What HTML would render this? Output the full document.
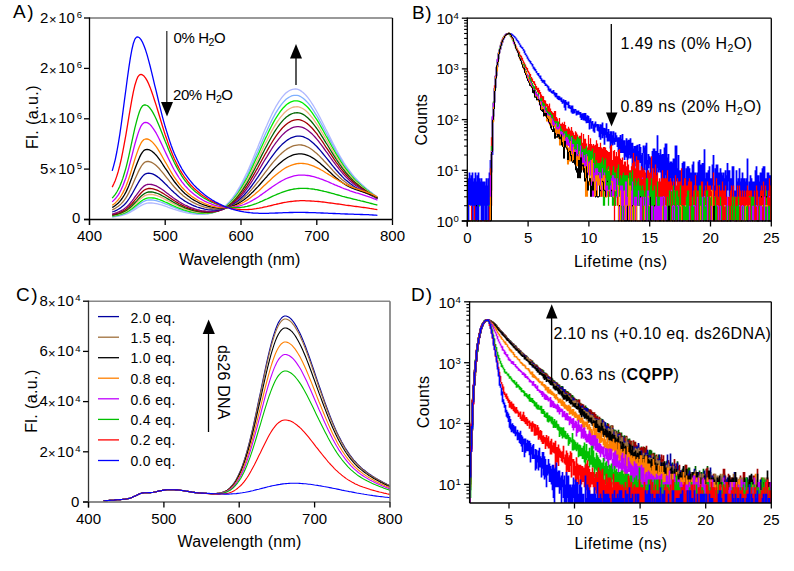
<!DOCTYPE html>
<html><head><meta charset="utf-8"><style>
html,body{margin:0;padding:0;background:#fff;width:794px;height:571px;overflow:hidden}
svg{display:block}
text{font-family:"Liberation Sans", sans-serif;fill:#000}
</style></head><body>
<svg width="794" height="571" viewBox="0 0 794 571">
<path d="M112.2 217 L113.7 216.8 L115.3 216.6 L116.8 216.4 L118.3 216.1 L119.8 215.8 L121.3 215.5 L122.8 215.1 L124.3 214.7 L125.9 214.1 L127.4 213.6 L128.9 212.9 L130.4 212.1 L131.9 211.3 L133.4 210.4 L134.9 209.4 L136.5 208.4 L138 207.5 L139.5 206.5 L141 205.6 L142.5 204.8 L144 204.1 L145.6 203.6 L147.1 203.2 L148.6 203 L150.1 203 L151.6 203 L153.1 203.1 L154.6 203.3 L156.2 203.6 L157.7 203.9 L159.2 204.3 L160.7 204.7 L162.2 205.2 L163.7 205.7 L165.2 206.2 L166.8 206.7 L168.3 207.3 L169.8 207.8 L171.3 208.3 L172.8 208.9 L174.3 209.4 L175.9 209.9 L177.4 210.4 L178.9 210.8 L180.4 211.3 L181.9 211.7 L183.4 212.1 L184.9 212.4 L186.5 212.8 L188 213.1 L189.5 213.3 L191 213.6 L192.5 213.8 L194 214 L195.6 214.2 L197.1 214.3 L198.6 214.4 L200.1 214.4 L201.6 214.4 L203.1 214.4 L204.6 214.3 L206.2 214.2 L207.7 214 L209.2 213.7 L210.7 213.4 L212.2 213 L213.7 212.5 L215.2 212 L216.8 211.4 L218.3 210.6 L219.8 209.8 L221.3 208.8 L222.8 207.8 L224.3 206.6 L225.8 205.3 L227.4 203.8 L228.9 202.2 L230.4 200.5 L231.9 198.7 L233.4 196.7 L234.9 194.5 L236.5 192.2 L238 189.7 L239.5 187.2 L241 184.4 L242.5 181.6 L244 178.6 L245.5 175.5 L247.1 172.2 L248.6 168.9 L250.1 165.5 L251.6 162 L253.1 158.4 L254.6 154.7 L256.1 151.1 L257.7 147.4 L259.2 143.6 L260.7 139.9 L262.2 136.2 L263.7 132.6 L265.2 129 L266.8 125.5 L268.3 122 L269.8 118.7 L271.3 115.5 L272.8 112.4 L274.3 109.5 L275.8 106.7 L277.4 104.1 L278.9 101.7 L280.4 99.5 L281.9 97.4 L283.4 95.6 L284.9 94 L286.4 92.6 L288 91.5 L289.5 90.5 L291 89.8 L292.5 89.3 L294 89.1 L295.5 89 L297.1 89.2 L298.6 89.7 L300.1 90.4 L301.6 91.4 L303.1 92.5 L304.6 93.9 L306.1 95.5 L307.7 97.4 L309.2 99.3 L310.7 101.5 L312.2 103.8 L313.7 106.2 L315.2 108.8 L316.8 111.5 L318.3 114.3 L319.8 117.1 L321.3 120 L322.8 123 L324.3 126 L325.8 129 L327.4 132 L328.9 135.1 L330.4 138.1 L331.9 141.1 L333.4 144 L334.9 146.9 L336.4 149.7 L338 152.5 L339.5 155.2 L341 157.8 L342.5 160.3 L344 162.8 L345.5 165.1 L347.1 167.3 L348.6 169.5 L350.1 171.5 L351.6 173.5 L353.1 175.3 L354.6 177.1 L356.1 178.8 L357.7 180.4 L359.2 181.9 L360.7 183.4 L362.2 184.8 L363.7 186.1 L365.2 187.4 L366.7 188.7 L368.3 189.9 L369.8 191.2 L371.3 192.3 L372.8 193.5 L374.3 194.7 L375.8 195.8 L377.4 197" fill="none" stroke="#b0b8ff" stroke-width="1.3" stroke-linejoin="round"/>
<path d="M112.2 216.5 L113.7 216.3 L115.3 216.1 L116.8 215.8 L118.3 215.5 L119.8 215.1 L121.3 214.8 L122.8 214.3 L124.3 213.8 L125.9 213.2 L127.4 212.5 L128.9 211.7 L130.4 210.8 L131.9 209.8 L133.4 208.7 L134.9 207.6 L136.5 206.4 L138 205.3 L139.5 204.1 L141 203.1 L142.5 202.1 L144 201.3 L145.6 200.7 L147.1 200.2 L148.6 200 L150.1 200 L151.6 200 L153.1 200.2 L154.6 200.4 L156.2 200.7 L157.7 201.1 L159.2 201.5 L160.7 202 L162.2 202.6 L163.7 203.2 L165.2 203.8 L166.8 204.4 L168.3 205 L169.8 205.7 L171.3 206.3 L172.8 206.9 L174.3 207.5 L175.9 208.1 L177.4 208.7 L178.9 209.3 L180.4 209.8 L181.9 210.3 L183.4 210.7 L184.9 211.2 L186.5 211.6 L188 211.9 L189.5 212.3 L191 212.6 L192.5 212.9 L194 213.1 L195.6 213.3 L197.1 213.5 L198.6 213.6 L200.1 213.7 L201.6 213.8 L203.1 213.8 L204.6 213.8 L206.2 213.7 L207.7 213.5 L209.2 213.4 L210.7 213.1 L212.2 212.8 L213.7 212.4 L215.2 211.9 L216.8 211.3 L218.3 210.7 L219.8 209.9 L221.3 209.1 L222.8 208.1 L224.3 207.1 L225.8 205.9 L227.4 204.5 L228.9 203.1 L230.4 201.5 L231.9 199.8 L233.4 197.9 L234.9 195.9 L236.5 193.8 L238 191.5 L239.5 189.1 L241 186.6 L242.5 183.9 L244 181.1 L245.5 178.2 L247.1 175.2 L248.6 172.1 L250.1 168.8 L251.6 165.5 L253.1 162.2 L254.6 158.7 L256.1 155.3 L257.7 151.8 L259.2 148.2 L260.7 144.7 L262.2 141.2 L263.7 137.7 L265.2 134.3 L266.8 131 L268.3 127.7 L269.8 124.5 L271.3 121.4 L272.8 118.4 L274.3 115.6 L275.8 112.9 L277.4 110.4 L278.9 108 L280.4 105.9 L281.9 103.9 L283.4 102.1 L284.9 100.5 L286.4 99.1 L288 97.9 L289.5 97 L291 96.2 L292.5 95.7 L294 95.4 L295.5 95.3 L297.1 95.4 L298.6 95.7 L300.1 96.3 L301.6 97.2 L303.1 98.2 L304.6 99.5 L306.1 101 L307.7 102.6 L309.2 104.4 L310.7 106.4 L312.2 108.6 L313.7 110.9 L315.2 113.3 L316.8 115.8 L318.3 118.4 L319.8 121.1 L321.3 123.8 L322.8 126.6 L324.3 129.5 L325.8 132.3 L327.4 135.2 L328.9 138.1 L330.4 140.9 L331.9 143.8 L333.4 146.6 L334.9 149.3 L336.4 152 L338 154.7 L339.5 157.2 L341 159.7 L342.5 162.1 L344 164.5 L345.5 166.7 L347.1 168.8 L348.6 170.9 L350.1 172.8 L351.6 174.7 L353.1 176.4 L354.6 178.1 L356.1 179.7 L357.7 181.3 L359.2 182.7 L360.7 184.1 L362.2 185.5 L363.7 186.8 L365.2 188 L366.7 189.2 L368.3 190.4 L369.8 191.6 L371.3 192.7 L372.8 193.9 L374.3 195 L375.8 196.1 L377.4 197.2" fill="none" stroke="#80b0ff" stroke-width="1.3" stroke-linejoin="round"/>
<path d="M112.2 216.2 L113.7 215.9 L115.3 215.7 L116.8 215.4 L118.3 215 L119.8 214.7 L121.3 214.2 L122.8 213.7 L124.3 213.1 L125.9 212.5 L127.4 211.7 L128.9 210.8 L130.4 209.8 L131.9 208.7 L133.4 207.5 L134.9 206.3 L136.5 205 L138 203.7 L139.5 202.4 L141 201.2 L142.5 200.2 L144 199.3 L145.6 198.6 L147.1 198.1 L148.6 197.8 L150.1 197.8 L151.6 197.8 L153.1 198 L154.6 198.2 L156.2 198.6 L157.7 199 L159.2 199.5 L160.7 200.1 L162.2 200.7 L163.7 201.3 L165.2 202 L166.8 202.7 L168.3 203.4 L169.8 204.1 L171.3 204.8 L172.8 205.5 L174.3 206.2 L175.9 206.9 L177.4 207.5 L178.9 208.1 L180.4 208.7 L181.9 209.2 L183.4 209.8 L184.9 210.2 L186.5 210.7 L188 211.1 L189.5 211.5 L191 211.8 L192.5 212.2 L194 212.4 L195.6 212.7 L197.1 212.9 L198.6 213.1 L200.1 213.2 L201.6 213.3 L203.1 213.4 L204.6 213.4 L206.2 213.3 L207.7 213.3 L209.2 213.1 L210.7 212.9 L212.2 212.6 L213.7 212.3 L215.2 211.9 L216.8 211.4 L218.3 210.8 L219.8 210.1 L221.3 209.3 L222.8 208.5 L224.3 207.5 L225.8 206.4 L227.4 205.2 L228.9 203.8 L230.4 202.4 L231.9 200.8 L233.4 199.1 L234.9 197.2 L236.5 195.2 L238 193.1 L239.5 190.8 L241 188.4 L242.5 185.9 L244 183.3 L245.5 180.6 L247.1 177.7 L248.6 174.8 L250.1 171.7 L251.6 168.6 L253.1 165.4 L254.6 162.1 L256.1 158.8 L257.7 155.5 L259.2 152.2 L260.7 148.8 L262.2 145.5 L263.7 142.2 L265.2 138.9 L266.8 135.7 L268.3 132.5 L269.8 129.4 L271.3 126.5 L272.8 123.6 L274.3 120.9 L275.8 118.3 L277.4 115.8 L278.9 113.6 L280.4 111.4 L281.9 109.5 L283.4 107.7 L284.9 106.2 L286.4 104.8 L288 103.6 L289.5 102.6 L291 101.9 L292.5 101.3 L294 100.9 L295.5 100.8 L297.1 100.8 L298.6 101.1 L300.1 101.6 L301.6 102.3 L303.1 103.3 L304.6 104.4 L306.1 105.8 L307.7 107.3 L309.2 109 L310.7 110.9 L312.2 112.9 L313.7 115.1 L315.2 117.3 L316.8 119.7 L318.3 122.2 L319.8 124.7 L321.3 127.4 L322.8 130 L324.3 132.8 L325.8 135.5 L327.4 138.2 L328.9 141 L330.4 143.7 L331.9 146.5 L333.4 149.1 L334.9 151.8 L336.4 154.4 L338 156.9 L339.5 159.4 L341 161.8 L342.5 164.1 L344 166.3 L345.5 168.4 L347.1 170.5 L348.6 172.4 L350.1 174.3 L351.6 176.1 L353.1 177.7 L354.6 179.4 L356.1 180.9 L357.7 182.3 L359.2 183.7 L360.7 185.1 L362.2 186.4 L363.7 187.6 L365.2 188.8 L366.7 190 L368.3 191.1 L369.8 192.2 L371.3 193.3 L372.8 194.4 L374.3 195.5 L375.8 196.6 L377.4 197.7" fill="none" stroke="#00ee00" stroke-width="1.3" stroke-linejoin="round"/>
<path d="M112.2 215.7 L113.7 215.4 L115.3 215.1 L116.8 214.7 L118.3 214.4 L119.8 213.9 L121.3 213.4 L122.8 212.8 L124.3 212.2 L125.9 211.4 L127.4 210.5 L128.9 209.5 L130.4 208.3 L131.9 207.1 L133.4 205.7 L134.9 204.2 L136.5 202.7 L138 201.2 L139.5 199.8 L141 198.4 L142.5 197.2 L144 196.2 L145.6 195.4 L147.1 194.8 L148.6 194.5 L150.1 194.5 L151.6 194.5 L153.1 194.7 L154.6 195 L156.2 195.4 L157.7 195.9 L159.2 196.5 L160.7 197.1 L162.2 197.8 L163.7 198.6 L165.2 199.3 L166.8 200.1 L168.3 201 L169.8 201.8 L171.3 202.6 L172.8 203.4 L174.3 204.2 L175.9 204.9 L177.4 205.7 L178.9 206.4 L180.4 207.1 L181.9 207.7 L183.4 208.3 L184.9 208.9 L186.5 209.4 L188 209.9 L189.5 210.3 L191 210.7 L192.5 211.1 L194 211.5 L195.6 211.8 L197.1 212 L198.6 212.3 L200.1 212.4 L201.6 212.6 L203.1 212.7 L204.6 212.8 L206.2 212.8 L207.7 212.7 L209.2 212.7 L210.7 212.5 L212.2 212.3 L213.7 212 L215.2 211.7 L216.8 211.3 L218.3 210.7 L219.8 210.2 L221.3 209.5 L222.8 208.7 L224.3 207.8 L225.8 206.8 L227.4 205.7 L228.9 204.5 L230.4 203.2 L231.9 201.7 L233.4 200.1 L234.9 198.4 L236.5 196.6 L238 194.6 L239.5 192.5 L241 190.3 L242.5 188 L244 185.5 L245.5 183 L247.1 180.3 L248.6 177.6 L250.1 174.7 L251.6 171.8 L253.1 168.8 L254.6 165.7 L256.1 162.6 L257.7 159.5 L259.2 156.3 L260.7 153.1 L262.2 150 L263.7 146.8 L265.2 143.7 L266.8 140.7 L268.3 137.7 L269.8 134.7 L271.3 131.9 L272.8 129.2 L274.3 126.6 L275.8 124.1 L277.4 121.7 L278.9 119.5 L280.4 117.4 L281.9 115.6 L283.4 113.8 L284.9 112.3 L286.4 110.9 L288 109.8 L289.5 108.8 L291 108 L292.5 107.4 L294 107 L295.5 106.8 L297.1 106.7 L298.6 106.9 L300.1 107.3 L301.6 108 L303.1 108.8 L304.6 109.8 L306.1 111.1 L307.7 112.5 L309.2 114.1 L310.7 115.8 L312.2 117.7 L313.7 119.7 L315.2 121.8 L316.8 124.1 L318.3 126.4 L319.8 128.8 L321.3 131.3 L322.8 133.8 L324.3 136.4 L325.8 139 L327.4 141.6 L328.9 144.2 L330.4 146.8 L331.9 149.4 L333.4 152 L334.9 154.5 L336.4 156.9 L338 159.3 L339.5 161.7 L341 163.9 L342.5 166.1 L344 168.3 L345.5 170.3 L347.1 172.2 L348.6 174.1 L350.1 175.8 L351.6 177.5 L353.1 179.1 L354.6 180.6 L356.1 182.1 L357.7 183.5 L359.2 184.8 L360.7 186 L362.2 187.2 L363.7 188.4 L365.2 189.5 L366.7 190.6 L368.3 191.7 L369.8 192.8 L371.3 193.8 L372.8 194.9 L374.3 195.9 L375.8 197 L377.4 198" fill="none" stroke="#f0b080" stroke-width="1.3" stroke-linejoin="round"/>
<path d="M112.2 215.3 L113.7 215 L115.3 214.6 L116.8 214.3 L118.3 213.8 L119.8 213.4 L121.3 212.8 L122.8 212.2 L124.3 211.4 L125.9 210.6 L127.4 209.6 L128.9 208.5 L130.4 207.2 L131.9 205.8 L133.4 204.3 L134.9 202.7 L136.5 201.1 L138 199.4 L139.5 197.8 L141 196.3 L142.5 195 L144 193.9 L145.6 193 L147.1 192.4 L148.6 192 L150.1 192 L151.6 192 L153.1 192.2 L154.6 192.6 L156.2 193 L157.7 193.5 L159.2 194.2 L160.7 194.9 L162.2 195.7 L163.7 196.5 L165.2 197.3 L166.8 198.2 L168.3 199.1 L169.8 200 L171.3 200.9 L172.8 201.8 L174.3 202.7 L175.9 203.5 L177.4 204.3 L178.9 205.1 L180.4 205.8 L181.9 206.5 L183.4 207.2 L184.9 207.8 L186.5 208.4 L188 208.9 L189.5 209.4 L191 209.9 L192.5 210.3 L194 210.7 L195.6 211 L197.1 211.4 L198.6 211.6 L200.1 211.9 L201.6 212.1 L203.1 212.2 L204.6 212.3 L206.2 212.4 L207.7 212.4 L209.2 212.3 L210.7 212.2 L212.2 212.1 L213.7 211.9 L215.2 211.6 L216.8 211.2 L218.3 210.8 L219.8 210.3 L221.3 209.7 L222.8 209 L224.3 208.2 L225.8 207.3 L227.4 206.3 L228.9 205.2 L230.4 204 L231.9 202.7 L233.4 201.2 L234.9 199.6 L236.5 198 L238 196.1 L239.5 194.2 L241 192.2 L242.5 190 L244 187.7 L245.5 185.4 L247.1 182.9 L248.6 180.3 L250.1 177.6 L251.6 174.9 L253.1 172.1 L254.6 169.2 L256.1 166.3 L257.7 163.4 L259.2 160.4 L260.7 157.4 L262.2 154.4 L263.7 151.5 L265.2 148.5 L266.8 145.6 L268.3 142.8 L269.8 140 L271.3 137.3 L272.8 134.7 L274.3 132.2 L275.8 129.8 L277.4 127.5 L278.9 125.4 L280.4 123.4 L281.9 121.6 L283.4 119.9 L284.9 118.4 L286.4 117.1 L288 115.9 L289.5 114.9 L291 114.1 L292.5 113.5 L294 113 L295.5 112.8 L297.1 112.7 L298.6 112.8 L300.1 113.1 L301.6 113.7 L303.1 114.4 L304.6 115.3 L306.1 116.4 L307.7 117.7 L309.2 119.2 L310.7 120.8 L312.2 122.5 L313.7 124.4 L315.2 126.4 L316.8 128.5 L318.3 130.7 L319.8 132.9 L321.3 135.3 L322.8 137.7 L324.3 140.1 L325.8 142.6 L327.4 145 L328.9 147.5 L330.4 150 L331.9 152.4 L333.4 154.8 L334.9 157.2 L336.4 159.5 L338 161.8 L339.5 164 L341 166.2 L342.5 168.3 L344 170.2 L345.5 172.2 L347.1 174 L348.6 175.7 L350.1 177.4 L351.6 179 L353.1 180.5 L354.6 181.9 L356.1 183.2 L357.7 184.5 L359.2 185.7 L360.7 186.9 L362.2 188.1 L363.7 189.1 L365.2 190.2 L366.7 191.3 L368.3 192.3 L369.8 193.3 L371.3 194.3 L372.8 195.3 L374.3 196.3 L375.8 197.3 L377.4 198.3" fill="none" stroke="#006400" stroke-width="1.3" stroke-linejoin="round"/>
<path d="M112.2 214.7 L113.7 214.3 L115.3 213.9 L116.8 213.5 L118.3 213 L119.8 212.5 L121.3 211.8 L122.8 211.1 L124.3 210.2 L125.9 209.2 L127.4 208.1 L128.9 206.8 L130.4 205.3 L131.9 203.7 L133.4 202 L134.9 200.2 L136.5 198.3 L138 196.4 L139.5 194.7 L141 193 L142.5 191.5 L144 190.3 L145.6 189.4 L147.1 188.8 L148.6 188.5 L150.1 188.5 L151.6 188.6 L153.1 188.9 L154.6 189.3 L156.2 189.8 L157.7 190.4 L159.2 191.2 L160.7 192 L162.2 192.9 L163.7 193.8 L165.2 194.8 L166.8 195.8 L168.3 196.8 L169.8 197.8 L171.3 198.8 L172.8 199.8 L174.3 200.8 L175.9 201.7 L177.4 202.6 L178.9 203.5 L180.4 204.3 L181.9 205.1 L183.4 205.8 L184.9 206.5 L186.5 207.2 L188 207.8 L189.5 208.4 L191 208.9 L192.5 209.4 L194 209.8 L195.6 210.2 L197.1 210.5 L198.6 210.9 L200.1 211.1 L201.6 211.4 L203.1 211.6 L204.6 211.7 L206.2 211.9 L207.7 211.9 L209.2 211.9 L210.7 211.9 L212.2 211.8 L213.7 211.7 L215.2 211.4 L216.8 211.2 L218.3 210.8 L219.8 210.4 L221.3 209.9 L222.8 209.3 L224.3 208.6 L225.8 207.8 L227.4 206.9 L228.9 206 L230.4 204.9 L231.9 203.7 L233.4 202.4 L234.9 201 L236.5 199.5 L238 197.8 L239.5 196.1 L241 194.2 L242.5 192.3 L244 190.2 L245.5 188 L247.1 185.8 L248.6 183.4 L250.1 181 L251.6 178.4 L253.1 175.9 L254.6 173.2 L256.1 170.5 L257.7 167.8 L259.2 165 L260.7 162.3 L262.2 159.5 L263.7 156.7 L265.2 154 L266.8 151.3 L268.3 148.6 L269.8 146 L271.3 143.5 L272.8 141 L274.3 138.6 L275.8 136.4 L277.4 134.2 L278.9 132.2 L280.4 130.3 L281.9 128.5 L283.4 126.9 L284.9 125.5 L286.4 124.2 L288 123 L289.5 122.1 L291 121.2 L292.5 120.6 L294 120.1 L295.5 119.8 L297.1 119.7 L298.6 119.7 L300.1 119.9 L301.6 120.4 L303.1 121 L304.6 121.8 L306.1 122.8 L307.7 123.9 L309.2 125.2 L310.7 126.7 L312.2 128.3 L313.7 130 L315.2 131.8 L316.8 133.7 L318.3 135.8 L319.8 137.8 L321.3 140 L322.8 142.2 L324.3 144.5 L325.8 146.8 L327.4 149.1 L328.9 151.4 L330.4 153.7 L331.9 155.9 L333.4 158.2 L334.9 160.4 L336.4 162.6 L338 164.7 L339.5 166.8 L341 168.8 L342.5 170.7 L344 172.5 L345.5 174.3 L347.1 176 L348.6 177.6 L350.1 179.1 L351.6 180.6 L353.1 181.9 L354.6 183.2 L356.1 184.5 L357.7 185.6 L359.2 186.8 L360.7 187.8 L362.2 188.9 L363.7 189.9 L365.2 190.8 L366.7 191.8 L368.3 192.7 L369.8 193.7 L371.3 194.6 L372.8 195.6 L374.3 196.5 L375.8 197.5 L377.4 198.5" fill="none" stroke="#a00000" stroke-width="1.3" stroke-linejoin="round"/>
<path d="M112.2 214 L113.7 213.6 L115.3 213.1 L116.8 212.6 L118.3 212 L119.8 211.4 L121.3 210.6 L122.8 209.7 L124.3 208.7 L125.9 207.5 L127.4 206.2 L128.9 204.7 L130.4 203 L131.9 201.1 L133.4 199.1 L134.9 197 L136.5 194.9 L138 192.8 L139.5 190.8 L141 189 L142.5 187.4 L144 186.1 L145.6 185.1 L147.1 184.5 L148.6 184.3 L150.1 184.3 L151.6 184.5 L153.1 184.8 L154.6 185.3 L156.2 185.9 L157.7 186.7 L159.2 187.6 L160.7 188.5 L162.2 189.5 L163.7 190.6 L165.2 191.7 L166.8 192.9 L168.3 194 L169.8 195.2 L171.3 196.3 L172.8 197.5 L174.3 198.6 L175.9 199.6 L177.4 200.6 L178.9 201.6 L180.4 202.5 L181.9 203.4 L183.4 204.2 L184.9 205 L186.5 205.7 L188 206.4 L189.5 207.1 L191 207.7 L192.5 208.2 L194 208.7 L195.6 209.2 L197.1 209.6 L198.6 209.9 L200.1 210.3 L201.6 210.6 L203.1 210.8 L204.6 211 L206.2 211.2 L207.7 211.3 L209.2 211.4 L210.7 211.4 L212.2 211.4 L213.7 211.3 L215.2 211.2 L216.8 211 L218.3 210.7 L219.8 210.4 L221.3 209.9 L222.8 209.5 L224.3 208.9 L225.8 208.2 L227.4 207.5 L228.9 206.6 L230.4 205.7 L231.9 204.6 L233.4 203.5 L234.9 202.2 L236.5 200.9 L238 199.4 L239.5 197.8 L241 196.2 L242.5 194.4 L244 192.5 L245.5 190.5 L247.1 188.5 L248.6 186.3 L250.1 184.1 L251.6 181.8 L253.1 179.5 L254.6 177 L256.1 174.6 L257.7 172.1 L259.2 169.5 L260.7 167 L262.2 164.4 L263.7 161.8 L265.2 159.3 L266.8 156.8 L268.3 154.3 L269.8 151.9 L271.3 149.5 L272.8 147.2 L274.3 145 L275.8 142.8 L277.4 140.8 L278.9 138.9 L280.4 137.1 L281.9 135.4 L283.4 133.9 L284.9 132.5 L286.4 131.2 L288 130.1 L289.5 129.2 L291 128.4 L292.5 127.7 L294 127.2 L295.5 126.9 L297.1 126.7 L298.6 126.7 L300.1 126.8 L301.6 127.1 L303.1 127.6 L304.6 128.3 L306.1 129.2 L307.7 130.2 L309.2 131.4 L310.7 132.7 L312.2 134.1 L313.7 135.6 L315.2 137.3 L316.8 139.1 L318.3 140.9 L319.8 142.9 L321.3 144.8 L322.8 146.9 L324.3 149 L325.8 151.1 L327.4 153.2 L328.9 155.3 L330.4 157.5 L331.9 159.6 L333.4 161.7 L334.9 163.7 L336.4 165.7 L338 167.7 L339.5 169.6 L341 171.4 L342.5 173.2 L344 174.9 L345.5 176.5 L347.1 178.1 L348.6 179.5 L350.1 180.9 L351.6 182.2 L353.1 183.5 L354.6 184.7 L356.1 185.8 L357.7 186.8 L359.2 187.8 L360.7 188.8 L362.2 189.7 L363.7 190.6 L365.2 191.5 L366.7 192.4 L368.3 193.3 L369.8 194.1 L371.3 195 L372.8 195.9 L374.3 196.8 L375.8 197.7 L377.4 198.6" fill="none" stroke="#800080" stroke-width="1.3" stroke-linejoin="round"/>
<path d="M112.2 212 L113.7 211.5 L115.3 210.8 L116.8 210.1 L118.3 209.3 L119.8 208.4 L121.3 207.3 L122.8 206.1 L124.3 204.7 L125.9 203 L127.4 201.2 L128.9 199 L130.4 196.7 L131.9 194.2 L133.4 191.5 L134.9 188.7 L136.5 185.9 L138 183.2 L139.5 180.6 L141 178.3 L142.5 176.4 L144 174.9 L145.6 173.8 L147.1 173.3 L148.6 173.1 L150.1 173.3 L151.6 173.6 L153.1 174.2 L154.6 174.9 L156.2 175.9 L157.7 176.9 L159.2 178.1 L160.7 179.4 L162.2 180.8 L163.7 182.3 L165.2 183.8 L166.8 185.3 L168.3 186.9 L169.8 188.4 L171.3 189.9 L172.8 191.3 L174.3 192.8 L175.9 194.1 L177.4 195.4 L178.9 196.7 L180.4 197.9 L181.9 199 L183.4 200.1 L184.9 201.1 L186.5 202 L188 202.9 L189.5 203.7 L191 204.4 L192.5 205.2 L194 205.8 L195.6 206.4 L197.1 207 L198.6 207.5 L200.1 207.9 L201.6 208.3 L203.1 208.7 L204.6 209.1 L206.2 209.3 L207.7 209.6 L209.2 209.8 L210.7 209.9 L212.2 210 L213.7 210.1 L215.2 210 L216.8 210 L218.3 209.8 L219.8 209.6 L221.3 209.4 L222.8 209 L224.3 208.6 L225.8 208.1 L227.4 207.6 L228.9 206.9 L230.4 206.1 L231.9 205.3 L233.4 204.4 L234.9 203.3 L236.5 202.2 L238 201 L239.5 199.7 L241 198.3 L242.5 196.8 L244 195.2 L245.5 193.5 L247.1 191.7 L248.6 189.9 L250.1 188 L251.6 186 L253.1 183.9 L254.6 181.8 L256.1 179.6 L257.7 177.4 L259.2 175.2 L260.7 172.9 L262.2 170.7 L263.7 168.4 L265.2 166.1 L266.8 163.9 L268.3 161.7 L269.8 159.5 L271.3 157.4 L272.8 155.3 L274.3 153.3 L275.8 151.4 L277.4 149.5 L278.9 147.8 L280.4 146.1 L281.9 144.6 L283.4 143.2 L284.9 141.9 L286.4 140.7 L288 139.6 L289.5 138.7 L291 137.9 L292.5 137.3 L294 136.8 L295.5 136.4 L297.1 136.2 L298.6 136.1 L300.1 136.1 L301.6 136.3 L303.1 136.7 L304.6 137.3 L306.1 138 L307.7 138.8 L309.2 139.8 L310.7 140.9 L312.2 142.2 L313.7 143.5 L315.2 145 L316.8 146.5 L318.3 148.2 L319.8 149.9 L321.3 151.7 L322.8 153.5 L324.3 155.3 L325.8 157.2 L327.4 159.1 L328.9 161 L330.4 162.9 L331.9 164.8 L333.4 166.7 L334.9 168.5 L336.4 170.3 L338 172 L339.5 173.7 L341 175.3 L342.5 176.9 L344 178.4 L345.5 179.8 L347.1 181.1 L348.6 182.3 L350.1 183.5 L351.6 184.6 L353.1 185.7 L354.6 186.7 L356.1 187.6 L357.7 188.5 L359.2 189.3 L360.7 190.1 L362.2 190.9 L363.7 191.6 L365.2 192.4 L366.7 193.1 L368.3 193.9 L369.8 194.6 L371.3 195.4 L372.8 196.2 L374.3 197 L375.8 197.9 L377.4 198.7" fill="none" stroke="#0000a0" stroke-width="1.3" stroke-linejoin="round"/>
<path d="M112.2 209.9 L113.7 209.1 L115.3 208.3 L116.8 207.3 L118.3 206.3 L119.8 205.1 L121.3 203.6 L122.8 202 L124.3 200.1 L125.9 197.9 L127.4 195.4 L128.9 192.6 L130.4 189.5 L131.9 186.2 L133.4 182.8 L134.9 179.3 L136.5 175.8 L138 172.4 L139.5 169.4 L141 166.7 L142.5 164.5 L144 162.9 L145.6 161.8 L147.1 161.5 L148.6 161.5 L150.1 161.8 L151.6 162.4 L153.1 163.2 L154.6 164.2 L156.2 165.5 L157.7 167 L159.2 168.5 L160.7 170.3 L162.2 172.1 L163.7 173.9 L165.2 175.8 L166.8 177.8 L168.3 179.7 L169.8 181.6 L171.3 183.4 L172.8 185.3 L174.3 187 L175.9 188.7 L177.4 190.3 L178.9 191.8 L180.4 193.3 L181.9 194.6 L183.4 195.9 L184.9 197.1 L186.5 198.3 L188 199.3 L189.5 200.3 L191 201.3 L192.5 202.1 L194 202.9 L195.6 203.7 L197.1 204.4 L198.6 205 L200.1 205.6 L201.6 206.1 L203.1 206.6 L204.6 207.1 L206.2 207.5 L207.7 207.8 L209.2 208.1 L210.7 208.4 L212.2 208.6 L213.7 208.8 L215.2 208.9 L216.8 208.9 L218.3 208.9 L219.8 208.8 L221.3 208.7 L222.8 208.5 L224.3 208.3 L225.8 207.9 L227.4 207.5 L228.9 207 L230.4 206.5 L231.9 205.8 L233.4 205.1 L234.9 204.2 L236.5 203.3 L238 202.3 L239.5 201.3 L241 200.1 L242.5 198.8 L244 197.5 L245.5 196.1 L247.1 194.6 L248.6 193 L250.1 191.3 L251.6 189.6 L253.1 187.8 L254.6 186 L256.1 184.1 L257.7 182.2 L259.2 180.3 L260.7 178.3 L262.2 176.3 L263.7 174.3 L265.2 172.3 L266.8 170.3 L268.3 168.4 L269.8 166.4 L271.3 164.5 L272.8 162.7 L274.3 160.9 L275.8 159.2 L277.4 157.5 L278.9 155.9 L280.4 154.4 L281.9 153 L283.4 151.7 L284.9 150.5 L286.4 149.4 L288 148.4 L289.5 147.6 L291 146.8 L292.5 146.2 L294 145.7 L295.5 145.3 L297.1 145.1 L298.6 144.9 L300.1 144.9 L301.6 145 L303.1 145.3 L304.6 145.7 L306.1 146.3 L307.7 147 L309.2 147.8 L310.7 148.7 L312.2 149.8 L313.7 150.9 L315.2 152.2 L316.8 153.5 L318.3 154.9 L319.8 156.4 L321.3 158 L322.8 159.5 L324.3 161.2 L325.8 162.8 L327.4 164.5 L328.9 166.1 L330.4 167.8 L331.9 169.4 L333.4 171.1 L334.9 172.7 L336.4 174.2 L338 175.7 L339.5 177.2 L341 178.6 L342.5 179.9 L344 181.1 L345.5 182.3 L347.1 183.5 L348.6 184.5 L350.1 185.5 L351.6 186.4 L353.1 187.3 L354.6 188.1 L356.1 188.8 L357.7 189.5 L359.2 190.2 L360.7 190.8 L362.2 191.4 L363.7 192 L365.2 192.7 L366.7 193.3 L368.3 193.9 L369.8 194.6 L371.3 195.3 L372.8 196 L374.3 196.8 L375.8 197.6 L377.4 198.4" fill="none" stroke="#a0703c" stroke-width="1.3" stroke-linejoin="round"/>
<path d="M112.2 207.5 L113.7 206.6 L115.3 205.5 L116.8 204.3 L118.3 203 L119.8 201.4 L121.3 199.5 L122.8 197.4 L124.3 195 L125.9 192.1 L127.4 188.9 L128.9 185.4 L130.4 181.5 L131.9 177.5 L133.4 173.2 L134.9 168.9 L136.5 164.8 L138 160.9 L139.5 157.4 L141 154.4 L142.5 152.1 L144 150.4 L145.6 149.6 L147.1 149.4 L148.6 149.6 L150.1 150.2 L151.6 151 L153.1 152.2 L154.6 153.6 L156.2 155.2 L157.7 157.1 L159.2 159.1 L160.7 161.2 L162.2 163.5 L163.7 165.8 L165.2 168.1 L166.8 170.4 L168.3 172.7 L169.8 175 L171.3 177.2 L172.8 179.4 L174.3 181.5 L175.9 183.5 L177.4 185.3 L178.9 187.2 L180.4 188.9 L181.9 190.5 L183.4 192 L184.9 193.4 L186.5 194.7 L188 195.9 L189.5 197.1 L191 198.2 L192.5 199.2 L194 200.1 L195.6 201 L197.1 201.8 L198.6 202.6 L200.1 203.3 L201.6 204 L203.1 204.6 L204.6 205.1 L206.2 205.6 L207.7 206.1 L209.2 206.5 L210.7 206.9 L212.2 207.2 L213.7 207.5 L215.2 207.7 L216.8 207.9 L218.3 208 L219.8 208.1 L221.3 208.1 L222.8 208 L224.3 207.9 L225.8 207.7 L227.4 207.5 L228.9 207.1 L230.4 206.7 L231.9 206.3 L233.4 205.7 L234.9 205.1 L236.5 204.4 L238 203.6 L239.5 202.7 L241 201.8 L242.5 200.8 L244 199.7 L245.5 198.5 L247.1 197.3 L248.6 196 L250.1 194.6 L251.6 193.1 L253.1 191.7 L254.6 190.1 L256.1 188.5 L257.7 186.9 L259.2 185.2 L260.7 183.5 L262.2 181.8 L263.7 180.1 L265.2 178.4 L266.8 176.7 L268.3 174.9 L269.8 173.3 L271.3 171.6 L272.8 170 L274.3 168.4 L275.8 166.9 L277.4 165.4 L278.9 164 L280.4 162.7 L281.9 161.4 L283.4 160.3 L284.9 159.2 L286.4 158.2 L288 157.3 L289.5 156.5 L291 155.8 L292.5 155.2 L294 154.7 L295.5 154.4 L297.1 154.1 L298.6 153.9 L300.1 153.9 L301.6 153.9 L303.1 154.1 L304.6 154.4 L306.1 154.8 L307.7 155.3 L309.2 156 L310.7 156.7 L312.2 157.6 L313.7 158.5 L315.2 159.6 L316.8 160.7 L318.3 161.9 L319.8 163.1 L321.3 164.4 L322.8 165.7 L324.3 167.1 L325.8 168.4 L327.4 169.8 L328.9 171.2 L330.4 172.6 L331.9 174 L333.4 175.4 L334.9 176.7 L336.4 178 L338 179.3 L339.5 180.5 L341 181.6 L342.5 182.7 L344 183.7 L345.5 184.7 L347.1 185.6 L348.6 186.4 L350.1 187.2 L351.6 187.9 L353.1 188.5 L354.6 189.1 L356.1 189.7 L357.7 190.2 L359.2 190.7 L360.7 191.2 L362.2 191.7 L363.7 192.2 L365.2 192.7 L366.7 193.2 L368.3 193.7 L369.8 194.3 L371.3 194.9 L372.8 195.5 L374.3 196.2 L375.8 197 L377.4 197.8" fill="none" stroke="#000000" stroke-width="1.3" stroke-linejoin="round"/>
<path d="M112.2 205.3 L113.7 204.2 L115.3 202.9 L116.8 201.4 L118.3 199.7 L119.8 197.8 L121.3 195.5 L122.8 192.9 L124.3 189.9 L125.9 186.5 L127.4 182.6 L128.9 178.3 L130.4 173.7 L131.9 168.9 L133.4 164 L134.9 159.1 L136.5 154.4 L138 150.1 L139.5 146.3 L141 143.2 L142.5 140.9 L144 139.5 L145.6 139 L147.1 139 L148.6 139.4 L150.1 140.2 L151.6 141.4 L153.1 142.9 L154.6 144.7 L156.2 146.7 L157.7 148.9 L159.2 151.3 L160.7 153.9 L162.2 156.5 L163.7 159.2 L165.2 161.9 L166.8 164.5 L168.3 167.2 L169.8 169.8 L171.3 172.3 L172.8 174.8 L174.3 177.1 L175.9 179.3 L177.4 181.5 L178.9 183.5 L180.4 185.4 L181.9 187.2 L183.4 188.8 L184.9 190.4 L186.5 191.9 L188 193.3 L189.5 194.6 L191 195.8 L192.5 196.9 L194 197.9 L195.6 198.9 L197.1 199.8 L198.6 200.7 L200.1 201.5 L201.6 202.2 L203.1 202.9 L204.6 203.6 L206.2 204.2 L207.7 204.7 L209.2 205.3 L210.7 205.7 L212.2 206.1 L213.7 206.5 L215.2 206.8 L216.8 207.1 L218.3 207.4 L219.8 207.5 L221.3 207.7 L222.8 207.7 L224.3 207.7 L225.8 207.7 L227.4 207.6 L228.9 207.4 L230.4 207.2 L231.9 206.9 L233.4 206.5 L234.9 206.1 L236.5 205.6 L238 205 L239.5 204.4 L241 203.7 L242.5 202.9 L244 202 L245.5 201.1 L247.1 200.1 L248.6 199.1 L250.1 198 L251.6 196.8 L253.1 195.6 L254.6 194.4 L256.1 193.1 L257.7 191.7 L259.2 190.4 L260.7 189 L262.2 187.5 L263.7 186.1 L265.2 184.7 L266.8 183.2 L268.3 181.8 L269.8 180.4 L271.3 179 L272.8 177.6 L274.3 176.3 L275.8 175 L277.4 173.7 L278.9 172.5 L280.4 171.4 L281.9 170.3 L283.4 169.3 L284.9 168.3 L286.4 167.4 L288 166.7 L289.5 166 L291 165.3 L292.5 164.8 L294 164.3 L295.5 164 L297.1 163.7 L298.6 163.5 L300.1 163.4 L301.6 163.4 L303.1 163.5 L304.6 163.7 L306.1 163.9 L307.7 164.2 L309.2 164.6 L310.7 165.1 L312.2 165.6 L313.7 166.2 L315.2 166.9 L316.8 167.6 L318.3 168.3 L319.8 169.1 L321.3 170 L322.8 170.8 L324.3 171.7 L325.8 172.7 L327.4 173.6 L328.9 174.6 L330.4 175.5 L331.9 176.5 L333.4 177.4 L334.9 178.4 L336.4 179.3 L338 180.2 L339.5 181.1 L341 181.9 L342.5 182.8 L344 183.5 L345.5 184.3 L347.1 185 L348.6 185.7 L350.1 186.3 L351.6 186.9 L353.1 187.5 L354.6 188.1 L356.1 188.6 L357.7 189.1 L359.2 189.6 L360.7 190.1 L362.2 190.6 L363.7 191.1 L365.2 191.7 L366.7 192.2 L368.3 192.8 L369.8 193.4 L371.3 194 L372.8 194.7 L374.3 195.4 L375.8 196.2 L377.4 197" fill="none" stroke="#ff8000" stroke-width="1.3" stroke-linejoin="round"/>
<path d="M112.2 201.9 L113.7 200.4 L115.3 198.8 L116.8 196.9 L118.3 194.8 L119.8 192.3 L121.3 189.3 L122.8 186 L124.3 182.1 L125.9 177.7 L127.4 172.8 L128.9 167.4 L130.4 161.7 L131.9 155.8 L133.4 149.8 L134.9 144 L136.5 138.5 L138 133.6 L139.5 129.4 L141 126.1 L142.5 123.9 L144 122.7 L145.6 122.4 L147.1 122.7 L148.6 123.4 L150.1 124.6 L151.6 126.3 L153.1 128.3 L154.6 130.6 L156.2 133.2 L157.7 136 L159.2 139 L160.7 142.1 L162.2 145.3 L163.7 148.6 L165.2 151.8 L166.8 155.1 L168.3 158.2 L169.8 161.3 L171.3 164.3 L172.8 167.2 L174.3 170 L175.9 172.6 L177.4 175.1 L178.9 177.5 L180.4 179.7 L181.9 181.8 L183.4 183.7 L184.9 185.6 L186.5 187.3 L188 188.9 L189.5 190.4 L191 191.8 L192.5 193.1 L194 194.3 L195.6 195.5 L197.1 196.6 L198.6 197.6 L200.1 198.5 L201.6 199.4 L203.1 200.3 L204.6 201.1 L206.2 201.8 L207.7 202.5 L209.2 203.1 L210.7 203.7 L212.2 204.3 L213.7 204.8 L215.2 205.3 L216.8 205.7 L218.3 206.1 L219.8 206.4 L221.3 206.7 L222.8 206.9 L224.3 207.1 L225.8 207.3 L227.4 207.3 L228.9 207.4 L230.4 207.3 L231.9 207.3 L233.4 207.1 L234.9 206.9 L236.5 206.7 L238 206.3 L239.5 206 L241 205.5 L242.5 205 L244 204.5 L245.5 203.9 L247.1 203.2 L248.6 202.5 L250.1 201.7 L251.6 200.9 L253.1 200 L254.6 199.1 L256.1 198.2 L257.7 197.2 L259.2 196.2 L260.7 195.1 L262.2 194.1 L263.7 193 L265.2 191.9 L266.8 190.8 L268.3 189.7 L269.8 188.6 L271.3 187.6 L272.8 186.5 L274.3 185.5 L275.8 184.5 L277.4 183.5 L278.9 182.5 L280.4 181.6 L281.9 180.8 L283.4 180 L284.9 179.2 L286.4 178.5 L288 177.9 L289.5 177.3 L291 176.8 L292.5 176.3 L294 175.9 L295.5 175.6 L297.1 175.4 L298.6 175.2 L300.1 175.1 L301.6 175.1 L303.1 175.1 L304.6 175.2 L306.1 175.3 L307.7 175.5 L309.2 175.7 L310.7 176 L312.2 176.3 L313.7 176.7 L315.2 177.1 L316.8 177.6 L318.3 178 L319.8 178.6 L321.3 179.1 L322.8 179.7 L324.3 180.3 L325.8 180.9 L327.4 181.5 L328.9 182.1 L330.4 182.8 L331.9 183.5 L333.4 184.1 L334.9 184.8 L336.4 185.4 L338 186.1 L339.5 186.7 L341 187.3 L342.5 188 L344 188.6 L345.5 189.1 L347.1 189.7 L348.6 190.2 L350.1 190.8 L351.6 191.3 L353.1 191.8 L354.6 192.3 L356.1 192.8 L357.7 193.2 L359.2 193.7 L360.7 194.2 L362.2 194.6 L363.7 195.1 L365.2 195.6 L366.7 196.1 L368.3 196.6 L369.8 197.2 L371.3 197.7 L372.8 198.3 L374.3 198.9 L375.8 199.5 L377.4 200.2" fill="none" stroke="#c000ff" stroke-width="1.3" stroke-linejoin="round"/>
<path d="M112.2 198.2 L113.7 196.4 L115.3 194.3 L116.8 192 L118.3 189.3 L119.8 186.2 L121.3 182.6 L122.8 178.4 L124.3 173.5 L125.9 168.1 L127.4 162.1 L128.9 155.6 L130.4 148.7 L131.9 141.7 L133.4 134.7 L134.9 127.9 L136.5 121.6 L138 116.1 L139.5 111.5 L141 108.1 L142.5 105.9 L144 105 L145.6 105 L147.1 105.5 L148.6 106.6 L150.1 108.3 L151.6 110.4 L153.1 112.9 L154.6 115.8 L156.2 119 L157.7 122.4 L159.2 126.1 L160.7 129.8 L162.2 133.6 L163.7 137.5 L165.2 141.3 L166.8 145.1 L168.3 148.9 L169.8 152.5 L171.3 156 L172.8 159.3 L174.3 162.5 L175.9 165.6 L177.4 168.4 L178.9 171.2 L180.4 173.7 L181.9 176.1 L183.4 178.3 L184.9 180.5 L186.5 182.4 L188 184.3 L189.5 186 L191 187.6 L192.5 189.1 L194 190.5 L195.6 191.9 L197.1 193.1 L198.6 194.3 L200.1 195.4 L201.6 196.5 L203.1 197.5 L204.6 198.4 L206.2 199.3 L207.7 200.1 L209.2 200.9 L210.7 201.6 L212.2 202.3 L213.7 203 L215.2 203.6 L216.8 204.2 L218.3 204.7 L219.8 205.2 L221.3 205.7 L222.8 206.1 L224.3 206.4 L225.8 206.8 L227.4 207 L228.9 207.3 L230.4 207.5 L231.9 207.6 L233.4 207.7 L234.9 207.7 L236.5 207.7 L238 207.7 L239.5 207.6 L241 207.4 L242.5 207.2 L244 207 L245.5 206.7 L247.1 206.4 L248.6 206 L250.1 205.6 L251.6 205.2 L253.1 204.7 L254.6 204.1 L256.1 203.6 L257.7 203 L259.2 202.4 L260.7 201.7 L262.2 201.1 L263.7 200.4 L265.2 199.7 L266.8 199 L268.3 198.3 L269.8 197.6 L271.3 196.9 L272.8 196.2 L274.3 195.5 L275.8 194.9 L277.4 194.2 L278.9 193.6 L280.4 193 L281.9 192.4 L283.4 191.8 L284.9 191.3 L286.4 190.8 L288 190.4 L289.5 190 L291 189.6 L292.5 189.3 L294 189 L295.5 188.8 L297.1 188.6 L298.6 188.5 L300.1 188.4 L301.6 188.3 L303.1 188.3 L304.6 188.4 L306.1 188.4 L307.7 188.5 L309.2 188.7 L310.7 188.8 L312.2 189 L313.7 189.2 L315.2 189.5 L316.8 189.7 L318.3 190 L319.8 190.3 L321.3 190.7 L322.8 191 L324.3 191.4 L325.8 191.7 L327.4 192.1 L328.9 192.5 L330.4 192.9 L331.9 193.3 L333.4 193.7 L334.9 194.2 L336.4 194.6 L338 195 L339.5 195.4 L341 195.8 L342.5 196.3 L344 196.7 L345.5 197.1 L347.1 197.5 L348.6 197.8 L350.1 198.2 L351.6 198.6 L353.1 199 L354.6 199.3 L356.1 199.7 L357.7 200.1 L359.2 200.4 L360.7 200.8 L362.2 201.1 L363.7 201.5 L365.2 201.9 L366.7 202.3 L368.3 202.7 L369.8 203.1 L371.3 203.5 L372.8 203.9 L374.3 204.3 L375.8 204.7 L377.4 205.2" fill="none" stroke="#00c000" stroke-width="1.3" stroke-linejoin="round"/>
<path d="M112.2 187.1 L113.7 184 L115.3 180.4 L116.8 176.1 L118.3 171.2 L119.8 165.5 L121.3 159 L122.8 151.6 L124.3 143.6 L125.9 134.9 L127.4 125.9 L128.9 116.7 L130.4 107.8 L131.9 99.3 L133.4 91.6 L134.9 85.2 L136.5 80.1 L138 76.6 L139.5 74.8 L141 74.4 L142.5 74.9 L144 76.1 L145.6 78.1 L147.1 80.6 L148.6 83.8 L150.1 87.4 L151.6 91.5 L153.1 95.9 L154.6 100.5 L156.2 105.4 L157.7 110.3 L159.2 115.3 L160.7 120.3 L162.2 125.2 L163.7 130.1 L165.2 134.7 L166.8 139.2 L168.3 143.6 L169.8 147.7 L171.3 151.6 L172.8 155.3 L174.3 158.8 L175.9 162 L177.4 165.1 L178.9 168 L180.4 170.7 L181.9 173.2 L183.4 175.5 L184.9 177.7 L186.5 179.7 L188 181.7 L189.5 183.5 L191 185.2 L192.5 186.8 L194 188.3 L195.6 189.7 L197.1 191 L198.6 192.3 L200.1 193.5 L201.6 194.7 L203.1 195.8 L204.6 196.8 L206.2 197.8 L207.7 198.8 L209.2 199.7 L210.7 200.5 L212.2 201.4 L213.7 202.1 L215.2 202.9 L216.8 203.6 L218.3 204.2 L219.8 204.9 L221.3 205.5 L222.8 206 L224.3 206.5 L225.8 207 L227.4 207.4 L228.9 207.8 L230.4 208.2 L231.9 208.5 L233.4 208.8 L234.9 209 L236.5 209.2 L238 209.4 L239.5 209.5 L241 209.6 L242.5 209.7 L244 209.7 L245.5 209.7 L247.1 209.6 L248.6 209.5 L250.1 209.4 L251.6 209.3 L253.1 209.1 L254.6 208.9 L256.1 208.7 L257.7 208.4 L259.2 208.2 L260.7 207.9 L262.2 207.6 L263.7 207.2 L265.2 206.9 L266.8 206.6 L268.3 206.2 L269.8 205.8 L271.3 205.5 L272.8 205.1 L274.3 204.7 L275.8 204.4 L277.4 204 L278.9 203.7 L280.4 203.3 L281.9 203 L283.4 202.7 L284.9 202.4 L286.4 202.2 L288 201.9 L289.5 201.7 L291 201.5 L292.5 201.3 L294 201.1 L295.5 201 L297.1 200.9 L298.6 200.8 L300.1 200.7 L301.6 200.7 L303.1 200.7 L304.6 200.7 L306.1 200.8 L307.7 200.8 L309.2 200.9 L310.7 201 L312.2 201.1 L313.7 201.2 L315.2 201.3 L316.8 201.4 L318.3 201.5 L319.8 201.7 L321.3 201.9 L322.8 202 L324.3 202.2 L325.8 202.4 L327.4 202.6 L328.9 202.8 L330.4 203 L331.9 203.2 L333.4 203.4 L334.9 203.6 L336.4 203.8 L338 204 L339.5 204.2 L341 204.4 L342.5 204.6 L344 204.8 L345.5 205.1 L347.1 205.3 L348.6 205.5 L350.1 205.7 L351.6 205.9 L353.1 206.1 L354.6 206.3 L356.1 206.5 L357.7 206.7 L359.2 206.9 L360.7 207.1 L362.2 207.3 L363.7 207.5 L365.2 207.7 L366.7 207.9 L368.3 208.1 L369.8 208.4 L371.3 208.6 L372.8 208.8 L374.3 209.1 L375.8 209.3 L377.4 209.6" fill="none" stroke="#ff0000" stroke-width="1.3" stroke-linejoin="round"/>
<path d="M112.2 170.9 L113.7 165.6 L115.3 159.3 L116.8 152 L118.3 143.7 L119.8 134.3 L121.3 124 L122.8 112.9 L124.3 101.3 L125.9 89.5 L127.4 78 L128.9 67.3 L130.4 57.6 L131.9 49.5 L133.4 43.2 L134.9 39.1 L136.5 37.2 L138 37 L139.5 37.8 L141 39.6 L142.5 42.3 L144 45.8 L145.6 50.1 L147.1 54.9 L148.6 60.3 L150.1 66 L151.6 72.1 L153.1 78.4 L154.6 84.8 L156.2 91.2 L157.7 97.5 L159.2 103.8 L160.7 109.9 L162.2 115.8 L163.7 121.4 L165.2 126.8 L166.8 131.9 L168.3 136.8 L169.8 141.4 L171.3 145.7 L172.8 149.7 L174.3 153.4 L175.9 156.9 L177.4 160.2 L178.9 163.3 L180.4 166.1 L181.9 168.8 L183.4 171.3 L184.9 173.7 L186.5 175.9 L188 177.9 L189.5 179.9 L191 181.7 L192.5 183.5 L194 185.1 L195.6 186.7 L197.1 188.2 L198.6 189.6 L200.1 191 L201.6 192.3 L203.1 193.5 L204.6 194.7 L206.2 195.9 L207.7 197 L209.2 198 L210.7 199 L212.2 200 L213.7 200.9 L215.2 201.8 L216.8 202.6 L218.3 203.4 L219.8 204.2 L221.3 204.9 L222.8 205.6 L224.3 206.3 L225.8 206.9 L227.4 207.5 L228.9 208 L230.4 208.6 L231.9 209 L233.4 209.5 L234.9 209.9 L236.5 210.3 L238 210.7 L239.5 211 L241 211.3 L242.5 211.6 L244 211.9 L245.5 212.1 L247.1 212.3 L248.6 212.5 L250.1 212.7 L251.6 212.8 L253.1 213 L254.6 213.1 L256.1 213.1 L257.7 213.2 L259.2 213.3 L260.7 213.3 L262.2 213.3 L263.7 213.3 L265.2 213.3 L266.8 213.3 L268.3 213.3 L269.8 213.2 L271.3 213.2 L272.8 213.1 L274.3 213.1 L275.8 213 L277.4 213 L278.9 212.9 L280.4 212.9 L281.9 212.8 L283.4 212.7 L284.9 212.7 L286.4 212.6 L288 212.6 L289.5 212.5 L291 212.5 L292.5 212.5 L294 212.4 L295.5 212.4 L297.1 212.4 L298.6 212.4 L300.1 212.4 L301.6 212.4 L303.1 212.4 L304.6 212.4 L306.1 212.5 L307.7 212.5 L309.2 212.6 L310.7 212.6 L312.2 212.6 L313.7 212.7 L315.2 212.7 L316.8 212.8 L318.3 212.8 L319.8 212.9 L321.3 213 L322.8 213 L324.3 213.1 L325.8 213.1 L327.4 213.2 L328.9 213.3 L330.4 213.3 L331.9 213.4 L333.4 213.5 L334.9 213.5 L336.4 213.6 L338 213.7 L339.5 213.7 L341 213.8 L342.5 213.9 L344 213.9 L345.5 214 L347.1 214 L348.6 214.1 L350.1 214.1 L351.6 214.2 L353.1 214.2 L354.6 214.3 L356.1 214.3 L357.7 214.4 L359.2 214.4 L360.7 214.5 L362.2 214.5 L363.7 214.6 L365.2 214.6 L366.7 214.7 L368.3 214.7 L369.8 214.8 L371.3 214.9 L372.8 215 L374.3 215.1 L375.8 215.2 L377.4 215.3" fill="none" stroke="#0000ff" stroke-width="1.3" stroke-linejoin="round"/>
<line x1="89.5" y1="18" x2="392.5" y2="18" stroke="#777" stroke-width="1.5"/>
<line x1="392.5" y1="18" x2="392.5" y2="219.5" stroke="#000" stroke-width="1.3"/>
<line x1="89.5" y1="17.4" x2="89.5" y2="225" stroke="#000" stroke-width="1.3"/>
<line x1="84" y1="219.5" x2="392.5" y2="219.5" stroke="#000" stroke-width="1.3"/>
<line x1="84" y1="219.5" x2="89.5" y2="219.5" stroke="#000" stroke-width="1.3"/>
<line x1="89.5" y1="219.5" x2="89.5" y2="225" stroke="#000" stroke-width="1.3"/>
<text id="ax0" x="89.50" y="240.50" font-size="15" text-anchor="middle" >400</text>
<line x1="84" y1="169.1" x2="89.5" y2="169.1" stroke="#000" stroke-width="1.3"/>
<line x1="165.2" y1="219.5" x2="165.2" y2="225" stroke="#000" stroke-width="1.3"/>
<text id="ax1" x="165.25" y="240.50" font-size="15" text-anchor="middle" >500</text>
<line x1="84" y1="118.8" x2="89.5" y2="118.8" stroke="#000" stroke-width="1.3"/>
<line x1="241" y1="219.5" x2="241" y2="225" stroke="#000" stroke-width="1.3"/>
<text id="ax2" x="241.00" y="240.50" font-size="15" text-anchor="middle" >600</text>
<line x1="84" y1="68.4" x2="89.5" y2="68.4" stroke="#000" stroke-width="1.3"/>
<line x1="316.8" y1="219.5" x2="316.8" y2="225" stroke="#000" stroke-width="1.3"/>
<text id="ax3" x="316.75" y="240.50" font-size="15" text-anchor="middle" >700</text>
<line x1="84" y1="18" x2="89.5" y2="18" stroke="#000" stroke-width="1.3"/>
<line x1="392.5" y1="219.5" x2="392.5" y2="225" stroke="#000" stroke-width="1.3"/>
<text id="ax4" x="392.50" y="240.50" font-size="15" text-anchor="middle" >800</text>
<text id="ay0" x="72.00" y="223.00" font-size="15" >0</text>
<text id="ay1" x="40.00" y="173.55" font-size="15">5<tspan x="48.93" dy="1.6" font-size="13">×</tspan><tspan x="58.27" dy="-1.6">10</tspan><tspan x="76.80" dy="-4.6" font-size="9.5">5</tspan></text>
<text id="ay2" x="40.00" y="123.30" font-size="15">1<tspan x="48.93" dy="1.6" font-size="13">×</tspan><tspan x="58.27" dy="-1.6">10</tspan><tspan x="76.80" dy="-4.6" font-size="9.5">6</tspan></text>
<text id="ay3" x="40.00" y="73.05" font-size="15">2<tspan x="48.93" dy="1.6" font-size="13">×</tspan><tspan x="58.27" dy="-1.6">10</tspan><tspan x="76.80" dy="-4.6" font-size="9.5">6</tspan></text>
<text id="ay4" x="40.00" y="22.80" font-size="15">2<tspan x="48.93" dy="1.6" font-size="13">×</tspan><tspan x="58.27" dy="-1.6">10</tspan><tspan x="76.80" dy="-4.6" font-size="9.5">6</tspan></text>
<text id="Alab" x="13.00" y="18.20" font-size="19" letter-spacing="1.50" >A)</text>
<text id="Aytitle" transform="translate(37.50,149.00) rotate(-90)" font-size="16" letter-spacing="0.44" >Fl. (a.u.)</text>
<text id="Axtitle" x="179.00" y="265.00" font-size="16" >Wavelength (nm)</text>
<line x1="166.8" y1="31" x2="166.8" y2="103" stroke="#333" stroke-width="1.3"/>
<path d="M161 102 L173 102 L167 116.5 Z" fill="#000"/>
<text id="Ah0" x="173.50" y="42.50" font-size="15" letter-spacing="-0.40" >0% H<tspan font-size="10.5" dy="3">2</tspan><tspan dy="-3">O</tspan></text>
<text id="Ah20" x="173.00" y="99.50" font-size="15" letter-spacing="-0.42" >20% H<tspan font-size="10.5" dy="3">2</tspan><tspan dy="-3">O</tspan></text>
<line x1="296" y1="85" x2="296" y2="58" stroke="#000" stroke-width="1.3"/>
<path d="M290 58.5 L302 58.5 L296 44 Z" fill="#000"/>
<clipPath id="cb"><rect x="467.3" y="16" width="304" height="205.5"/></clipPath>
<g clip-path="url(#cb)">
<path d="M467.5 178.2V205.7M468.5 178.2V221.0M469.5 172.6V205.7M470.5 178.2V205.7M471.5 175.2V205.7M472.5 172.6V221.0M473.5 181.5V205.7M474.5 178.2V221.0M475.5 172.6V221.0M476.5 181.5V221.0M477.5 175.2V221.0M478.5 172.6V221.0M479.5 178.2V205.7M480.5 181.5V205.7M481.5 178.2V221.0M482.5 181.5V221.0M483.5 181.5V221.0M484.5 181.5V205.7M485.5 185.6V221.0M486.5 178.2V221.0M487.5 185.6V205.7M488.5 178.2V221.0M489.5 172.6V221.0M490.5 160.0V196.8M491.5 154.0V172.6M492.5 116.5V155.0M493.5 102.8V116.5M494.5 88.1V102.8M495.5 75.7V88.1M496.5 67.2V75.7M497.5 59.2V67.2M498.5 52.8V59.2M499.5 49.8V52.8M500.5 45.7V49.8M501.5 42.1V45.7M502.5 39.8V42.7M503.5 37.1V39.8M504.5 35.7V37.7M505.5 34.2V35.8M506.5 33.3V34.7M507.5 33.0V34.4M508.5 32.9V34.3M509.5 32.9V34.3M510.5 33.0V34.4M511.5 33.5V34.9M512.5 34.3V35.7M513.5 35.2V36.6M514.5 36.1V37.5M515.5 37.2V38.6M516.5 38.6V40.4M517.5 40.0V41.4M518.5 41.2V43.2M519.5 43.2V44.7M520.5 44.7V46.9M521.5 46.5V47.9M522.5 47.3V49.1M523.5 49.1V50.8M524.5 50.5V53.2M525.5 53.2V54.9M526.5 54.8V56.4M527.5 56.4V58.7M528.5 58.4V60.6M529.5 60.1V61.7M530.5 60.9V63.4M531.5 63.0V64.4M532.5 63.9V66.5M533.5 66.5V68.7M534.5 67.6V70.3M535.5 68.9V71.3M536.5 70.9V73.1M537.5 73.0V74.8M538.5 73.0V76.0M539.5 75.4V77.6M540.5 75.4V79.0M541.5 78.2V80.9M542.5 79.8V82.7M543.5 79.8V82.8M544.5 80.3V83.9M545.5 83.3V85.9M546.5 84.3V86.0M547.5 85.2V87.5M548.5 86.3V90.6M549.5 88.5V91.8M550.5 88.5V91.5M551.5 90.7V93.0M552.5 91.3V93.7M553.5 90.1V93.7M554.5 92.3V95.6M555.5 92.8V97.3M556.5 93.1V97.5M557.5 95.8V98.9M558.5 95.8V100.0M559.5 96.2V100.2M560.5 97.4V100.5M561.5 97.5V102.0M562.5 100.8V103.8M563.5 99.2V102.8M564.5 100.5V107.8M565.5 99.9V110.4M566.5 101.8V104.6M567.5 103.3V105.1M568.5 101.4V108.3M569.5 104.9V108.4M570.5 106.9V109.0M571.5 105.6V112.5M572.5 105.5V113.7M573.5 108.8V113.7M574.5 109.4V113.2M575.5 109.0V110.4M576.5 110.4V115.4M577.5 111.0V114.7M578.5 110.5V114.7M579.5 111.9V114.7M580.5 111.9V117.7M581.5 114.0V120.0M582.5 113.3V118.7M583.5 113.3V120.5M584.5 113.0V120.3M585.5 113.0V121.2M586.5 116.7V123.2M587.5 115.2V122.9M588.5 116.1V122.9M589.5 120.0V129.4M590.5 118.3V122.7M591.5 121.9V128.7M592.5 121.0V125.4M593.5 124.5V131.6M594.5 123.4V132.8M595.5 121.4V127.5M596.5 124.2V126.2M597.5 124.0V130.8M598.5 124.2V131.6M599.5 126.8V137.2M600.5 124.2V139.8M601.5 124.8V134.0M602.5 122.4V138.2M603.5 127.8V135.8M604.5 128.1V144.7M605.5 128.7V134.9M606.5 123.2V137.7M607.5 132.0V141.5M608.5 129.1V141.5M609.5 134.0V141.5M610.5 131.2V148.4M611.5 131.2V143.4M612.5 135.3V145.4M613.5 131.2V142.7M614.5 137.7V144.7M615.5 132.4V142.1M616.5 135.3V141.5M617.5 137.7V146.9M618.5 137.2V152.0M619.5 137.2V151.0M620.5 134.9V152.9M621.5 138.7V152.9M622.5 134.0V152.9M623.5 140.3V152.9M624.5 140.3V160.0M625.5 145.4V156.2M626.5 138.2V157.4M627.5 140.9V160.0M628.5 139.8V158.6M629.5 139.8V155.0M630.5 138.2V158.6M631.5 142.7V157.4M632.5 142.7V170.3M633.5 148.4V162.9M634.5 146.1V166.3M635.5 146.1V161.4M636.5 145.4V168.2M637.5 144.7V172.6M638.5 151.0V175.2M639.5 144.0V161.4M640.5 146.9V162.9M641.5 155.0V181.5M642.5 152.9V172.6M643.5 145.4V152.9M644.5 147.6V170.3M645.5 145.4V164.5M646.5 142.7V181.5M647.5 160.0V181.5M648.5 154.0V168.2M649.5 156.2V164.5M650.5 157.4V181.5M651.5 160.0V181.5M652.5 151.0V168.2M653.5 148.4V190.5M654.5 148.4V175.2M655.5 151.0V175.2M656.5 151.0V181.5M657.5 135.3V168.2M658.5 152.9V172.6M659.5 155.0V170.3M660.5 149.3V172.6M661.5 155.0V185.6M662.5 154.0V181.5M663.5 154.0V205.7M664.5 147.6V205.7M665.5 143.4V175.2M666.5 143.4V221.0M667.5 157.4V181.5M668.5 154.0V190.5M669.5 162.9V185.6M670.5 161.4V178.2M671.5 161.4V185.6M672.5 162.9V196.8M673.5 158.6V178.2M674.5 158.6V190.5M675.5 145.4V190.5M676.5 145.4V181.5M677.5 168.2V181.5M678.5 155.0V205.7M679.5 170.3V190.5M680.5 170.3V205.7M681.5 178.2V190.5M682.5 162.9V190.5M683.5 161.4V190.5M684.5 161.4V221.0M685.5 178.2V196.8M686.5 168.2V190.5M687.5 166.3V221.0M688.5 166.3V185.6M689.5 168.2V185.6M690.5 172.6V190.5M691.5 172.6V190.5M692.5 164.5V205.7M693.5 161.4V196.8M694.5 172.6V185.6M695.5 172.6V196.8M696.5 175.2V190.5M697.5 172.6V205.7M698.5 161.4V221.0M699.5 160.0V205.7M700.5 164.5V190.5M701.5 164.5V205.7M702.5 162.9V205.7M703.5 162.9V196.8M704.5 149.3V205.7M705.5 178.2V205.7M706.5 172.6V196.8M707.5 172.6V221.0M708.5 170.3V205.7M709.5 166.3V221.0M710.5 178.2V205.7M711.5 178.2V205.7M712.5 164.5V185.6M713.5 155.0V196.8M714.5 185.6V196.8M715.5 168.2V196.8M716.5 164.5V196.8M717.5 164.5V196.8M718.5 172.6V205.7M719.5 172.6V196.8M720.5 168.2V196.8M721.5 172.6V221.0M722.5 175.2V205.7M723.5 172.6V221.0M724.5 178.2V221.0M725.5 170.3V205.7M726.5 175.2V205.7M727.5 162.9V190.5M728.5 170.3V181.5M729.5 170.3V196.8M730.5 178.2V221.0M731.5 178.2V221.0M732.5 166.3V221.0M733.5 166.3V205.7M734.5 190.5V221.0M735.5 190.5V196.8M736.5 170.3V221.0M737.5 181.5V221.0M738.5 178.2V205.7M739.5 168.2V205.7M740.5 181.5V205.7M741.5 178.2V205.7M742.5 172.6V190.5M743.5 178.2V221.0M744.5 178.2V221.0M745.5 181.5V205.7M746.5 178.2V221.0M747.5 158.6V221.0M748.5 190.5V221.0M749.5 181.5V205.7M750.5 175.2V205.7M751.5 178.2V221.0M752.5 181.5V205.7M753.5 181.5V205.7M754.5 181.5V221.0M755.5 170.3V221.0M756.5 166.3V221.0M757.5 175.2V221.0M758.5 175.2V196.8M759.5 181.5V205.7M760.5 172.6V221.0M761.5 172.6V190.5M762.5 168.2V205.7M763.5 166.3V205.7M764.5 166.3V221.0M765.5 178.2V205.7M766.5 178.2V205.7M767.5 172.6V205.7M768.5 172.6V221.0M769.5 175.2V221.0M770.5 175.2V205.7M771.5 181.5V205.7" stroke="#0000ff" stroke-width="1.8" fill="none"/>
<path d="M467.5 220.3V221.7M468.5 220.3V221.7M469.5 220.3V221.7M470.5 220.3V221.7M471.5 205.7V221.0M472.5 220.3V221.7M474.5 205.7V221.0M475.5 220.3V221.7M477.5 220.3V221.7M480.5 220.3V221.7M481.5 220.3V221.7M484.5 220.3V221.7M485.5 220.3V221.7M486.5 220.3V221.7M487.5 220.3V221.7M488.5 220.3V221.7M489.5 205.7V221.0M490.5 168.2V221.0M491.5 137.2V205.7M492.5 118.7V151.0M493.5 101.7V121.7M494.5 85.2V101.7M495.5 75.6V86.7M496.5 66.9V77.3M497.5 59.1V66.9M498.5 53.6V59.1M499.5 49.1V53.6M500.5 44.8V49.1M501.5 40.8V44.8M502.5 38.7V42.1M503.5 37.1V38.9M504.5 35.6V37.1M505.5 34.3V35.8M506.5 33.5V34.9M507.5 33.0V34.4M508.5 32.8V34.2M509.5 32.9V34.4M510.5 34.1V36.5M511.5 36.0V38.3M512.5 37.8V40.0M513.5 39.7V42.0M514.5 41.7V44.5M515.5 44.2V46.9M516.5 46.6V48.8M517.5 48.4V50.8M518.5 50.6V52.6M519.5 51.8V55.1M520.5 54.8V57.0M521.5 55.8V60.0M522.5 57.8V61.1M523.5 60.5V63.5M524.5 62.5V66.2M525.5 64.6V67.9M526.5 66.8V69.8M527.5 68.0V71.7M528.5 70.7V73.4M529.5 72.6V76.6M530.5 74.1V77.7M531.5 77.0V81.1M532.5 78.5V82.0M533.5 81.0V83.4M534.5 81.2V85.1M535.5 83.7V89.5M536.5 85.9V90.1M537.5 87.7V92.2M538.5 87.7V93.9M539.5 90.1V94.3M540.5 92.1V99.1M541.5 94.5V102.8M542.5 95.9V101.7M543.5 96.2V103.0M544.5 100.0V107.0M545.5 100.5V107.0M546.5 103.6V106.5M547.5 104.1V112.2M548.5 105.7V114.2M549.5 103.4V115.4M550.5 108.4V114.7M551.5 111.0V118.5M552.5 112.2V118.7M553.5 113.0V120.7M554.5 111.0V123.7M555.5 111.0V122.7M556.5 117.1V127.1M557.5 118.5V129.4M558.5 121.9V132.8M559.5 118.1V135.3M560.5 123.7V137.7M561.5 123.7V135.3M562.5 122.4V136.2M563.5 124.0V138.7M564.5 121.7V140.3M565.5 125.1V142.7M566.5 128.4V146.9M567.5 128.7V146.1M568.5 126.8V143.4M569.5 128.4V144.0M570.5 130.5V157.4M571.5 127.1V146.9M572.5 130.8V161.4M573.5 132.4V155.0M574.5 134.9V154.0M575.5 131.2V148.4M576.5 132.4V157.4M577.5 134.4V158.6M578.5 137.2V147.6M579.5 135.8V155.0M580.5 135.8V152.9M581.5 132.8V158.6M582.5 142.7V161.4M583.5 134.0V162.9M584.5 138.7V170.3M585.5 138.7V178.2M586.5 143.4V164.5M587.5 147.6V168.2M588.5 134.9V161.4M589.5 144.0V178.2M590.5 138.2V170.3M591.5 144.0V181.5M592.5 145.4V170.3M593.5 144.0V164.5M594.5 145.4V168.2M595.5 144.7V178.2M596.5 140.3V178.2M597.5 143.4V185.6M598.5 146.9V168.2M599.5 146.9V181.5M600.5 142.7V185.6M601.5 147.6V196.8M602.5 148.4V181.5M603.5 146.9V185.6M604.5 146.9V185.6M605.5 147.6V190.5M606.5 150.1V181.5M607.5 151.0V178.2M608.5 152.0V178.2M609.5 152.0V196.8M610.5 146.1V190.5M611.5 144.7V196.8M612.5 160.0V190.5M613.5 151.0V181.5M614.5 150.1V221.0M615.5 156.2V205.7M616.5 152.0V196.8M617.5 156.2V205.7M618.5 150.1V185.6M619.5 149.3V190.5M620.5 158.6V221.0M621.5 160.0V205.7M622.5 157.4V196.8M623.5 164.5V190.5M624.5 161.4V205.7M625.5 161.4V205.7M626.5 166.3V221.0M627.5 160.0V196.8M628.5 164.5V221.0M629.5 170.3V205.7M630.5 170.3V190.5M631.5 166.3V190.5M632.5 162.9V221.0M633.5 152.9V205.7M634.5 161.4V205.7M635.5 168.2V205.7M636.5 156.2V221.0M637.5 160.0V190.5M638.5 160.0V205.7M639.5 170.3V205.7M640.5 170.3V221.0M641.5 166.3V205.7M642.5 170.3V221.0M643.5 168.2V221.0M644.5 170.3V221.0M645.5 172.6V221.0M646.5 178.2V205.7M647.5 170.3V205.7M648.5 170.3V221.0M649.5 172.6V205.7M650.5 172.6V221.0M651.5 156.2V221.0M652.5 178.2V221.0M653.5 168.2V205.7M654.5 172.6V221.0M655.5 164.5V221.0M656.5 175.2V221.0M657.5 172.6V221.0M658.5 181.5V221.0M659.5 178.2V221.0M660.5 181.5V221.0M661.5 178.2V221.0M662.5 170.3V221.0M663.5 178.2V221.0M664.5 178.2V205.7M665.5 178.2V221.0M666.5 178.2V221.0M667.5 170.3V221.0M668.5 181.5V221.0M669.5 181.5V221.0M670.5 178.2V221.0M671.5 181.5V221.0M672.5 185.6V221.0M673.5 181.5V221.0M674.5 190.5V221.0M675.5 175.2V221.0M676.5 185.6V221.0M677.5 178.2V221.0M678.5 181.5V221.0M679.5 181.5V221.0M680.5 181.5V221.0M681.5 168.2V221.0M682.5 185.6V221.0M683.5 185.6V221.0M684.5 178.2V221.0M685.5 178.2V221.0M686.5 185.6V221.0M687.5 185.6V221.0M688.5 181.5V221.0M689.5 178.2V221.0M690.5 181.5V221.0M691.5 181.5V221.0M692.5 196.8V221.0M693.5 190.5V221.0M694.5 185.6V221.0M695.5 175.2V221.0M696.5 185.6V221.0M697.5 190.5V221.0M698.5 190.5V221.0M699.5 190.5V221.0M700.5 190.5V221.0M701.5 181.5V221.0M702.5 181.5V221.0M703.5 196.8V221.0M704.5 190.5V221.0M705.5 185.6V221.0M706.5 190.5V221.0M707.5 181.5V221.0M708.5 185.6V221.0M709.5 185.6V205.7M710.5 185.6V221.0M711.5 190.5V221.0M712.5 190.5V221.0M713.5 172.6V221.0M714.5 196.8V221.0M715.5 190.5V221.0M716.5 178.2V221.0M717.5 185.6V221.0M718.5 196.8V221.0M719.5 185.6V221.0M720.5 190.5V221.0M721.5 190.5V221.0M722.5 181.5V221.0M723.5 190.5V221.0M724.5 190.5V221.0M725.5 185.6V221.0M726.5 196.8V221.0M727.5 205.7V221.0M728.5 196.8V221.0M729.5 196.8V221.0M730.5 190.5V221.0M731.5 185.6V221.0M732.5 196.8V221.0M733.5 185.6V221.0M734.5 196.8V221.0M735.5 196.8V221.0M736.5 196.8V221.0M737.5 185.6V221.0M738.5 196.8V221.0M739.5 185.6V221.0M740.5 190.5V221.0M741.5 196.8V221.0M742.5 190.5V221.0M743.5 196.8V221.0M744.5 190.5V221.0M745.5 196.8V221.0M746.5 190.5V221.0M747.5 185.6V221.0M748.5 190.5V221.0M749.5 190.5V221.0M750.5 190.5V221.0M751.5 190.5V221.0M752.5 196.8V221.0M753.5 196.8V221.0M754.5 190.5V221.0M755.5 205.7V221.0M756.5 185.6V221.0M757.5 190.5V221.0M758.5 205.7V221.0M759.5 196.8V221.0M760.5 190.5V221.0M761.5 185.6V221.0M762.5 190.5V221.0M763.5 181.5V221.0M764.5 196.8V221.0M765.5 185.6V221.0M766.5 196.8V221.0M767.5 196.8V221.0M768.5 190.5V221.0M769.5 178.2V221.0M770.5 185.6V221.0M771.5 205.7V221.0" stroke="#ff0000" stroke-width="1.3" fill="none"/>
<path d="M469.5 220.3V221.7M472.5 220.3V221.7M474.5 220.3V221.7M479.5 205.0V206.4M486.5 220.3V221.7M489.5 205.0V206.4M490.5 178.2V221.0M491.5 146.1V190.5M492.5 121.2V150.1M493.5 101.4V121.2M494.5 89.1V101.4M495.5 76.1V89.5M496.5 66.6V76.1M497.5 60.4V66.6M498.5 52.9V60.4M499.5 48.2V53.3M500.5 44.8V48.2M501.5 41.8V45.5M502.5 38.9V41.8M503.5 36.8V38.9M504.5 35.5V37.2M505.5 34.7V36.1M506.5 33.7V35.1M507.5 33.0V34.4M508.5 32.8V34.2M509.5 32.8V35.2M510.5 34.4V37.0M511.5 36.4V38.1M512.5 38.1V40.6M513.5 40.0V42.6M514.5 42.4V45.8M515.5 45.6V48.2M516.5 48.2V50.6M517.5 50.1V52.3M518.5 52.3V55.4M519.5 54.7V57.7M520.5 57.4V60.5M521.5 60.0V62.5M522.5 62.5V65.1M523.5 63.7V66.4M524.5 64.5V68.8M525.5 68.7V71.6M526.5 71.0V74.0M527.5 74.0V75.8M528.5 75.5V78.7M529.5 75.5V80.5M530.5 78.1V83.4M531.5 80.8V83.6M532.5 83.0V86.1M533.5 85.3V90.6M534.5 86.2V92.0M535.5 89.7V92.4M536.5 91.8V95.6M537.5 94.0V97.2M538.5 93.0V100.2M539.5 98.7V100.8M540.5 98.6V101.6M541.5 97.8V106.1M542.5 102.1V105.7M543.5 103.0V106.7M544.5 103.8V110.7M545.5 106.9V112.5M546.5 107.5V115.2M547.5 111.0V116.3M548.5 112.3V116.5M549.5 112.3V119.8M550.5 112.3V118.1M551.5 114.2V121.4M552.5 114.7V124.5M553.5 118.3V124.5M554.5 121.0V126.5M555.5 121.0V132.4M556.5 121.4V131.2M557.5 121.4V129.1M558.5 121.4V128.7M559.5 124.0V133.2M560.5 125.9V140.9M561.5 128.7V140.9M562.5 130.5V138.2M563.5 133.2V143.4M564.5 131.2V140.3M565.5 131.6V143.4M566.5 130.8V145.4M567.5 134.0V140.9M568.5 135.8V145.4M569.5 134.0V145.4M570.5 136.7V150.1M571.5 135.8V148.4M572.5 135.8V150.1M573.5 138.7V150.1M574.5 139.2V152.9M575.5 140.9V150.1M576.5 139.2V152.0M577.5 136.2V155.0M578.5 137.7V162.9M579.5 138.7V154.0M580.5 138.7V161.4M581.5 146.1V154.0M582.5 150.1V157.4M583.5 148.4V164.5M584.5 149.3V166.3M585.5 148.4V164.5M586.5 146.1V170.3M587.5 151.0V172.6M588.5 150.1V166.3M589.5 150.1V166.3M590.5 151.0V175.2M591.5 151.0V178.2M592.5 148.4V168.2M593.5 157.4V172.6M594.5 152.9V181.5M595.5 164.5V181.5M596.5 160.0V181.5M597.5 162.9V178.2M598.5 162.9V178.2M599.5 162.9V175.2M600.5 162.9V185.6M601.5 161.4V178.2M602.5 157.4V178.2M603.5 164.5V205.7M604.5 160.0V205.7M605.5 158.6V175.2M606.5 170.3V196.8M607.5 168.2V190.5M608.5 166.3V205.7M609.5 170.3V190.5M610.5 175.2V185.6M611.5 175.2V196.8M612.5 170.3V205.7M613.5 166.3V205.7M614.5 172.6V181.5M615.5 172.6V205.7M616.5 178.2V196.8M617.5 168.2V196.8M618.5 164.5V185.6M619.5 181.5V196.8M620.5 175.2V205.7M621.5 178.2V221.0M622.5 175.2V221.0M623.5 172.6V221.0M624.5 175.2V221.0M625.5 175.2V205.7M626.5 175.2V205.7M627.5 175.2V221.0M628.5 181.5V221.0M629.5 172.6V221.0M630.5 172.6V221.0M631.5 178.2V221.0M632.5 170.3V221.0M633.5 181.5V221.0M634.5 185.6V205.7M635.5 178.2V221.0M636.5 185.6V221.0M637.5 181.5V205.7M638.5 178.2V205.7M639.5 185.6V205.7M640.5 185.6V221.0M641.5 190.5V221.0M642.5 185.6V196.8M643.5 190.5V221.0M644.5 196.8V221.0M645.5 190.5V221.0M646.5 178.2V221.0M647.5 178.2V221.0M648.5 190.5V221.0M649.5 190.5V221.0M650.5 185.6V221.0M651.5 178.2V221.0M652.5 190.5V221.0M653.5 190.5V221.0M654.5 185.6V205.7M655.5 205.7V221.0M656.5 196.8V221.0M657.5 181.5V221.0M658.5 196.8V221.0M659.5 196.8V221.0M660.5 196.8V221.0M661.5 196.8V221.0M662.5 196.8V221.0M663.5 205.7V221.0M664.5 196.8V221.0M665.5 205.7V221.0M666.5 205.7V221.0M667.5 196.8V221.0M668.5 205.7V221.0M669.5 190.5V221.0M670.5 205.7V221.0M671.5 190.5V205.7M672.5 205.7V221.0M673.5 185.6V221.0M674.5 190.5V221.0M675.5 205.7V221.0M676.5 190.5V221.0M677.5 190.5V221.0M678.5 196.8V221.0M679.5 205.7V221.0M680.5 185.6V221.0M681.5 220.3V221.7M682.5 205.0V206.4M683.5 205.7V221.0M684.5 205.7V221.0M685.5 205.7V221.0M686.5 196.8V221.0M687.5 190.5V221.0M688.5 190.5V221.0M689.5 220.3V221.7M690.5 220.3V221.7M691.5 205.7V221.0M692.5 196.8V221.0M693.5 205.7V221.0M694.5 220.3V221.7M695.5 190.5V221.0M696.5 220.3V221.7M697.5 220.3V221.7M698.5 220.3V221.7M699.5 185.6V221.0M700.5 185.6V221.0M701.5 196.8V221.0M702.5 205.7V221.0M703.5 196.8V221.0M704.5 196.8V221.0M705.5 205.7V221.0M706.5 190.5V221.0M707.5 190.5V221.0M708.5 220.3V221.7M709.5 196.8V221.0M710.5 220.3V221.7M711.5 196.8V221.0M712.5 205.7V221.0M713.5 220.3V221.7M714.5 220.3V221.7M715.5 196.8V221.0M716.5 205.7V221.0M717.5 220.3V221.7M718.5 220.3V221.7M719.5 184.9V186.3M720.5 196.8V221.0M721.5 205.7V221.0M722.5 220.3V221.7M723.5 220.3V221.7M724.5 220.3V221.7M725.5 220.3V221.7M726.5 205.7V221.0M727.5 220.3V221.7M728.5 205.7V221.0M729.5 220.3V221.7M730.5 220.3V221.7M731.5 205.7V221.0M732.5 196.8V205.7M733.5 205.7V221.0M734.5 196.8V221.0M735.5 220.3V221.7M736.5 205.7V221.0M737.5 205.7V221.0M738.5 196.8V221.0M739.5 220.3V221.7M740.5 220.3V221.7M741.5 220.3V221.7M742.5 205.7V221.0M743.5 220.3V221.7M744.5 205.7V221.0M745.5 220.3V221.7M746.5 205.7V221.0M747.5 205.7V221.0M748.5 220.3V221.7M749.5 196.1V197.5M750.5 220.3V221.7M751.5 196.8V221.0M752.5 196.8V221.0M753.5 196.8V221.0M754.5 220.3V221.7M755.5 205.0V206.4M756.5 220.3V221.7M757.5 220.3V221.7M758.5 220.3V221.7M759.5 205.7V221.0M760.5 205.7V221.0M761.5 205.7V221.0M763.5 205.0V206.4M764.5 220.3V221.7M765.5 205.7V221.0M766.5 190.5V221.0M767.5 205.7V221.0M768.5 205.7V221.0M769.5 205.7V221.0M770.5 220.3V221.7M771.5 220.3V221.7" stroke="#00c000" stroke-width="1.3" fill="none"/>
<path d="M489.5 220.3V221.7M490.5 175.2V221.0M491.5 151.0V190.5M492.5 115.8V151.0M493.5 102.7V116.9M494.5 87.8V102.7M495.5 75.8V87.8M496.5 66.5V75.8M497.5 58.5V66.5M498.5 53.9V58.5M499.5 49.1V53.9M500.5 44.6V49.1M501.5 42.4V44.6M502.5 38.3V43.3M503.5 37.5V38.9M504.5 35.5V37.9M505.5 34.5V35.9M506.5 33.7V35.1M507.5 33.2V34.6M508.5 32.8V34.2M509.5 32.9V34.3M510.5 34.2V36.3M511.5 36.2V37.7M512.5 37.6V39.8M513.5 39.8V43.7M514.5 43.5V45.3M515.5 45.3V48.1M516.5 48.1V50.4M517.5 50.4V52.9M518.5 52.9V56.1M519.5 56.1V58.9M520.5 58.5V60.4M521.5 60.4V63.0M522.5 62.8V65.3M523.5 65.3V68.0M524.5 67.4V71.2M525.5 69.7V72.0M526.5 72.0V74.5M527.5 74.0V78.3M528.5 76.0V81.4M529.5 79.1V81.4M530.5 81.3V83.5M531.5 83.3V86.4M532.5 86.1V89.4M533.5 88.6V90.7M534.5 89.8V93.3M535.5 91.0V95.6M536.5 93.2V98.1M537.5 94.1V98.7M538.5 95.7V100.3M539.5 99.2V105.4M540.5 101.0V105.5M541.5 101.6V106.2M542.5 106.2V110.5M543.5 107.5V110.8M544.5 105.8V113.2M545.5 110.0V115.4M546.5 111.7V115.0M547.5 113.0V117.3M548.5 114.3V123.2M549.5 115.0V123.2M550.5 115.0V123.7M551.5 118.3V127.5M552.5 118.5V125.1M553.5 120.5V129.8M554.5 122.4V125.1M555.5 125.1V132.0M556.5 123.2V135.3M557.5 127.1V134.9M558.5 126.5V132.0M559.5 124.0V138.2M560.5 131.2V136.7M561.5 131.2V137.2M562.5 132.0V142.1M563.5 134.4V142.1M564.5 133.6V142.1M565.5 138.2V146.9M566.5 136.7V146.9M567.5 137.2V146.1M568.5 139.2V146.1M569.5 142.7V148.4M570.5 142.7V152.0M571.5 137.2V152.0M572.5 144.0V154.0M573.5 144.0V152.9M574.5 149.3V160.0M575.5 149.3V166.3M576.5 150.1V156.2M577.5 144.0V154.0M578.5 154.0V162.9M579.5 155.0V168.2M580.5 145.4V161.4M581.5 161.4V168.2M582.5 152.0V170.3M583.5 157.4V168.2M584.5 155.0V170.3M585.5 161.4V170.3M586.5 154.0V175.2M587.5 161.4V175.2M588.5 161.4V175.2M589.5 161.4V175.2M590.5 160.0V175.2M591.5 166.3V185.6M592.5 166.3V196.8M593.5 162.9V196.8M594.5 172.6V190.5M595.5 168.2V175.2M596.5 168.2V196.8M597.5 168.2V185.6M598.5 171.9V173.3M599.5 172.6V190.5M600.5 172.6V196.8M601.5 178.2V190.5M602.5 168.2V190.5M603.5 178.2V190.5M604.5 172.6V196.8M605.5 178.2V196.8M606.5 185.6V196.8M607.5 185.6V196.8M608.5 189.8V191.2M609.5 189.8V191.2M610.5 185.6V196.8M611.5 178.2V190.5M612.5 175.2V196.8M613.5 175.2V196.8M614.5 178.2V190.5M615.5 178.2V190.5M616.5 196.1V197.5M617.5 178.2V196.8M618.5 205.7V221.0M619.5 205.7V221.0M620.5 185.6V205.7M621.5 185.6V205.7M622.5 185.6V221.0M623.5 190.5V205.7M624.5 190.5V221.0M625.5 181.5V221.0M626.5 181.5V221.0M627.5 196.8V221.0M628.5 196.8V221.0M629.5 196.8V221.0M630.5 190.5V221.0M631.5 190.5V221.0M632.5 181.5V221.0M633.5 220.3V221.7M634.5 196.8V221.0M635.5 196.8V221.0M636.5 196.8V221.0M637.5 220.3V221.7M638.5 190.5V205.7M639.5 220.3V221.7M640.5 196.8V221.0M641.5 196.8V221.0M642.5 177.5V178.9M643.5 196.8V205.7M644.5 205.7V221.0M645.5 196.8V221.0M646.5 220.3V221.7M647.5 190.5V221.0M648.5 190.5V205.7M649.5 220.3V221.7M650.5 196.8V221.0M651.5 205.7V221.0M652.5 205.7V221.0M654.5 205.7V221.0M655.5 205.7V221.0M656.5 196.8V221.0M657.5 205.7V221.0M658.5 205.7V221.0M659.5 205.7V221.0M660.5 196.8V221.0M661.5 196.8V221.0M662.5 196.8V221.0M663.5 196.1V197.5M664.5 196.8V221.0M665.5 205.7V221.0M666.5 205.7V221.0M668.5 220.3V221.7M669.5 220.3V221.7M671.5 189.8V191.2M672.5 205.7V221.0M673.5 205.0V206.4M674.5 205.7V221.0M675.5 220.3V221.7M676.5 220.3V221.7M677.5 205.0V206.4M678.5 205.7V221.0M680.5 220.3V221.7M682.5 220.3V221.7M683.5 220.3V221.7M684.5 220.3V221.7M685.5 205.0V206.4M686.5 220.3V221.7M687.5 220.3V221.7M689.5 205.7V221.0M690.5 220.3V221.7M691.5 220.3V221.7M692.5 220.3V221.7M693.5 205.0V206.4M694.5 205.0V206.4M695.5 205.7V221.0M696.5 220.3V221.7M697.5 196.8V221.0M699.5 220.3V221.7M700.5 220.3V221.7M701.5 220.3V221.7M702.5 196.8V221.0M703.5 220.3V221.7M704.5 196.1V197.5M705.5 205.0V206.4M707.5 196.8V221.0M708.5 220.3V221.7M709.5 220.3V221.7M711.5 205.7V221.0M713.5 220.3V221.7M714.5 220.3V221.7M715.5 220.3V221.7M716.5 220.3V221.7M717.5 205.0V206.4M718.5 205.7V221.0M719.5 220.3V221.7M720.5 205.7V221.0M721.5 220.3V221.7M722.5 220.3V221.7M723.5 220.3V221.7M724.5 220.3V221.7M725.5 205.0V206.4M726.5 220.3V221.7M727.5 196.8V221.0M730.5 220.3V221.7M731.5 220.3V221.7M734.5 220.3V221.7M735.5 220.3V221.7M736.5 220.3V221.7M738.5 220.3V221.7M739.5 205.0V206.4M741.5 205.7V221.0M742.5 205.0V206.4M743.5 205.7V221.0M745.5 220.3V221.7M747.5 220.3V221.7M748.5 220.3V221.7M749.5 205.7V221.0M750.5 220.3V221.7M752.5 205.7V221.0M753.5 205.7V221.0M755.5 220.3V221.7M756.5 205.0V206.4M757.5 205.7V221.0M758.5 220.3V221.7M759.5 220.3V221.7M760.5 205.7V221.0M761.5 205.7V221.0M762.5 220.3V221.7M764.5 196.8V221.0M767.5 205.7V221.0M769.5 196.1V197.5M770.5 220.3V221.7M771.5 220.3V221.7" stroke="#c000ff" stroke-width="1.2" fill="none"/>
<path d="M469.5 205.0V206.4M477.5 220.3V221.7M490.5 196.8V221.0M491.5 152.0V205.7M492.5 122.4V152.0M493.5 107.0V122.4M494.5 87.9V107.0M495.5 76.8V87.9M496.5 71.5V76.8M497.5 62.7V71.5M498.5 52.2V62.7M499.5 49.5V52.2M500.5 44.8V49.5M501.5 43.0V44.8M502.5 38.4V43.0M503.5 36.6V38.4M504.5 35.8V37.2M505.5 35.2V36.6M506.5 34.0V35.4M507.5 33.4V34.8M508.5 32.7V34.1M509.5 32.7V34.1M510.5 33.8V36.1M511.5 36.1V38.2M512.5 38.2V39.9M513.5 39.9V41.8M514.5 41.8V44.4M515.5 44.4V47.3M516.5 47.3V49.7M517.5 49.7V52.3M518.5 52.3V56.0M519.5 56.0V59.4M520.5 59.4V61.0M521.5 61.0V63.0M522.5 63.0V65.6M523.5 65.6V69.8M524.5 69.4V70.8M525.5 70.3V74.3M526.5 72.3V76.6M527.5 76.3V77.7M528.5 77.2V80.1M529.5 80.1V83.3M530.5 83.3V85.9M531.5 85.9V87.9M532.5 87.0V90.3M533.5 90.3V92.7M534.5 91.0V95.3M535.5 94.8V96.2M536.5 96.2V97.6M537.5 96.4V99.6M538.5 99.1V101.9M539.5 101.9V103.9M540.5 101.9V109.1M541.5 105.9V111.0M542.5 107.5V111.0M543.5 107.5V111.9M544.5 110.2V112.5M545.5 112.3V116.9M546.5 114.5V121.4M547.5 114.9V121.4M548.5 115.8V121.0M549.5 115.8V125.4M550.5 117.3V127.1M551.5 118.7V128.4M552.5 124.8V126.8M553.5 126.2V130.1M554.5 125.4V127.1M555.5 124.2V133.2M556.5 128.7V135.3M557.5 129.4V133.6M558.5 129.4V138.7M559.5 128.4V145.4M560.5 134.4V145.4M561.5 134.9V140.3M562.5 135.8V143.4M563.5 137.2V147.6M564.5 135.3V146.1M565.5 143.7V145.1M566.5 144.7V150.1M567.5 145.4V164.5M568.5 147.6V164.5M569.5 147.6V161.4M570.5 140.9V161.4M571.5 151.0V157.4M572.5 154.0V161.4M573.5 146.9V161.4M574.5 150.1V161.4M575.5 155.0V161.4M576.5 156.2V166.3M577.5 156.2V166.3M578.5 156.2V172.6M579.5 151.0V168.2M580.5 161.4V178.2M581.5 161.4V168.2M582.5 162.9V170.3M583.5 162.9V170.3M584.5 166.3V178.2M585.5 166.3V196.8M586.5 172.6V196.8M587.5 156.2V196.8M588.5 180.8V182.2M589.5 162.9V185.6M590.5 178.2V185.6M591.5 160.0V181.5M592.5 158.6V178.2M593.5 178.2V190.5M594.5 181.5V196.8M595.5 175.2V196.8M596.5 175.2V181.5M597.5 175.2V196.8M598.5 175.2V185.6M599.5 178.2V185.6M600.5 185.6V196.8M601.5 178.2V185.6M602.5 178.2V196.8M603.5 175.2V190.5M604.5 175.2V196.8M605.5 196.1V197.5M606.5 196.1V197.5M607.5 190.5V196.8M608.5 169.6V171.0M609.5 189.8V191.2M611.5 180.8V182.2M612.5 181.5V190.5M613.5 196.1V197.5M615.5 189.8V191.2M617.5 184.9V186.3M618.5 185.6V221.0M619.5 220.3V221.7M620.5 190.5V221.0M621.5 220.3V221.7M622.5 220.3V221.7M623.5 220.3V221.7M624.5 190.5V205.7M625.5 205.7V221.0M626.5 205.0V206.4M628.5 178.2V221.0M629.5 185.6V205.7M630.5 185.6V221.0M631.5 220.3V221.7M632.5 205.7V221.0M633.5 205.0V206.4M634.5 205.7V221.0M636.5 205.7V221.0M637.5 220.3V221.7M638.5 220.3V221.7M639.5 220.3V221.7M640.5 220.3V221.7M643.5 220.3V221.7M644.5 205.7V221.0M648.5 196.1V197.5M649.5 205.0V206.4M650.5 205.7V221.0M652.5 220.3V221.7M655.5 220.3V221.7M657.5 220.3V221.7M658.5 220.3V221.7M661.5 220.3V221.7M662.5 205.7V221.0M663.5 220.3V221.7M664.5 220.3V221.7M665.5 205.0V206.4M669.5 220.3V221.7M670.5 220.3V221.7M672.5 220.3V221.7M673.5 220.3V221.7M674.5 220.3V221.7M676.5 220.3V221.7M680.5 205.0V206.4M681.5 205.7V221.0M682.5 220.3V221.7M685.5 205.0V206.4M686.5 220.3V221.7M687.5 220.3V221.7M688.5 220.3V221.7M691.5 220.3V221.7M693.5 220.3V221.7M694.5 220.3V221.7M695.5 220.3V221.7M696.5 220.3V221.7M698.5 220.3V221.7M699.5 220.3V221.7M700.5 205.7V221.0M703.5 220.3V221.7M707.5 220.3V221.7M710.5 196.1V197.5M711.5 189.8V191.2M712.5 190.5V221.0M713.5 205.0V206.4M714.5 220.3V221.7M715.5 220.3V221.7M718.5 220.3V221.7M719.5 220.3V221.7M720.5 220.3V221.7M722.5 220.3V221.7M724.5 205.0V206.4M726.5 220.3V221.7M727.5 220.3V221.7M728.5 220.3V221.7M734.5 220.3V221.7M736.5 220.3V221.7M737.5 220.3V221.7M739.5 220.3V221.7M740.5 220.3V221.7M742.5 220.3V221.7M744.5 220.3V221.7M745.5 205.7V221.0M746.5 205.0V206.4M749.5 205.0V206.4M752.5 220.3V221.7M754.5 220.3V221.7M757.5 220.3V221.7M758.5 220.3V221.7M762.5 205.0V206.4M765.5 205.0V206.4M766.5 205.0V206.4M767.5 205.0V206.4M768.5 220.3V221.7" stroke="#ff8000" stroke-width="1.1" fill="none"/>
<path d="M468.5 220.3V221.7M476.5 205.0V206.4M478.5 220.3V221.7M490.5 220.3V221.7M491.5 152.0V221.0M492.5 119.8V152.0M493.5 109.0V119.8M494.5 91.0V109.0M495.5 78.5V91.0M496.5 65.3V78.5M497.5 61.9V65.3M498.5 54.1V61.9M499.5 49.1V54.1M500.5 45.6V49.1M501.5 42.3V45.6M502.5 39.6V42.3M503.5 38.2V39.6M504.5 36.0V38.2M505.5 34.6V36.0M506.5 33.9V35.3M507.5 33.4V34.8M508.5 32.8V34.2M509.5 32.8V34.2M510.5 33.6V35.1M511.5 35.1V37.3M512.5 37.1V38.5M513.5 38.3V41.8M514.5 41.8V44.4M515.5 44.4V48.6M516.5 48.6V50.4M517.5 50.4V52.6M518.5 52.6V56.8M519.5 56.8V58.5M520.5 58.5V61.0M521.5 61.0V64.4M522.5 64.4V67.7M523.5 67.3V68.7M524.5 68.0V72.9M525.5 72.9V75.2M526.5 75.2V78.4M527.5 78.4V80.9M528.5 80.9V82.7M529.5 82.7V85.8M530.5 84.8V86.4M531.5 86.2V87.6M532.5 87.4V92.9M533.5 90.1V93.4M534.5 90.1V97.6M535.5 96.4V97.8M536.5 96.7V100.3M537.5 98.9V100.3M538.5 99.1V100.5M539.5 100.0V105.1M540.5 104.6V110.1M541.5 109.7V111.1M542.5 109.3V112.0M543.5 109.3V116.5M544.5 112.8V116.1M545.5 113.0V116.1M546.5 113.0V117.9M547.5 117.7V119.1M548.5 118.9V122.2M549.5 122.2V124.2M550.5 123.4V128.4M551.5 125.6V130.1M552.5 129.1V132.0M553.5 126.2V132.0M554.5 128.4V138.7M555.5 132.8V138.7M556.5 136.2V137.7M557.5 134.0V137.7M558.5 134.0V137.2M559.5 134.4V139.2M560.5 136.7V139.2M561.5 134.4V145.4M562.5 142.1V146.9M563.5 146.9V158.6M564.5 140.9V158.6M565.5 140.9V147.6M566.5 147.3V148.7M567.5 148.4V160.0M568.5 152.0V160.0M569.5 150.8V152.2M570.5 151.0V156.2M571.5 155.0V161.4M572.5 161.4V162.9M573.5 160.0V162.9M574.5 152.0V164.5M575.5 152.0V170.3M576.5 166.3V172.6M577.5 168.2V178.2M578.5 160.0V178.2M579.5 160.0V178.2M580.5 157.4V178.2M581.5 157.4V172.6M582.5 164.5V166.3M583.5 164.5V172.6M584.5 168.2V181.5M585.5 178.2V181.5M586.5 166.3V178.2M587.5 172.6V190.5M588.5 181.5V190.5M589.5 178.2V181.5M590.5 178.2V196.8M591.5 185.6V196.8M592.5 181.5V190.5M593.5 181.5V190.5M595.5 196.1V197.5M596.5 190.5V196.8M597.5 196.1V197.5M598.5 196.1V197.5M599.5 185.6V196.8M600.5 189.8V191.2M602.5 180.8V182.2M603.5 181.5V190.5M604.5 189.8V191.2M605.5 190.5V196.8M607.5 180.8V182.2M611.5 189.8V191.2M618.5 220.3V221.7M619.5 205.0V206.4M621.5 220.3V221.7M624.5 220.3V221.7M625.5 220.3V221.7M626.5 220.3V221.7M627.5 205.7V221.0M628.5 220.3V221.7M629.5 220.3V221.7M631.5 220.3V221.7M632.5 205.0V206.4M635.5 220.3V221.7M640.5 196.1V197.5M642.5 220.3V221.7M644.5 220.3V221.7M645.5 220.3V221.7M648.5 220.3V221.7M650.5 196.8V221.0M651.5 220.3V221.7M654.5 205.0V206.4M655.5 220.3V221.7M659.5 220.3V221.7M660.5 220.3V221.7M663.5 220.3V221.7M666.5 220.3V221.7M667.5 220.3V221.7M668.5 205.7V221.0M669.5 205.7V221.0M672.5 220.3V221.7M674.5 220.3V221.7M677.5 220.3V221.7M679.5 220.3V221.7M682.5 220.3V221.7M688.5 220.3V221.7M690.5 220.3V221.7M692.5 220.3V221.7M693.5 220.3V221.7M700.5 220.3V221.7M703.5 220.3V221.7M705.5 220.3V221.7M706.5 220.3V221.7M708.5 220.3V221.7M710.5 220.3V221.7M713.5 205.7V221.0M714.5 205.7V221.0M721.5 220.3V221.7M727.5 220.3V221.7M730.5 220.3V221.7M736.5 220.3V221.7M741.5 220.3V221.7M747.5 220.3V221.7M752.5 220.3V221.7M757.5 220.3V221.7M758.5 220.3V221.7M761.5 196.1V197.5M762.5 220.3V221.7M765.5 220.3V221.7M766.5 196.1V197.5M768.5 220.3V221.7M769.5 220.3V221.7" stroke="#000000" stroke-width="1.0" fill="none"/>
</g>
<line x1="467.3" y1="18.2" x2="771.3" y2="18.2" stroke="#000" stroke-width="1.3"/>
<line x1="771.3" y1="18.2" x2="771.3" y2="221" stroke="#000" stroke-width="1.3"/>
<line x1="467.3" y1="17.6" x2="467.3" y2="226.5" stroke="#000" stroke-width="1.3"/>
<line x1="461.8" y1="221" x2="771.3" y2="221" stroke="#000" stroke-width="1.3"/>
<line x1="464.1" y1="205.7" x2="467.3" y2="205.7" stroke="#000" stroke-width="1.1"/>
<line x1="464.1" y1="196.8" x2="467.3" y2="196.8" stroke="#000" stroke-width="1.1"/>
<line x1="464.1" y1="190.5" x2="467.3" y2="190.5" stroke="#000" stroke-width="1.1"/>
<line x1="464.1" y1="185.6" x2="467.3" y2="185.6" stroke="#000" stroke-width="1.1"/>
<line x1="464.1" y1="181.5" x2="467.3" y2="181.5" stroke="#000" stroke-width="1.1"/>
<line x1="464.1" y1="178.2" x2="467.3" y2="178.2" stroke="#000" stroke-width="1.1"/>
<line x1="464.1" y1="175.2" x2="467.3" y2="175.2" stroke="#000" stroke-width="1.1"/>
<line x1="464.1" y1="172.6" x2="467.3" y2="172.6" stroke="#000" stroke-width="1.1"/>
<line x1="464.1" y1="155" x2="467.3" y2="155" stroke="#000" stroke-width="1.1"/>
<line x1="464.1" y1="146.1" x2="467.3" y2="146.1" stroke="#000" stroke-width="1.1"/>
<line x1="464.1" y1="139.8" x2="467.3" y2="139.8" stroke="#000" stroke-width="1.1"/>
<line x1="464.1" y1="134.9" x2="467.3" y2="134.9" stroke="#000" stroke-width="1.1"/>
<line x1="464.1" y1="130.8" x2="467.3" y2="130.8" stroke="#000" stroke-width="1.1"/>
<line x1="464.1" y1="127.5" x2="467.3" y2="127.5" stroke="#000" stroke-width="1.1"/>
<line x1="464.1" y1="124.5" x2="467.3" y2="124.5" stroke="#000" stroke-width="1.1"/>
<line x1="464.1" y1="121.9" x2="467.3" y2="121.9" stroke="#000" stroke-width="1.1"/>
<line x1="464.1" y1="104.3" x2="467.3" y2="104.3" stroke="#000" stroke-width="1.1"/>
<line x1="464.1" y1="95.4" x2="467.3" y2="95.4" stroke="#000" stroke-width="1.1"/>
<line x1="464.1" y1="89.1" x2="467.3" y2="89.1" stroke="#000" stroke-width="1.1"/>
<line x1="464.1" y1="84.2" x2="467.3" y2="84.2" stroke="#000" stroke-width="1.1"/>
<line x1="464.1" y1="80.1" x2="467.3" y2="80.1" stroke="#000" stroke-width="1.1"/>
<line x1="464.1" y1="76.8" x2="467.3" y2="76.8" stroke="#000" stroke-width="1.1"/>
<line x1="464.1" y1="73.8" x2="467.3" y2="73.8" stroke="#000" stroke-width="1.1"/>
<line x1="464.1" y1="71.2" x2="467.3" y2="71.2" stroke="#000" stroke-width="1.1"/>
<line x1="464.1" y1="53.6" x2="467.3" y2="53.6" stroke="#000" stroke-width="1.1"/>
<line x1="464.1" y1="44.7" x2="467.3" y2="44.7" stroke="#000" stroke-width="1.1"/>
<line x1="464.1" y1="38.4" x2="467.3" y2="38.4" stroke="#000" stroke-width="1.1"/>
<line x1="464.1" y1="33.5" x2="467.3" y2="33.5" stroke="#000" stroke-width="1.1"/>
<line x1="464.1" y1="29.4" x2="467.3" y2="29.4" stroke="#000" stroke-width="1.1"/>
<line x1="464.1" y1="26.1" x2="467.3" y2="26.1" stroke="#000" stroke-width="1.1"/>
<line x1="464.1" y1="23.1" x2="467.3" y2="23.1" stroke="#000" stroke-width="1.1"/>
<line x1="464.1" y1="20.5" x2="467.3" y2="20.5" stroke="#000" stroke-width="1.1"/>
<line x1="461.8" y1="221" x2="467.3" y2="221" stroke="#000" stroke-width="1.3"/>
<text id="by0" x="436.50" y="226.70" font-size="15">10<tspan x="453.40" dy="-4.6" font-size="9.5">0</tspan></text>
<line x1="461.8" y1="170.3" x2="467.3" y2="170.3" stroke="#000" stroke-width="1.3"/>
<text id="by1" x="436.50" y="175.50" font-size="15">10<tspan x="453.40" dy="-4.6" font-size="9.5">1</tspan></text>
<line x1="461.8" y1="119.6" x2="467.3" y2="119.6" stroke="#000" stroke-width="1.3"/>
<text id="by2" x="436.50" y="125.30" font-size="15">10<tspan x="453.40" dy="-4.6" font-size="9.5">2</tspan></text>
<line x1="461.8" y1="68.9" x2="467.3" y2="68.9" stroke="#000" stroke-width="1.3"/>
<text id="by3" x="436.50" y="74.10" font-size="15">10<tspan x="453.40" dy="-4.6" font-size="9.5">3</tspan></text>
<line x1="461.8" y1="18.2" x2="467.3" y2="18.2" stroke="#000" stroke-width="1.3"/>
<text id="by4" x="436.50" y="23.90" font-size="15">10<tspan x="453.40" dy="-4.6" font-size="9.5">4</tspan></text>
<line x1="467.3" y1="221" x2="467.3" y2="226.5" stroke="#000" stroke-width="1.3"/>
<text id="bx0" x="467.30" y="242.50" font-size="15" text-anchor="middle" >0</text>
<line x1="528.1" y1="221" x2="528.1" y2="226.5" stroke="#000" stroke-width="1.3"/>
<text id="bx1" x="528.10" y="242.50" font-size="15" text-anchor="middle" >5</text>
<line x1="588.9" y1="221" x2="588.9" y2="226.5" stroke="#000" stroke-width="1.3"/>
<text id="bx2" x="588.90" y="242.50" font-size="15" text-anchor="middle" >10</text>
<line x1="649.7" y1="221" x2="649.7" y2="226.5" stroke="#000" stroke-width="1.3"/>
<text id="bx3" x="649.70" y="242.50" font-size="15" text-anchor="middle" >15</text>
<line x1="710.5" y1="221" x2="710.5" y2="226.5" stroke="#000" stroke-width="1.3"/>
<text id="bx4" x="710.50" y="242.50" font-size="15" text-anchor="middle" >20</text>
<line x1="771.3" y1="221" x2="771.3" y2="226.5" stroke="#000" stroke-width="1.3"/>
<text id="bx5" x="771.30" y="242.50" font-size="15" text-anchor="middle" >25</text>
<text id="Blab" x="412.00" y="18.80" font-size="19" letter-spacing="0.50" >B)</text>
<text id="Bytitle" transform="translate(426.50,145.40) rotate(-90)" font-size="16" letter-spacing="0.10" >Counts</text>
<text id="Bxtitle" x="574.00" y="266.50" font-size="16" letter-spacing="0.42" >Lifetime (ns)</text>
<line x1="611.3" y1="24" x2="611.3" y2="113" stroke="#000" stroke-width="1.3"/>
<path d="M606 112.5 L617.5 112.5 L611.5 126.5 Z" fill="#000"/>
<text id="Bt1" x="620.50" y="49.00" font-size="16" letter-spacing="0.43" >1.49 ns (0% H<tspan font-size="10.5" dy="3">2</tspan><tspan dy="-3">O)</tspan></text>
<text id="Bt2" x="620.50" y="111.70" font-size="16" letter-spacing="0.44" >0.89 ns (20% H<tspan font-size="10.5" dy="3">2</tspan><tspan dy="-3">O)</tspan></text>
<clipPath id="cc"><rect x="88.5" y="301.2" width="301.5" height="201"/></clipPath>
<g clip-path="url(#cc)">
<path d="M103.6 500.8 L105.1 500.7 L106.6 500.6 L108.1 500.5 L109.6 500.4 L111.1 500.3 L112.6 500.2 L114.1 500.1 L115.6 499.9 L117.1 499.8 L118.7 499.7 L120.2 499.6 L121.7 499.5 L123.2 499.3 L124.7 499.2 L126.2 499 L127.7 498.8 L129.2 498.4 L130.7 497.9 L132.2 497.3 L133.7 496.6 L135.2 496 L136.7 495.3 L138.2 494.5 L139.8 493.7 L141.3 493.2 L142.8 492.9 L144.3 492.8 L145.8 492.7 L147.3 492.7 L148.8 492.6 L150.3 492.6 L151.8 492.5 L153.3 492.3 L154.8 492 L156.3 491.7 L157.8 491.3 L159.4 490.9 L160.9 490.7 L162.4 490.4 L163.9 490.1 L165.4 489.9 L166.9 489.7 L168.4 489.7 L169.9 489.7 L171.4 489.7 L172.9 489.8 L174.4 489.8 L175.9 489.9 L177.4 489.9 L178.9 490 L180.5 490.2 L182 490.5 L183.5 490.7 L185 491 L186.5 491.2 L188 491.4 L189.5 491.7 L191 491.9 L192.5 492.2 L194 492.4 L195.5 492.6 L197 492.8 L198.5 492.9 L200.1 493 L201.6 493.1 L203.1 493.2 L204.6 493.3 L206.1 493.4 L207.6 493.5 L209.1 493.5 L210.6 493.6 L212.1 493.6 L213.6 493.6 L215.1 493.5 L216.6 493.4 L218.1 493.2 L219.7 493 L221.2 492.7 L222.7 492.2 L224.2 491.7 L225.7 491 L227.2 490.1 L228.7 488.9 L230.2 487.6 L231.7 486 L233.2 484.2 L234.7 482 L236.2 479.5 L237.7 476.7 L239.2 473.5 L240.8 470 L242.3 466 L243.8 461.7 L245.3 457 L246.8 451.9 L248.3 446.5 L249.8 440.6 L251.3 434.5 L252.8 428 L254.3 421.2 L255.8 414.3 L257.3 407.1 L258.8 399.8 L260.4 392.5 L261.9 385.2 L263.4 377.9 L264.9 370.8 L266.4 363.8 L267.9 357.2 L269.4 350.8 L270.9 344.8 L272.4 339.3 L273.9 334.3 L275.4 329.8 L276.9 325.9 L278.4 322.6 L280 320 L281.5 318 L283 316.7 L284.5 316 L286 316 L287.5 316.5 L289 317.3 L290.5 318.4 L292 320 L293.5 321.9 L295 324.1 L296.5 326.6 L298 329.4 L299.6 332.4 L301.1 335.7 L302.6 339.2 L304.1 342.9 L305.6 346.8 L307.1 350.9 L308.6 355 L310.1 359.3 L311.6 363.6 L313.1 368 L314.6 372.5 L316.1 376.9 L317.6 381.4 L319.1 385.8 L320.7 390.2 L322.2 394.6 L323.7 398.9 L325.2 403.1 L326.7 407.2 L328.2 411.2 L329.7 415.2 L331.2 419 L332.7 422.6 L334.2 426.2 L335.7 429.6 L337.2 432.9 L338.7 436 L340.3 439 L341.8 441.9 L343.3 444.6 L344.8 447.2 L346.3 449.6 L347.8 451.9 L349.3 454.1 L350.8 456.2 L352.3 458.2 L353.8 460 L355.3 461.7 L356.8 463.4 L358.3 464.9 L359.9 466.4 L361.4 467.8 L362.9 469.1 L364.4 470.3 L365.9 471.5 L367.4 472.6 L368.9 473.7 L370.4 474.7 L371.9 475.7 L373.4 476.6 L374.9 477.6 L376.4 478.5 L377.9 479.4 L379.4 480.2 L381 481.1 L382.5 481.9 L384 482.7 L385.5 483.5 L387 484.3 L388.5 485 L390 485.8" fill="none" stroke="#0000a0" stroke-width="1.1" stroke-linejoin="round"/>
<path d="M103.6 500.8 L105.1 500.7 L106.6 500.6 L108.1 500.5 L109.6 500.4 L111.1 500.3 L112.6 500.2 L114.1 500.1 L115.6 499.9 L117.1 499.8 L118.7 499.7 L120.2 499.6 L121.7 499.5 L123.2 499.3 L124.7 499.2 L126.2 499 L127.7 498.8 L129.2 498.4 L130.7 497.9 L132.2 497.3 L133.7 496.6 L135.2 496 L136.7 495.3 L138.2 494.5 L139.8 493.7 L141.3 493.2 L142.8 492.9 L144.3 492.8 L145.8 492.7 L147.3 492.7 L148.8 492.6 L150.3 492.6 L151.8 492.5 L153.3 492.3 L154.8 492 L156.3 491.7 L157.8 491.3 L159.4 490.9 L160.9 490.7 L162.4 490.4 L163.9 490.1 L165.4 489.9 L166.9 489.7 L168.4 489.7 L169.9 489.7 L171.4 489.7 L172.9 489.8 L174.4 489.8 L175.9 489.9 L177.4 489.9 L178.9 490 L180.5 490.2 L182 490.5 L183.5 490.7 L185 491 L186.5 491.2 L188 491.4 L189.5 491.7 L191 491.9 L192.5 492.2 L194 492.4 L195.5 492.6 L197 492.8 L198.5 492.9 L200.1 493 L201.6 493.1 L203.1 493.2 L204.6 493.3 L206.1 493.4 L207.6 493.5 L209.1 493.5 L210.6 493.6 L212.1 493.6 L213.6 493.6 L215.1 493.5 L216.6 493.4 L218.1 493.2 L219.7 493 L221.2 492.7 L222.7 492.3 L224.2 491.7 L225.7 491 L227.2 490.1 L228.7 489.1 L230.2 487.7 L231.7 486.2 L233.2 484.4 L234.7 482.2 L236.2 479.8 L237.7 477 L239.2 473.9 L240.8 470.4 L242.3 466.6 L243.8 462.3 L245.3 457.7 L246.8 452.7 L248.3 447.3 L249.8 441.6 L251.3 435.5 L252.8 429.1 L254.3 422.5 L255.8 415.6 L257.3 408.6 L258.8 401.5 L260.4 394.2 L261.9 387 L263.4 379.9 L264.9 372.9 L266.4 366 L267.9 359.5 L269.4 353.2 L270.9 347.4 L272.4 341.9 L273.9 337 L275.4 332.6 L276.9 328.8 L278.4 325.5 L280 322.9 L281.5 321 L283 319.7 L284.5 319 L286 319 L287.5 319.5 L289 320.2 L290.5 321.4 L292 322.9 L293.5 324.8 L295 326.9 L296.5 329.4 L298 332.1 L299.6 335.1 L301.1 338.4 L302.6 341.9 L304.1 345.5 L305.6 349.3 L307.1 353.3 L308.6 357.4 L310.1 361.6 L311.6 365.8 L313.1 370.2 L314.6 374.5 L316.1 378.9 L317.6 383.3 L319.1 387.7 L320.7 392 L322.2 396.3 L323.7 400.5 L325.2 404.7 L326.7 408.7 L328.2 412.7 L329.7 416.5 L331.2 420.3 L332.7 423.9 L334.2 427.4 L335.7 430.8 L337.2 434 L338.7 437.1 L340.3 440 L341.8 442.8 L343.3 445.5 L344.8 448.1 L346.3 450.5 L347.8 452.7 L349.3 454.9 L350.8 456.9 L352.3 458.9 L353.8 460.7 L355.3 462.4 L356.8 464 L358.3 465.5 L359.9 466.9 L361.4 468.3 L362.9 469.6 L364.4 470.8 L365.9 472 L367.4 473.1 L368.9 474.1 L370.4 475.1 L371.9 476.1 L373.4 477 L374.9 478 L376.4 478.8 L377.9 479.7 L379.4 480.5 L381 481.4 L382.5 482.2 L384 483 L385.5 483.8 L387 484.5 L388.5 485.3 L390 486.1" fill="none" stroke="#a0703c" stroke-width="1.1" stroke-linejoin="round"/>
<path d="M103.6 500.8 L105.1 500.7 L106.6 500.6 L108.1 500.5 L109.6 500.4 L111.1 500.3 L112.6 500.2 L114.1 500.1 L115.6 499.9 L117.1 499.8 L118.7 499.7 L120.2 499.6 L121.7 499.5 L123.2 499.3 L124.7 499.2 L126.2 499 L127.7 498.8 L129.2 498.4 L130.7 497.9 L132.2 497.3 L133.7 496.6 L135.2 496 L136.7 495.3 L138.2 494.5 L139.8 493.7 L141.3 493.2 L142.8 492.9 L144.3 492.8 L145.8 492.7 L147.3 492.7 L148.8 492.6 L150.3 492.6 L151.8 492.5 L153.3 492.3 L154.8 492 L156.3 491.7 L157.8 491.3 L159.4 490.9 L160.9 490.7 L162.4 490.4 L163.9 490.1 L165.4 489.9 L166.9 489.7 L168.4 489.7 L169.9 489.7 L171.4 489.7 L172.9 489.8 L174.4 489.8 L175.9 489.9 L177.4 489.9 L178.9 490 L180.5 490.2 L182 490.5 L183.5 490.7 L185 491 L186.5 491.2 L188 491.4 L189.5 491.7 L191 491.9 L192.5 492.2 L194 492.4 L195.5 492.6 L197 492.8 L198.5 492.9 L200.1 493 L201.6 493.2 L203.1 493.2 L204.6 493.3 L206.1 493.4 L207.6 493.5 L209.1 493.5 L210.6 493.6 L212.1 493.6 L213.6 493.6 L215.1 493.6 L216.6 493.5 L218.1 493.3 L219.7 493.1 L221.2 492.8 L222.7 492.4 L224.2 491.9 L225.7 491.3 L227.2 490.4 L228.7 489.4 L230.2 488.2 L231.7 486.7 L233.2 485 L234.7 483 L236.2 480.7 L237.7 478 L239.2 475.1 L240.8 471.8 L242.3 468.1 L243.8 464.1 L245.3 459.7 L246.8 454.9 L248.3 449.8 L249.8 444.4 L251.3 438.6 L252.8 432.6 L254.3 426.3 L255.8 419.8 L257.3 413.1 L258.8 406.3 L260.4 399.5 L261.9 392.6 L263.4 385.8 L264.9 379.2 L266.4 372.7 L267.9 366.4 L269.4 360.5 L270.9 354.9 L272.4 349.8 L273.9 345.1 L275.4 340.9 L276.9 337.3 L278.4 334.2 L280 331.7 L281.5 329.9 L283 328.6 L284.5 328 L286 328 L287.5 328.4 L289 329.2 L290.5 330.3 L292 331.7 L293.5 333.5 L295 335.5 L296.5 337.9 L298 340.5 L299.6 343.4 L301.1 346.4 L302.6 349.7 L304.1 353.2 L305.6 356.8 L307.1 360.6 L308.6 364.5 L310.1 368.5 L311.6 372.5 L313.1 376.7 L314.6 380.8 L316.1 385 L317.6 389.1 L319.1 393.3 L320.7 397.4 L322.2 401.5 L323.7 405.5 L325.2 409.4 L326.7 413.3 L328.2 417.1 L329.7 420.7 L331.2 424.3 L332.7 427.7 L334.2 431 L335.7 434.2 L337.2 437.3 L338.7 440.2 L340.3 443 L341.8 445.7 L343.3 448.3 L344.8 450.7 L346.3 453 L347.8 455.1 L349.3 457.2 L350.8 459.1 L352.3 460.9 L353.8 462.7 L355.3 464.3 L356.8 465.8 L358.3 467.3 L359.9 468.6 L361.4 469.9 L362.9 471.1 L364.4 472.3 L365.9 473.4 L367.4 474.4 L368.9 475.5 L370.4 476.4 L371.9 477.3 L373.4 478.2 L374.9 479.1 L376.4 479.9 L377.9 480.8 L379.4 481.6 L381 482.4 L382.5 483.1 L384 483.9 L385.5 484.6 L387 485.4 L388.5 486.1 L390 486.8" fill="none" stroke="#000000" stroke-width="1.1" stroke-linejoin="round"/>
<path d="M103.6 500.8 L105.1 500.7 L106.6 500.6 L108.1 500.5 L109.6 500.4 L111.1 500.3 L112.6 500.2 L114.1 500.1 L115.6 499.9 L117.1 499.8 L118.7 499.7 L120.2 499.6 L121.7 499.5 L123.2 499.3 L124.7 499.2 L126.2 499 L127.7 498.8 L129.2 498.4 L130.7 497.9 L132.2 497.3 L133.7 496.6 L135.2 496 L136.7 495.3 L138.2 494.5 L139.8 493.7 L141.3 493.2 L142.8 492.9 L144.3 492.8 L145.8 492.7 L147.3 492.7 L148.8 492.6 L150.3 492.6 L151.8 492.5 L153.3 492.3 L154.8 492 L156.3 491.7 L157.8 491.3 L159.4 490.9 L160.9 490.7 L162.4 490.4 L163.9 490.1 L165.4 489.9 L166.9 489.7 L168.4 489.7 L169.9 489.7 L171.4 489.7 L172.9 489.8 L174.4 489.8 L175.9 489.9 L177.4 489.9 L178.9 490 L180.5 490.2 L182 490.5 L183.5 490.7 L185 491 L186.5 491.2 L188 491.4 L189.5 491.7 L191 492 L192.5 492.2 L194 492.4 L195.5 492.6 L197 492.8 L198.5 492.9 L200.1 493.1 L201.6 493.2 L203.1 493.2 L204.6 493.3 L206.1 493.4 L207.6 493.5 L209.1 493.5 L210.6 493.6 L212.1 493.6 L213.6 493.7 L215.1 493.6 L216.6 493.6 L218.1 493.4 L219.7 493.3 L221.2 493 L222.7 492.7 L224.2 492.2 L225.7 491.6 L227.2 490.9 L228.7 490 L230.2 488.8 L231.7 487.5 L233.2 485.9 L234.7 484.1 L236.2 482 L237.7 479.6 L239.2 476.9 L240.8 473.9 L242.3 470.5 L243.8 466.8 L245.3 462.8 L246.8 458.4 L248.3 453.8 L249.8 448.8 L251.3 443.5 L252.8 438 L254.3 432.2 L255.8 426.2 L257.3 420.1 L258.8 413.8 L260.4 407.6 L261.9 401.3 L263.4 395 L264.9 388.9 L266.4 383 L267.9 377.3 L269.4 371.8 L270.9 366.7 L272.4 362 L273.9 357.7 L275.4 353.8 L276.9 350.5 L278.4 347.7 L280 345.4 L281.5 343.7 L283 342.6 L284.5 342 L286 342 L287.5 342.4 L289 343.1 L290.5 344.1 L292 345.4 L293.5 347.1 L295 348.9 L296.5 351.1 L298 353.5 L299.6 356.1 L301.1 359 L302.6 362 L304.1 365.2 L305.6 368.5 L307.1 372 L308.6 375.6 L310.1 379.2 L311.6 382.9 L313.1 386.7 L314.6 390.5 L316.1 394.4 L317.6 398.2 L319.1 402 L320.7 405.8 L322.2 409.6 L323.7 413.2 L325.2 416.9 L326.7 420.4 L328.2 423.9 L329.7 427.2 L331.2 430.5 L332.7 433.7 L334.2 436.7 L335.7 439.6 L337.2 442.5 L338.7 445.2 L340.3 447.7 L341.8 450.2 L343.3 452.5 L344.8 454.8 L346.3 456.9 L347.8 458.9 L349.3 460.7 L350.8 462.5 L352.3 464.2 L353.8 465.8 L355.3 467.3 L356.8 468.7 L358.3 470 L359.9 471.3 L361.4 472.4 L362.9 473.6 L364.4 474.6 L365.9 475.6 L367.4 476.6 L368.9 477.5 L370.4 478.4 L371.9 479.3 L373.4 480.1 L374.9 480.9 L376.4 481.7 L377.9 482.4 L379.4 483.2 L381 483.9 L382.5 484.6 L384 485.3 L385.5 486 L387 486.6 L388.5 487.3 L390 488" fill="none" stroke="#ff8000" stroke-width="1.1" stroke-linejoin="round"/>
<path d="M103.6 500.8 L105.1 500.7 L106.6 500.6 L108.1 500.5 L109.6 500.4 L111.1 500.3 L112.6 500.2 L114.1 500.1 L115.6 499.9 L117.1 499.8 L118.7 499.7 L120.2 499.6 L121.7 499.5 L123.2 499.3 L124.7 499.2 L126.2 499 L127.7 498.8 L129.2 498.4 L130.7 497.9 L132.2 497.3 L133.7 496.6 L135.2 496 L136.7 495.3 L138.2 494.5 L139.8 493.7 L141.3 493.2 L142.8 492.9 L144.3 492.8 L145.8 492.7 L147.3 492.7 L148.8 492.6 L150.3 492.6 L151.8 492.5 L153.3 492.3 L154.8 492 L156.3 491.7 L157.8 491.3 L159.4 490.9 L160.9 490.7 L162.4 490.4 L163.9 490.1 L165.4 489.9 L166.9 489.7 L168.4 489.7 L169.9 489.7 L171.4 489.7 L172.9 489.8 L174.4 489.8 L175.9 489.9 L177.4 489.9 L178.9 490 L180.5 490.2 L182 490.5 L183.5 490.7 L185 491 L186.5 491.2 L188 491.4 L189.5 491.7 L191 492 L192.5 492.2 L194 492.4 L195.5 492.6 L197 492.8 L198.5 492.9 L200.1 493.1 L201.6 493.2 L203.1 493.3 L204.6 493.3 L206.1 493.4 L207.6 493.5 L209.1 493.6 L210.6 493.6 L212.1 493.7 L213.6 493.7 L215.1 493.7 L216.6 493.6 L218.1 493.5 L219.7 493.4 L221.2 493.2 L222.7 492.9 L224.2 492.5 L225.7 492 L227.2 491.3 L228.7 490.4 L230.2 489.4 L231.7 488.2 L233.2 486.8 L234.7 485.1 L236.2 483.2 L237.7 481 L239.2 478.5 L240.8 475.7 L242.3 472.6 L243.8 469.3 L245.3 465.6 L246.8 461.6 L248.3 457.3 L249.8 452.7 L251.3 447.8 L252.8 442.7 L254.3 437.4 L255.8 431.9 L257.3 426.3 L258.8 420.6 L260.4 414.8 L261.9 409 L263.4 403.3 L264.9 397.7 L266.4 392.2 L267.9 386.9 L269.4 381.9 L270.9 377.2 L272.4 372.9 L273.9 368.9 L275.4 365.4 L276.9 362.3 L278.4 359.7 L280 357.6 L281.5 356.1 L283 355 L284.5 354.5 L286 354.5 L287.5 354.9 L289 355.5 L290.5 356.5 L292 357.7 L293.5 359.2 L295 360.9 L296.5 362.9 L298 365.1 L299.6 367.5 L301.1 370.1 L302.6 372.9 L304.1 375.9 L305.6 378.9 L307.1 382.1 L308.6 385.4 L310.1 388.8 L311.6 392.2 L313.1 395.7 L314.6 399.2 L316.1 402.8 L317.6 406.3 L319.1 409.8 L320.7 413.3 L322.2 416.8 L323.7 420.2 L325.2 423.5 L326.7 426.8 L328.2 429.9 L329.7 433 L331.2 436 L332.7 439 L334.2 441.8 L335.7 444.5 L337.2 447.1 L338.7 449.6 L340.3 451.9 L341.8 454.2 L343.3 456.3 L344.8 458.4 L346.3 460.3 L347.8 462.2 L349.3 463.9 L350.8 465.6 L352.3 467.1 L353.8 468.6 L355.3 469.9 L356.8 471.2 L358.3 472.5 L359.9 473.6 L361.4 474.7 L362.9 475.7 L364.4 476.7 L365.9 477.6 L367.4 478.5 L368.9 479.4 L370.4 480.2 L371.9 481 L373.4 481.7 L374.9 482.5 L376.4 483.2 L377.9 483.9 L379.4 484.6 L381 485.2 L382.5 485.9 L384 486.5 L385.5 487.2 L387 487.8 L388.5 488.4 L390 489" fill="none" stroke="#c000ff" stroke-width="1.1" stroke-linejoin="round"/>
<path d="M103.6 500.8 L105.1 500.7 L106.6 500.6 L108.1 500.5 L109.6 500.4 L111.1 500.3 L112.6 500.2 L114.1 500.1 L115.6 499.9 L117.1 499.8 L118.7 499.7 L120.2 499.6 L121.7 499.5 L123.2 499.3 L124.7 499.2 L126.2 499 L127.7 498.8 L129.2 498.4 L130.7 497.9 L132.2 497.3 L133.7 496.6 L135.2 496 L136.7 495.3 L138.2 494.5 L139.8 493.7 L141.3 493.2 L142.8 492.9 L144.3 492.8 L145.8 492.7 L147.3 492.7 L148.8 492.6 L150.3 492.6 L151.8 492.5 L153.3 492.3 L154.8 492 L156.3 491.7 L157.8 491.3 L159.4 490.9 L160.9 490.7 L162.4 490.4 L163.9 490.1 L165.4 489.9 L166.9 489.7 L168.4 489.7 L169.9 489.7 L171.4 489.7 L172.9 489.8 L174.4 489.8 L175.9 489.9 L177.4 489.9 L178.9 490 L180.5 490.2 L182 490.5 L183.5 490.7 L185 491 L186.5 491.2 L188 491.4 L189.5 491.7 L191 492 L192.5 492.2 L194 492.4 L195.5 492.6 L197 492.8 L198.5 492.9 L200.1 493.1 L201.6 493.2 L203.1 493.3 L204.6 493.4 L206.1 493.4 L207.6 493.5 L209.1 493.6 L210.6 493.7 L212.1 493.7 L213.6 493.8 L215.1 493.8 L216.6 493.7 L218.1 493.7 L219.7 493.6 L221.2 493.4 L222.7 493.2 L224.2 492.8 L225.7 492.4 L227.2 491.8 L228.7 491.1 L230.2 490.2 L231.7 489.1 L233.2 487.9 L234.7 486.4 L236.2 484.7 L237.7 482.8 L239.2 480.6 L240.8 478.2 L242.3 475.5 L243.8 472.5 L245.3 469.2 L246.8 465.7 L248.3 461.9 L249.8 457.9 L251.3 453.6 L252.8 449.1 L254.3 444.4 L255.8 439.5 L257.3 434.5 L258.8 429.5 L260.4 424.3 L261.9 419.2 L263.4 414.2 L264.9 409.2 L266.4 404.3 L267.9 399.7 L269.4 395.2 L270.9 391.1 L272.4 387.2 L273.9 383.7 L275.4 380.6 L276.9 377.9 L278.4 375.6 L280 373.8 L281.5 372.4 L283 371.5 L284.5 371 L286 371 L287.5 371.3 L289 371.9 L290.5 372.7 L292 373.8 L293.5 375.2 L295 376.7 L296.5 378.5 L298 380.4 L299.6 382.6 L301.1 384.9 L302.6 387.4 L304.1 390 L305.6 392.7 L307.1 395.6 L308.6 398.5 L310.1 401.5 L311.6 404.5 L313.1 407.6 L314.6 410.7 L316.1 413.9 L317.6 417 L319.1 420.1 L320.7 423.2 L322.2 426.3 L323.7 429.3 L325.2 432.2 L326.7 435.1 L328.2 438 L329.7 440.7 L331.2 443.4 L332.7 446 L334.2 448.5 L335.7 450.9 L337.2 453.2 L338.7 455.4 L340.3 457.5 L341.8 459.5 L343.3 461.4 L344.8 463.2 L346.3 464.9 L347.8 466.6 L349.3 468.1 L350.8 469.6 L352.3 470.9 L353.8 472.2 L355.3 473.4 L356.8 474.6 L358.3 475.7 L359.9 476.7 L361.4 477.7 L362.9 478.6 L364.4 479.5 L365.9 480.3 L367.4 481.1 L368.9 481.8 L370.4 482.6 L371.9 483.3 L373.4 483.9 L374.9 484.6 L376.4 485.2 L377.9 485.8 L379.4 486.4 L381 487 L382.5 487.6 L384 488.2 L385.5 488.7 L387 489.3 L388.5 489.8 L390 490.4" fill="none" stroke="#00c000" stroke-width="1.1" stroke-linejoin="round"/>
<path d="M103.6 500.8 L105.1 500.7 L106.6 500.6 L108.1 500.5 L109.6 500.4 L111.1 500.3 L112.6 500.2 L114.1 500.1 L115.6 499.9 L117.1 499.8 L118.7 499.7 L120.2 499.6 L121.7 499.5 L123.2 499.3 L124.7 499.2 L126.2 499 L127.7 498.8 L129.2 498.4 L130.7 497.9 L132.2 497.3 L133.7 496.6 L135.2 496 L136.7 495.3 L138.2 494.5 L139.8 493.7 L141.3 493.2 L142.8 492.9 L144.3 492.8 L145.8 492.7 L147.3 492.7 L148.8 492.6 L150.3 492.6 L151.8 492.5 L153.3 492.3 L154.8 492 L156.3 491.7 L157.8 491.3 L159.4 490.9 L160.9 490.7 L162.4 490.4 L163.9 490.1 L165.4 489.9 L166.9 489.7 L168.4 489.7 L169.9 489.7 L171.4 489.7 L172.9 489.8 L174.4 489.8 L175.9 489.9 L177.4 489.9 L178.9 490 L180.5 490.2 L182 490.5 L183.5 490.7 L185 491 L186.5 491.2 L188 491.4 L189.5 491.7 L191 492 L192.5 492.2 L194 492.4 L195.5 492.6 L197 492.8 L198.5 492.9 L200.1 493.1 L201.6 493.2 L203.1 493.3 L204.6 493.4 L206.1 493.5 L207.6 493.6 L209.1 493.7 L210.6 493.8 L212.1 493.9 L213.6 493.9 L215.1 494 L216.6 494.1 L218.1 494.1 L219.7 494.1 L221.2 494 L222.7 494 L224.2 493.8 L225.7 493.7 L227.2 493.4 L228.7 493 L230.2 492.5 L231.7 491.9 L233.2 491.2 L234.7 490.4 L236.2 489.4 L237.7 488.2 L239.2 486.9 L240.8 485.5 L242.3 483.9 L243.8 482.1 L245.3 480.1 L246.8 478 L248.3 475.7 L249.8 473.2 L251.3 470.6 L252.8 467.8 L254.3 465 L255.8 462 L257.3 458.9 L258.8 455.8 L260.4 452.7 L261.9 449.6 L263.4 446.4 L264.9 443.4 L266.4 440.4 L267.9 437.6 L269.4 434.8 L270.9 432.3 L272.4 429.9 L273.9 427.8 L275.4 425.9 L276.9 424.2 L278.4 422.8 L280 421.7 L281.5 420.8 L283 420.3 L284.5 420 L286 420 L287.5 420.2 L289 420.6 L290.5 421.1 L292 421.8 L293.5 422.6 L295 423.6 L296.5 424.7 L298 426 L299.6 427.3 L301.1 428.7 L302.6 430.3 L304.1 431.9 L305.6 433.6 L307.1 435.4 L308.6 437.2 L310.1 439.1 L311.6 441 L313.1 442.9 L314.6 444.8 L316.1 446.8 L317.6 448.7 L319.1 450.7 L320.7 452.6 L322.2 454.5 L323.7 456.4 L325.2 458.2 L326.7 460 L328.2 461.8 L329.7 463.5 L331.2 465.1 L332.7 466.7 L334.2 468.3 L335.7 469.8 L337.2 471.2 L338.7 472.6 L340.3 473.9 L341.8 475.2 L343.3 476.4 L344.8 477.5 L346.3 478.6 L347.8 479.6 L349.3 480.5 L350.8 481.4 L352.3 482.3 L353.8 483.1 L355.3 483.9 L356.8 484.6 L358.3 485.3 L359.9 485.9 L361.4 486.5 L362.9 487.1 L364.4 487.6 L365.9 488.1 L367.4 488.6 L368.9 489.1 L370.4 489.6 L371.9 490 L373.4 490.4 L374.9 490.8 L376.4 491.2 L377.9 491.6 L379.4 492 L381 492.3 L382.5 492.7 L384 493.1 L385.5 493.4 L387 493.8 L388.5 494.1 L390 494.4" fill="none" stroke="#ff0000" stroke-width="1.1" stroke-linejoin="round"/>
<path d="M103.6 500.8 L105.1 500.7 L106.6 500.6 L108.1 500.5 L109.6 500.4 L111.1 500.3 L112.6 500.2 L114.1 500.1 L115.6 499.9 L117.1 499.8 L118.7 499.7 L120.2 499.6 L121.7 499.5 L123.2 499.3 L124.7 499.2 L126.2 499 L127.7 498.8 L129.2 498.4 L130.7 497.9 L132.2 497.3 L133.7 496.6 L135.2 496 L136.7 495.3 L138.2 494.5 L139.8 493.7 L141.3 493.2 L142.8 492.9 L144.3 492.8 L145.8 492.7 L147.3 492.7 L148.8 492.6 L150.3 492.6 L151.8 492.5 L153.3 492.3 L154.8 492 L156.3 491.7 L157.8 491.3 L159.4 490.9 L160.9 490.7 L162.4 490.4 L163.9 490.1 L165.4 489.9 L166.9 489.7 L168.4 489.7 L169.9 489.7 L171.4 489.7 L172.9 489.8 L174.4 489.8 L175.9 489.9 L177.4 489.9 L178.9 490 L180.5 490.2 L182 490.4 L183.5 490.7 L185 490.9 L186.5 491.2 L188 491.4 L189.5 491.7 L191 491.9 L192.5 492.2 L194 492.4 L195.5 492.6 L197 492.7 L198.5 492.9 L200.1 493 L201.6 493.1 L203.1 493.1 L204.6 493.2 L206.1 493.3 L207.6 493.4 L209.1 493.4 L210.6 493.5 L212.1 493.6 L213.6 493.7 L215.1 493.7 L216.6 493.8 L218.1 493.9 L219.7 493.9 L221.2 494 L222.7 494 L224.2 494.1 L225.7 494.1 L227.2 494.1 L228.7 494.1 L230.2 494 L231.7 493.9 L233.2 493.8 L234.7 493.7 L236.2 493.6 L237.7 493.4 L239.2 493.2 L240.8 493 L242.3 492.8 L243.8 492.5 L245.3 492.3 L246.8 492 L248.3 491.7 L249.8 491.4 L251.3 491 L252.8 490.7 L254.3 490.3 L255.8 489.9 L257.3 489.5 L258.8 489.2 L260.4 488.8 L261.9 488.4 L263.4 488 L264.9 487.6 L266.4 487.2 L267.9 486.8 L269.4 486.5 L270.9 486.1 L272.4 485.8 L273.9 485.5 L275.4 485.2 L276.9 484.9 L278.4 484.6 L280 484.4 L281.5 484.1 L283 483.9 L284.5 483.8 L286 483.6 L287.5 483.5 L289 483.4 L290.5 483.3 L292 483.2 L293.5 483.2 L295 483.2 L296.5 483.3 L298 483.3 L299.6 483.4 L301.1 483.5 L302.6 483.6 L304.1 483.7 L305.6 483.8 L307.1 484 L308.6 484.2 L310.1 484.3 L311.6 484.5 L313.1 484.7 L314.6 485 L316.1 485.2 L317.6 485.4 L319.1 485.7 L320.7 485.9 L322.2 486.2 L323.7 486.5 L325.2 486.7 L326.7 487 L328.2 487.3 L329.7 487.6 L331.2 487.9 L332.7 488.2 L334.2 488.5 L335.7 488.8 L337.2 489.1 L338.7 489.4 L340.3 489.7 L341.8 490.1 L343.3 490.4 L344.8 490.7 L346.3 491 L347.8 491.3 L349.3 491.6 L350.8 491.8 L352.3 492.1 L353.8 492.4 L355.3 492.7 L356.8 493 L358.3 493.2 L359.9 493.5 L361.4 493.8 L362.9 494 L364.4 494.3 L365.9 494.5 L367.4 494.8 L368.9 495 L370.4 495.2 L371.9 495.4 L373.4 495.7 L374.9 495.9 L376.4 496.1 L377.9 496.3 L379.4 496.5 L381 496.6 L382.5 496.8 L384 497 L385.5 497.2 L387 497.3 L388.5 497.5 L390 497.6" fill="none" stroke="#0000ff" stroke-width="1.1" stroke-linejoin="round"/>
</g>
<line x1="88.5" y1="301.2" x2="390" y2="301.2" stroke="#888" stroke-width="1.6"/>
<line x1="390" y1="301.2" x2="390" y2="502" stroke="#777" stroke-width="1.6"/>
<line x1="88.5" y1="300.6" x2="88.5" y2="507.5" stroke="#333" stroke-width="1.3"/>
<line x1="83" y1="502" x2="390" y2="502" stroke="#666" stroke-width="1.6"/>
<line x1="83" y1="502" x2="88.5" y2="502" stroke="#000" stroke-width="1.3"/>
<line x1="88.5" y1="502" x2="88.5" y2="507.5" stroke="#000" stroke-width="1.3"/>
<text id="cx0" x="88.50" y="524.00" font-size="15" text-anchor="middle" >400</text>
<line x1="83" y1="451.8" x2="88.5" y2="451.8" stroke="#000" stroke-width="1.3"/>
<line x1="163.9" y1="502" x2="163.9" y2="507.5" stroke="#000" stroke-width="1.3"/>
<text id="cx1" x="163.88" y="524.00" font-size="15" text-anchor="middle" >500</text>
<line x1="83" y1="401.6" x2="88.5" y2="401.6" stroke="#000" stroke-width="1.3"/>
<line x1="239.2" y1="502" x2="239.2" y2="507.5" stroke="#000" stroke-width="1.3"/>
<text id="cx2" x="239.25" y="524.00" font-size="15" text-anchor="middle" >600</text>
<line x1="83" y1="351.4" x2="88.5" y2="351.4" stroke="#000" stroke-width="1.3"/>
<line x1="314.6" y1="502" x2="314.6" y2="507.5" stroke="#000" stroke-width="1.3"/>
<text id="cx3" x="314.62" y="524.00" font-size="15" text-anchor="middle" >700</text>
<line x1="83" y1="301.2" x2="88.5" y2="301.2" stroke="#000" stroke-width="1.3"/>
<line x1="390" y1="502" x2="390" y2="507.5" stroke="#000" stroke-width="1.3"/>
<text id="cx4" x="390.00" y="524.00" font-size="15" text-anchor="middle" >800</text>
<text id="cy0" x="71.00" y="507.00" font-size="15" >0</text>
<text id="cy1" x="39.50" y="456.60" font-size="15">2<tspan x="48.10" dy="1.6" font-size="13">×</tspan><tspan x="57.10" dy="-1.6">10</tspan><tspan x="75.30" dy="-4.6" font-size="9.5">4</tspan></text>
<text id="cy2" x="39.50" y="406.40" font-size="15">4<tspan x="48.10" dy="1.6" font-size="13">×</tspan><tspan x="57.10" dy="-1.6">10</tspan><tspan x="75.30" dy="-4.6" font-size="9.5">4</tspan></text>
<text id="cy3" x="39.50" y="356.20" font-size="15">6<tspan x="48.10" dy="1.6" font-size="13">×</tspan><tspan x="57.10" dy="-1.6">10</tspan><tspan x="75.30" dy="-4.6" font-size="9.5">4</tspan></text>
<text id="cy4" x="39.50" y="306.00" font-size="15">8<tspan x="48.10" dy="1.6" font-size="13">×</tspan><tspan x="57.10" dy="-1.6">10</tspan><tspan x="75.30" dy="-4.6" font-size="9.5">4</tspan></text>
<text id="Clab" x="16.00" y="301.00" font-size="19" letter-spacing="1.50" >C)</text>
<text id="Cytitle" transform="translate(37.00,432.80) rotate(-90)" font-size="16" letter-spacing="0.39" >Fl. (a.u.)</text>
<text id="Cxtitle" x="177.50" y="547.30" font-size="16" letter-spacing="0.18" >Wavelength (nm)</text>
<line x1="98" y1="316.6" x2="119" y2="316.6" stroke="#0000a0" stroke-width="1.3"/>
<text id="leg0" x="130.50" y="322.60" font-size="14" letter-spacing="0.33" >2.0 eq.</text>
<line x1="98" y1="337.2" x2="119" y2="337.2" stroke="#a0703c" stroke-width="1.3"/>
<text id="leg1" x="130.50" y="342.90" font-size="14" letter-spacing="0.33" >1.5 eq.</text>
<line x1="98" y1="357.7" x2="119" y2="357.7" stroke="#000000" stroke-width="1.3"/>
<text id="leg2" x="130.50" y="363.20" font-size="14" letter-spacing="0.33" >1.0 eq.</text>
<line x1="98" y1="378.2" x2="119" y2="378.2" stroke="#ff8000" stroke-width="1.3"/>
<text id="leg3" x="130.50" y="383.50" font-size="14" letter-spacing="0.33" >0.8 eq.</text>
<line x1="98" y1="398.8" x2="119" y2="398.8" stroke="#c000ff" stroke-width="1.3"/>
<text id="leg4" x="130.50" y="404.80" font-size="14" letter-spacing="0.33" >0.6 eq.</text>
<line x1="98" y1="419.4" x2="119" y2="419.4" stroke="#00c000" stroke-width="1.3"/>
<text id="leg5" x="130.50" y="425.10" font-size="14" letter-spacing="0.33" >0.4 eq.</text>
<line x1="98" y1="439.9" x2="119" y2="439.9" stroke="#ff0000" stroke-width="1.3"/>
<text id="leg6" x="130.50" y="445.40" font-size="14" letter-spacing="0.33" >0.2 eq.</text>
<line x1="98" y1="460.5" x2="119" y2="460.5" stroke="#0000ff" stroke-width="1.3"/>
<text id="leg7" x="130.50" y="465.70" font-size="14" letter-spacing="0.33" >0.0 eq.</text>
<line x1="208.5" y1="432" x2="208.5" y2="334" stroke="#000" stroke-width="1.3"/>
<path d="M202.7 334 L214.9 334 L208.6 319.5 Z" fill="#000"/>
<text id="Cds" transform="translate(218.00,345.00) rotate(90)" font-size="16" letter-spacing="0.21" >ds26 DNA</text>
<clipPath id="cd"><rect x="469.6" y="300" width="301.7" height="203"/></clipPath>
<g clip-path="url(#cd)">
<path d="M469.5 479.6V516.2M470.5 448.4V490.3M471.5 425.2V448.4M472.5 400.3V425.2M473.5 385.5V400.3M474.5 373.0V385.5M475.5 360.5V373.0M476.5 351.7V360.5M477.5 343.5V351.7M478.5 337.4V343.5M479.5 333.0V337.4M480.5 329.1V333.0M481.5 325.7V329.1M482.5 323.3V326.2M483.5 322.4V323.9M484.5 321.0V322.4M485.5 320.3V321.8M486.5 319.7V321.1M487.5 319.5V320.9M488.5 319.5V320.9M489.5 319.8V321.4M490.5 320.4V321.8M491.5 320.7V322.5M492.5 321.3V323.3M493.5 322.7V324.3M494.5 323.1V324.5M495.5 324.3V326.2M496.5 325.8V327.2M497.5 326.9V328.3M498.5 327.8V329.5M499.5 329.4V331.0M500.5 330.3V331.7M501.5 331.1V333.2M502.5 332.3V333.7M503.5 333.6V335.2M504.5 334.4V336.2M505.5 335.2V337.2M506.5 336.7V339.0M507.5 338.0V339.7M508.5 338.7V341.3M509.5 340.0V341.6M510.5 340.5V343.1M511.5 341.7V343.9M512.5 343.2V345.4M513.5 343.5V345.8M514.5 344.8V346.6M515.5 345.0V347.3M516.5 346.7V349.1M517.5 348.1V349.5M518.5 348.6V350.0M519.5 349.9V351.8M520.5 350.5V352.4M521.5 351.7V353.8M522.5 352.5V354.8M523.5 353.6V355.0M524.5 354.6V356.3M525.5 355.0V357.9M526.5 355.6V358.5M527.5 356.8V358.8M528.5 358.8V360.5M529.5 359.0V361.6M530.5 359.4V363.7M531.5 360.7V362.1M532.5 360.4V363.7M533.5 362.5V365.5M534.5 363.6V365.5M535.5 364.7V366.5M536.5 364.6V368.8M537.5 365.6V368.3M538.5 367.6V370.2M539.5 367.9V370.5M540.5 368.5V371.6M541.5 368.9V372.2M542.5 369.5V374.3M543.5 370.3V373.2M544.5 372.4V374.9M545.5 372.5V375.9M546.5 373.4V376.5M547.5 374.5V377.5M548.5 376.3V379.6M549.5 376.6V380.4M550.5 377.5V380.6M551.5 377.5V382.0M552.5 378.5V380.4M553.5 380.1V384.4M554.5 380.6V382.6M555.5 381.8V383.6M556.5 382.6V386.0M557.5 382.7V387.6M558.5 384.8V388.6M559.5 384.4V389.0M560.5 387.3V389.5M561.5 386.0V389.7M562.5 386.0V391.3M563.5 389.2V392.7M564.5 389.1V392.5M565.5 389.6V392.6M566.5 391.0V394.5M567.5 391.0V395.5M568.5 391.8V396.3M569.5 392.9V396.5M570.5 393.5V397.1M571.5 395.1V398.3M572.5 394.9V401.2M573.5 396.6V398.6M574.5 398.6V404.4M575.5 398.7V402.9M576.5 399.1V403.8M577.5 400.8V403.8M578.5 399.4V405.7M579.5 402.9V406.4M580.5 402.8V407.3M581.5 404.3V410.6M582.5 404.0V408.3M583.5 406.3V409.8M584.5 408.1V412.3M585.5 405.6V412.3M586.5 407.1V412.5M587.5 408.0V413.2M588.5 409.0V412.6M589.5 410.8V415.6M590.5 410.3V420.8M591.5 412.3V420.5M592.5 412.1V415.0M593.5 413.5V420.1M594.5 414.3V420.1M595.5 414.3V419.8M596.5 417.4V421.5M597.5 415.6V424.9M598.5 418.9V423.3M599.5 418.3V426.0M600.5 418.3V424.9M601.5 418.7V428.4M602.5 418.9V426.3M603.5 421.0V428.8M604.5 422.5V429.4M605.5 424.9V429.1M606.5 425.4V431.8M607.5 423.0V434.1M608.5 425.7V432.6M609.5 426.9V434.9M610.5 425.7V433.7M611.5 425.4V439.3M612.5 425.4V438.8M613.5 429.1V432.6M614.5 429.8V437.9M615.5 429.8V437.9M616.5 431.1V437.9M617.5 432.9V445.8M618.5 429.8V438.8M619.5 432.2V444.6M620.5 435.7V445.8M621.5 432.6V442.9M622.5 435.7V444.6M623.5 437.0V442.9M624.5 435.3V445.2M625.5 436.2V445.8M626.5 436.2V442.4M627.5 438.8V447.7M628.5 438.8V449.8M629.5 438.4V449.1M630.5 440.8V451.3M631.5 444.0V457.2M632.5 445.2V454.5M633.5 444.6V457.2M634.5 441.8V455.3M635.5 444.6V463.5M636.5 446.4V468.8M637.5 446.4V468.8M638.5 447.1V455.3M639.5 448.4V470.4M640.5 448.4V456.2M641.5 446.4V459.1M642.5 449.1V458.1M643.5 452.0V458.1M644.5 447.1V467.4M645.5 449.8V459.1M646.5 449.8V470.4M647.5 451.3V470.4M648.5 452.8V463.5M649.5 449.8V463.5M650.5 449.8V467.4M651.5 450.5V470.4M652.5 458.1V473.7M653.5 452.8V464.8M654.5 452.8V467.4M655.5 455.3V473.7M656.5 456.2V477.4M657.5 458.1V468.8M658.5 454.5V475.5M659.5 457.2V477.4M660.5 459.1V479.6M661.5 459.1V475.5M662.5 467.4V477.4M663.5 467.4V477.4M664.5 466.1V484.4M665.5 464.8V484.4M666.5 461.2V475.5M667.5 460.2V487.2M668.5 463.5V477.4M669.5 466.1V487.2M670.5 464.8V481.9M671.5 466.1V487.2M672.5 462.4V475.5M673.5 466.1V481.9M674.5 466.1V481.9M675.5 466.1V479.6M676.5 466.1V481.9M677.5 461.2V484.4M678.5 466.1V490.3M679.5 470.4V487.2M680.5 470.4V502.7M681.5 470.4V493.8M682.5 468.8V481.9M683.5 473.7V487.2M684.5 475.5V490.3M685.5 464.8V481.9M686.5 468.8V487.2M687.5 468.8V497.9M688.5 467.4V490.3M689.5 467.4V490.3M690.5 473.7V493.8M691.5 479.6V508.6M692.5 472.0V493.8M693.5 477.4V487.2M694.5 470.4V502.7M695.5 466.1V493.8M696.5 472.0V490.3M697.5 477.4V490.3M698.5 473.7V497.9M699.5 470.4V487.2M700.5 475.5V516.2M701.5 472.0V493.8M702.5 479.6V493.8M703.5 468.8V493.8M704.5 477.4V497.9M705.5 473.7V508.6M706.5 468.8V497.9M707.5 466.1V502.7M708.5 472.0V508.6M709.5 472.0V497.9M710.5 472.0V502.7M711.5 479.6V508.6M712.5 479.6V493.8M713.5 475.5V497.9M714.5 479.6V497.9M715.5 487.2V502.7M716.5 477.4V502.7M717.5 481.9V508.6M718.5 481.9V508.6M719.5 487.2V508.6M720.5 487.2V490.3M721.5 490.3V502.7M722.5 475.5V516.2M723.5 475.5V502.7M724.5 473.7V502.7M725.5 481.9V516.2M726.5 490.3V502.7M727.5 479.6V497.9M728.5 490.3V516.2M729.5 484.4V508.6M730.5 477.4V508.6M731.5 479.6V508.6M732.5 481.9V502.7M733.5 481.9V502.7M734.5 479.6V502.7M735.5 484.4V526.9M736.5 481.9V497.9M737.5 481.9V508.6M738.5 479.6V545.2M739.5 479.6V516.2M740.5 477.4V508.6M741.5 487.2V502.7M742.5 487.2V502.7M743.5 487.2V516.2M744.5 484.4V516.2M745.5 479.6V526.9M746.5 481.9V493.8M747.5 479.6V508.6M748.5 479.6V508.6M749.5 481.9V508.6M750.5 484.4V545.2M751.5 484.4V508.6M752.5 484.4V497.9M753.5 484.4V526.9M754.5 479.6V502.7M755.5 490.3V508.6M756.5 490.3V508.6M757.5 484.4V508.6M758.5 481.9V508.6M759.5 481.9V508.6M760.5 484.4V508.6M761.5 479.6V508.6M762.5 490.3V508.6M763.5 481.9V526.9M764.5 479.6V508.6M765.5 484.4V516.2M766.5 484.4V508.6M767.5 484.4V516.2M768.5 493.8V526.9M769.5 497.9V526.9M770.5 490.3V516.2M771.5 490.3V516.2" stroke="#006400" stroke-width="1.7" fill="none"/>
<path d="M469.5 462.4V516.2M470.5 447.1V477.4M471.5 424.9V447.1M472.5 399.8V424.9M473.5 385.2V399.8M474.5 370.4V385.2M475.5 360.6V370.4M476.5 350.0V360.6M477.5 343.5V350.0M478.5 338.3V343.5M479.5 333.3V338.3M480.5 328.7V333.3M481.5 325.9V328.7M482.5 324.2V326.1M483.5 321.8V324.3M484.5 320.5V322.4M485.5 319.6V321.0M486.5 319.5V320.9M487.5 319.2V320.8M488.5 319.4V320.8M489.5 319.6V321.0M490.5 320.1V322.2M491.5 320.9V322.3M492.5 321.5V322.9M493.5 321.9V324.2M494.5 323.7V325.1M495.5 324.6V326.0M496.5 325.6V327.0M497.5 326.9V328.4M498.5 327.6V329.3M499.5 328.8V330.4M500.5 330.2V332.2M501.5 331.4V333.2M502.5 332.5V333.9M503.5 333.2V334.7M504.5 334.0V335.9M505.5 335.1V337.1M506.5 336.7V338.7M507.5 338.0V339.4M508.5 339.0V340.4M509.5 340.2V341.6M510.5 341.3V343.4M511.5 342.1V344.1M512.5 343.0V344.4M513.5 343.8V345.3M514.5 344.9V347.4M515.5 345.8V348.4M516.5 346.7V349.0M517.5 348.5V349.9M518.5 348.5V350.6M519.5 349.6V351.8M520.5 350.6V353.1M521.5 352.0V353.9M522.5 352.8V354.8M523.5 353.4V355.6M524.5 354.8V356.7M525.5 355.0V357.2M526.5 356.3V358.9M527.5 357.4V359.2M528.5 359.1V361.5M529.5 358.7V361.5M530.5 359.4V362.3M531.5 360.2V363.8M532.5 362.5V363.9M533.5 362.5V366.2M534.5 364.0V367.4M535.5 364.8V367.3M536.5 364.8V367.8M537.5 366.2V368.7M538.5 367.3V370.5M539.5 367.7V371.9M540.5 368.8V371.1M541.5 369.4V372.8M542.5 370.7V373.1M543.5 372.0V375.2M544.5 372.9V376.1M545.5 373.4V376.5M546.5 373.4V378.3M547.5 375.1V378.5M548.5 376.1V379.3M549.5 378.0V380.0M550.5 377.1V380.5M551.5 378.6V382.5M552.5 379.7V382.5M553.5 381.1V384.3M554.5 381.4V385.0M555.5 382.7V385.8M556.5 382.3V388.9M557.5 385.0V387.8M558.5 384.2V386.4M559.5 385.4V389.2M560.5 388.0V390.6M561.5 387.3V391.3M562.5 387.4V392.1M563.5 389.6V392.5M564.5 389.4V394.1M565.5 390.5V396.7M566.5 392.3V396.2M567.5 392.3V397.0M568.5 394.8V397.7M569.5 392.9V397.5M570.5 393.9V398.7M571.5 397.2V399.1M572.5 397.6V402.0M573.5 399.0V403.8M574.5 397.8V404.8M575.5 399.6V404.8M576.5 399.9V406.1M577.5 402.4V406.4M578.5 399.6V405.9M579.5 399.6V407.3M580.5 403.8V408.9M581.5 403.5V410.1M582.5 404.4V410.0M583.5 404.4V410.0M584.5 406.6V411.3M585.5 407.8V413.3M586.5 409.2V412.5M587.5 410.6V415.4M588.5 411.9V415.8M589.5 409.3V418.3M590.5 409.3V420.3M591.5 410.6V422.2M592.5 413.3V422.2M593.5 412.3V418.7M594.5 412.3V421.7M595.5 413.9V421.7M596.5 416.2V423.5M597.5 416.6V423.3M598.5 418.9V425.2M599.5 416.8V424.9M600.5 419.1V425.7M601.5 421.7V427.2M602.5 421.7V428.8M603.5 420.5V428.8M604.5 422.7V429.8M605.5 423.8V429.8M606.5 425.7V430.1M607.5 427.5V431.5M608.5 423.8V431.1M609.5 428.1V434.9M610.5 430.1V435.3M611.5 425.4V439.3M612.5 425.4V437.9M613.5 432.9V438.8M614.5 431.8V437.0M615.5 434.1V444.0M616.5 431.5V442.9M617.5 434.5V441.8M618.5 433.7V441.3M619.5 432.6V442.4M620.5 433.3V441.8M621.5 437.0V446.4M622.5 436.2V449.1M623.5 437.9V449.1M624.5 437.5V447.1M625.5 437.9V447.1M626.5 435.7V447.7M627.5 443.5V459.1M628.5 441.8V453.6M629.5 439.8V452.8M630.5 442.9V452.8M631.5 440.8V452.8M632.5 443.5V451.3M633.5 440.3V450.5M634.5 444.0V455.3M635.5 441.8V454.5M636.5 445.2V467.4M637.5 449.8V460.2M638.5 444.6V458.1M639.5 452.8V464.8M640.5 447.7V458.1M641.5 447.1V463.5M642.5 447.7V460.2M643.5 446.4V470.4M644.5 455.3V467.4M645.5 447.7V468.8M646.5 445.8V462.4M647.5 453.6V470.4M648.5 457.2V472.0M649.5 455.3V472.0M650.5 455.3V473.7M651.5 454.5V477.4M652.5 453.6V477.4M653.5 453.6V477.4M654.5 459.1V472.0M655.5 460.2V472.0M656.5 454.5V470.4M657.5 458.1V475.5M658.5 460.2V473.7M659.5 457.2V487.2M660.5 462.4V487.2M661.5 454.5V484.4M662.5 459.1V484.4M663.5 455.3V475.5M664.5 462.4V487.2M665.5 464.8V477.4M666.5 466.1V477.4M667.5 466.1V484.4M668.5 460.2V487.2M669.5 462.4V479.6M670.5 468.8V484.4M671.5 466.1V481.9M672.5 464.8V493.8M673.5 467.4V493.8M674.5 459.1V487.2M675.5 468.8V484.4M676.5 463.5V497.9M677.5 468.8V497.9M678.5 468.8V487.2M679.5 464.8V490.3M680.5 473.7V502.7M681.5 470.4V497.9M682.5 473.7V493.8M683.5 472.0V487.2M684.5 468.8V481.9M685.5 464.8V487.2M686.5 464.8V497.9M687.5 473.7V497.9M688.5 473.7V490.3M689.5 473.7V487.2M690.5 472.0V502.7M691.5 472.0V516.2M692.5 475.5V502.7M693.5 472.0V484.4M694.5 479.6V526.9M695.5 479.6V493.8M696.5 477.4V493.8M697.5 475.5V493.8M698.5 475.5V490.3M699.5 472.0V497.9M700.5 473.7V497.9M701.5 481.9V493.8M702.5 475.5V502.7M703.5 473.7V516.2M704.5 477.4V490.3M705.5 477.4V508.6M706.5 468.8V497.9M707.5 467.4V493.8M708.5 473.7V490.3M709.5 479.6V502.7M710.5 479.6V490.3M711.5 475.5V508.6M712.5 481.9V508.6M713.5 473.7V516.2M714.5 473.7V502.7M715.5 490.3V502.7M716.5 487.2V526.9M717.5 479.6V508.6M718.5 477.4V502.7M719.5 481.9V502.7M720.5 479.6V516.2M721.5 479.6V497.9M722.5 481.9V516.2M723.5 468.8V516.2M724.5 468.8V526.9M725.5 475.5V526.9M726.5 479.6V502.7M727.5 479.6V516.2M728.5 473.7V502.7M729.5 475.5V493.8M730.5 484.4V526.9M731.5 477.4V508.6M732.5 477.4V508.6M733.5 479.6V526.9M734.5 481.9V516.2M735.5 484.4V526.9M736.5 477.4V493.8M737.5 481.9V502.7M738.5 484.4V508.6M739.5 479.6V508.6M740.5 475.5V545.2M741.5 479.6V516.2M742.5 487.2V508.6M743.5 472.0V493.8M744.5 472.0V508.6M745.5 479.6V508.6M746.5 481.9V497.9M747.5 481.9V508.6M748.5 481.9V502.7M749.5 481.9V502.7M750.5 484.4V526.9M751.5 487.2V545.2M752.5 481.9V508.6M753.5 475.5V508.6M754.5 475.5V516.2M755.5 484.4V508.6M756.5 484.4V508.6M757.5 468.8V497.9M758.5 481.9V526.9M759.5 484.4V502.7M760.5 484.4V526.9M761.5 477.4V526.9M762.5 493.8V508.6M763.5 490.3V508.6M764.5 487.2V526.9M765.5 490.3V526.9M766.5 484.4V508.6M767.5 477.4V526.9M768.5 484.4V502.7M769.5 487.2V502.7M770.5 484.4V516.2M771.5 487.2V497.9" stroke="#a00000" stroke-width="1.7" fill="none"/>
<path d="M469.5 477.4V502.7M470.5 445.2V479.6M471.5 423.5V449.1M472.5 399.2V423.5M473.5 384.5V399.2M474.5 371.9V384.5M475.5 361.9V371.9M476.5 351.1V361.9M477.5 344.4V351.1M478.5 337.7V344.5M479.5 333.2V337.7M480.5 328.6V333.2M481.5 325.8V328.7M482.5 323.8V325.9M483.5 322.2V323.8M484.5 320.6V322.7M485.5 319.5V321.3M486.5 319.5V321.4M487.5 319.5V320.9M488.5 319.5V320.9M489.5 320.0V321.4M490.5 320.2V321.6M491.5 321.0V322.4M492.5 321.8V323.2M493.5 322.8V324.2M494.5 323.3V325.4M495.5 324.5V326.3M496.5 325.5V327.7M497.5 326.9V328.9M498.5 328.2V329.8M499.5 329.0V330.4M500.5 330.2V331.9M501.5 331.2V333.5M502.5 332.2V335.2M503.5 333.7V335.3M504.5 334.7V336.4M505.5 336.3V337.9M506.5 337.1V338.5M507.5 338.3V339.7M508.5 339.3V341.0M509.5 340.3V342.5M510.5 341.3V342.7M511.5 342.2V344.5M512.5 343.5V344.9M513.5 344.2V345.6M514.5 345.0V347.0M515.5 346.3V347.8M516.5 347.7V349.9M517.5 348.7V350.7M518.5 349.3V352.0M519.5 350.5V352.7M520.5 350.7V353.0M521.5 352.7V354.3M522.5 353.1V354.9M523.5 354.3V355.8M524.5 354.8V357.5M525.5 355.9V358.7M526.5 356.6V359.4M527.5 356.9V360.7M528.5 358.9V360.8M529.5 359.2V362.7M530.5 361.4V362.8M531.5 361.2V363.4M532.5 363.4V367.5M533.5 363.0V365.7M534.5 364.9V367.7M535.5 365.8V368.0M536.5 366.5V368.7M537.5 367.1V369.8M538.5 368.4V371.3M539.5 370.1V371.5M540.5 369.2V372.8M541.5 370.9V373.1M542.5 372.0V374.4M543.5 372.0V375.6M544.5 374.9V377.0M545.5 375.0V376.8M546.5 375.6V379.5M547.5 376.2V379.5M548.5 377.0V380.5M549.5 378.6V380.5M550.5 378.6V382.9M551.5 378.8V382.0M552.5 381.4V383.1M553.5 381.7V385.7M554.5 381.7V385.0M555.5 382.3V386.0M556.5 384.3V387.3M557.5 384.9V388.0M558.5 384.9V389.8M559.5 386.8V392.8M560.5 387.5V390.8M561.5 389.7V392.3M562.5 386.8V393.5M563.5 388.9V394.5M564.5 388.9V394.7M565.5 393.3V394.8M566.5 392.9V397.7M567.5 394.0V397.7M568.5 395.0V399.5M569.5 394.0V400.9M570.5 397.0V400.6M571.5 397.5V403.2M572.5 397.7V402.2M573.5 397.7V403.9M574.5 399.5V404.8M575.5 400.4V405.7M576.5 402.1V403.9M577.5 402.1V407.1M578.5 402.7V409.3M579.5 404.5V411.1M580.5 406.6V409.3M581.5 406.0V409.7M582.5 405.3V410.6M583.5 408.7V416.6M584.5 407.7V411.9M585.5 408.4V414.1M586.5 408.1V414.1M587.5 408.1V415.8M588.5 412.1V417.8M589.5 412.1V419.6M590.5 415.2V419.1M591.5 414.4V422.2M592.5 414.3V422.2M593.5 419.4V422.0M594.5 418.0V422.7M595.5 419.6V424.6M596.5 418.5V424.3M597.5 419.1V422.7M598.5 419.4V424.3M599.5 420.5V428.1M600.5 422.0V427.2M601.5 423.5V426.9M602.5 419.6V431.5M603.5 421.7V433.7M604.5 421.7V434.5M605.5 422.2V431.8M606.5 426.0V434.9M607.5 426.0V432.6M608.5 427.2V437.0M609.5 427.5V441.8M610.5 428.4V437.5M611.5 430.4V438.4M612.5 428.1V438.4M613.5 431.8V438.4M614.5 433.7V439.8M615.5 430.8V440.3M616.5 435.3V441.8M617.5 434.1V447.1M618.5 434.5V445.8M619.5 433.7V449.1M620.5 437.9V449.8M621.5 439.3V449.8M622.5 439.3V447.1M623.5 436.6V449.1M624.5 441.3V452.0M625.5 441.8V453.6M626.5 443.5V456.2M627.5 440.3V447.7M628.5 442.4V462.4M629.5 447.7V457.2M630.5 445.8V459.1M631.5 447.1V459.1M632.5 447.7V454.5M633.5 445.8V457.2M634.5 447.7V456.2M635.5 447.1V460.2M636.5 446.4V459.1M637.5 446.4V460.2M638.5 442.9V461.2M639.5 450.5V458.1M640.5 450.5V462.4M641.5 450.5V463.5M642.5 455.3V472.0M643.5 454.5V467.4M644.5 459.1V464.8M645.5 452.8V467.4M646.5 456.2V468.8M647.5 449.8V466.1M648.5 455.3V473.7M649.5 455.3V468.8M650.5 455.3V467.4M651.5 460.2V477.4M652.5 456.2V477.4M653.5 456.2V475.5M654.5 464.8V481.9M655.5 464.8V477.4M656.5 460.2V477.4M657.5 459.1V487.2M658.5 463.5V472.0M659.5 454.5V473.7M660.5 462.4V502.7M661.5 462.4V481.9M662.5 464.8V481.9M663.5 462.4V493.8M664.5 462.4V484.4M665.5 463.5V484.4M666.5 463.5V475.5M667.5 454.5V487.2M668.5 467.4V490.3M669.5 468.8V481.9M670.5 453.6V484.4M671.5 463.5V490.3M672.5 467.4V484.4M673.5 472.0V493.8M674.5 463.5V487.2M675.5 468.8V508.6M676.5 468.8V490.3M677.5 462.4V490.3M678.5 472.0V490.3M679.5 472.0V487.2M680.5 470.4V490.3M681.5 475.5V497.9M682.5 472.0V497.9M683.5 467.4V502.7M684.5 479.6V502.7M685.5 472.0V493.8M686.5 477.4V493.8M687.5 479.6V502.7M688.5 473.7V493.8M689.5 470.4V497.9M690.5 472.0V502.7M691.5 481.9V490.3M692.5 479.6V516.2M693.5 472.0V497.9M694.5 468.8V493.8M695.5 470.4V493.8M696.5 475.5V508.6M697.5 479.6V502.7M698.5 472.0V490.3M699.5 484.4V497.9M700.5 475.5V497.9M701.5 473.7V508.6M702.5 479.6V502.7M703.5 481.9V516.2M704.5 470.4V508.6M705.5 475.5V497.9M706.5 487.2V502.7M707.5 490.3V508.6M708.5 490.3V502.7M709.5 484.4V526.9M710.5 467.4V526.9M711.5 487.2V516.2M712.5 475.5V516.2M713.5 479.6V502.7M714.5 475.5V502.7M715.5 475.5V502.7M716.5 481.9V493.8M717.5 481.9V497.9M718.5 479.6V508.6M719.5 484.4V497.9M720.5 477.4V516.2M721.5 479.6V508.6M722.5 475.5V508.6M723.5 481.9V502.7M724.5 475.5V493.8M725.5 487.2V497.9M726.5 479.6V508.6M727.5 477.4V508.6M728.5 477.4V516.2M729.5 481.9V502.7M730.5 481.9V508.6M731.5 479.6V516.2M732.5 479.6V493.8M733.5 479.6V508.6M734.5 472.0V508.6M735.5 490.3V508.6M736.5 479.6V516.2M737.5 481.9V516.2M738.5 490.3V516.2M739.5 481.9V508.6M740.5 481.9V508.6M741.5 484.4V502.7M742.5 490.3V516.2M743.5 484.4V502.7M744.5 487.2V508.6M745.5 484.4V516.2M746.5 479.6V502.7M747.5 477.4V502.7M748.5 487.2V508.6M749.5 490.3V508.6M750.5 475.5V493.8M751.5 475.5V508.6M752.5 481.9V516.2M753.5 484.4V516.2M754.5 484.4V508.6M755.5 479.6V502.7M756.5 484.4V508.6M757.5 490.3V508.6M758.5 484.4V497.9M759.5 487.2V508.6M760.5 479.6V545.2M761.5 479.6V502.7M762.5 479.6V502.7M763.5 490.3V516.2M764.5 493.8V526.9M765.5 479.6V526.9M766.5 484.4V508.6M767.5 484.4V545.2M768.5 484.4V526.9M769.5 487.2V526.9M770.5 490.3V508.6M771.5 490.3V502.7" stroke="#0000a0" stroke-width="1.7" fill="none"/>
<path d="M469.5 468.8V502.7M470.5 447.1V481.9M471.5 423.8V447.1M472.5 403.9V423.8M473.5 385.0V403.9M474.5 373.8V385.0M475.5 360.7V375.9M476.5 349.2V360.7M477.5 344.0V349.3M478.5 337.7V344.0M479.5 332.7V337.7M480.5 328.8V333.3M481.5 326.1V328.8M482.5 323.8V326.1M483.5 322.4V323.8M484.5 320.6V322.4M485.5 320.1V321.5M486.5 319.6V321.0M487.5 319.5V320.9M488.5 319.8V321.2M489.5 319.9V321.7M490.5 320.2V321.7M491.5 320.9V322.3M492.5 321.6V323.0M493.5 322.5V323.9M494.5 323.7V325.4M495.5 324.5V325.9M496.5 324.8V327.3M497.5 326.6V328.4M498.5 328.1V329.8M499.5 329.4V331.2M500.5 330.0V332.1M501.5 331.6V333.0M502.5 332.7V334.5M503.5 334.5V336.1M504.5 334.6V337.1M505.5 335.7V338.2M506.5 337.4V339.0M507.5 339.0V340.9M508.5 339.5V340.9M509.5 340.0V342.2M510.5 341.7V343.2M511.5 342.6V344.4M512.5 343.6V345.5M513.5 344.9V346.3M514.5 345.0V348.3M515.5 347.0V349.3M516.5 348.0V350.3M517.5 348.7V350.9M518.5 349.1V351.7M519.5 350.3V352.4M520.5 351.9V354.1M521.5 351.7V355.2M522.5 353.5V355.8M523.5 355.7V357.1M524.5 356.4V357.8M525.5 356.5V359.3M526.5 357.0V359.9M527.5 357.0V361.0M528.5 358.3V362.3M529.5 359.2V362.8M530.5 360.2V363.2M531.5 362.7V364.9M532.5 363.9V366.1M533.5 364.2V366.4M534.5 365.2V367.5M535.5 366.9V368.8M536.5 367.2V368.9M537.5 368.5V370.2M538.5 369.0V371.6M539.5 370.7V373.1M540.5 371.2V375.0M541.5 371.9V375.0M542.5 372.7V376.2M543.5 373.0V377.1M544.5 374.8V376.3M545.5 374.8V378.4M546.5 375.4V380.0M547.5 377.9V380.6M548.5 379.0V380.8M549.5 379.3V383.0M550.5 379.8V383.2M551.5 380.0V384.0M552.5 381.2V385.0M553.5 383.4V385.9M554.5 382.7V386.9M555.5 383.7V387.1M556.5 385.7V389.6M557.5 386.0V389.6M558.5 387.5V391.9M559.5 388.9V392.6M560.5 389.1V394.3M561.5 389.8V394.8M562.5 390.9V394.8M563.5 392.0V396.1M564.5 393.7V397.1M565.5 393.9V397.8M566.5 394.7V398.9M567.5 393.4V398.9M568.5 394.9V400.1M569.5 395.7V401.4M570.5 397.2V402.8M571.5 398.2V402.7M572.5 400.5V407.0M573.5 400.5V405.5M574.5 400.3V405.7M575.5 400.2V405.5M576.5 403.9V406.6M577.5 401.7V408.9M578.5 406.3V410.1M579.5 407.1V412.8M580.5 407.1V411.3M581.5 407.7V414.3M582.5 407.8V414.6M583.5 409.8V414.8M584.5 409.7V415.8M585.5 411.1V416.4M586.5 411.8V420.5M587.5 411.8V417.6M588.5 412.5V422.5M589.5 414.6V418.7M590.5 414.8V423.0M591.5 414.6V422.5M592.5 415.2V425.7M593.5 417.0V424.1M594.5 418.7V425.4M595.5 419.6V423.5M596.5 419.4V425.4M597.5 419.4V427.5M598.5 420.1V430.1M599.5 419.8V431.1M600.5 419.1V433.3M601.5 422.7V433.3M602.5 424.6V434.1M603.5 422.2V432.9M604.5 426.6V432.9M605.5 428.8V435.3M606.5 429.8V434.9M607.5 431.1V437.9M608.5 428.1V433.3M609.5 429.1V442.9M610.5 430.8V440.8M611.5 426.0V442.4M612.5 429.1V441.8M613.5 437.9V444.6M614.5 437.5V444.6M615.5 430.4V442.4M616.5 433.3V442.4M617.5 437.0V444.6M618.5 438.8V457.2M619.5 434.9V447.7M620.5 439.8V448.4M621.5 437.5V447.1M622.5 437.0V449.1M623.5 442.4V450.5M624.5 443.5V461.2M625.5 442.4V455.3M626.5 437.0V452.8M627.5 441.8V456.2M628.5 444.6V452.0M629.5 444.0V460.2M630.5 447.1V462.4M631.5 447.1V462.4M632.5 441.8V455.3M633.5 450.5V462.4M634.5 449.8V461.2M635.5 447.7V461.2M636.5 449.1V461.2M637.5 450.5V464.8M638.5 447.7V461.2M639.5 449.8V467.4M640.5 454.5V467.4M641.5 455.3V464.8M642.5 455.3V466.1M643.5 452.8V466.1M644.5 456.2V475.5M645.5 455.3V467.4M646.5 454.5V468.8M647.5 462.4V470.4M648.5 458.1V466.1M649.5 457.2V470.4M650.5 458.1V481.9M651.5 458.1V481.9M652.5 454.5V490.3M653.5 457.2V484.4M654.5 461.2V484.4M655.5 461.2V477.4M656.5 456.2V479.6M657.5 460.2V481.9M658.5 461.2V470.4M659.5 460.2V479.6M660.5 466.1V484.4M661.5 467.4V477.4M662.5 466.1V479.6M663.5 461.2V481.9M664.5 467.4V484.4M665.5 468.8V493.8M666.5 464.8V484.4M667.5 470.4V490.3M668.5 463.5V490.3M669.5 466.1V493.8M670.5 466.1V502.7M671.5 470.4V479.6M672.5 470.4V502.7M673.5 466.1V487.2M674.5 472.0V508.6M675.5 468.8V484.4M676.5 472.0V493.8M677.5 470.4V487.2M678.5 470.4V493.8M679.5 473.7V508.6M680.5 473.7V497.9M681.5 472.0V516.2M682.5 475.5V516.2M683.5 479.6V490.3M684.5 467.4V493.8M685.5 472.0V493.8M686.5 479.6V516.2M687.5 477.4V497.9M688.5 477.4V508.6M689.5 484.4V502.7M690.5 479.6V502.7M691.5 472.0V526.9M692.5 479.6V502.7M693.5 472.0V497.9M694.5 473.7V502.7M695.5 470.4V508.6M696.5 477.4V497.9M697.5 477.4V502.7M698.5 475.5V502.7M699.5 475.5V502.7M700.5 473.7V493.8M701.5 481.9V493.8M702.5 473.7V493.8M703.5 473.7V497.9M704.5 479.6V508.6M705.5 487.2V502.7M706.5 479.6V493.8M707.5 477.4V502.7M708.5 473.7V508.6M709.5 473.7V508.6M710.5 477.4V497.9M711.5 481.9V497.9M712.5 481.9V497.9M713.5 481.9V516.2M714.5 473.7V502.7M715.5 473.7V497.9M716.5 487.2V516.2M717.5 475.5V516.2M718.5 481.9V508.6M719.5 477.4V508.6M720.5 473.7V502.7M721.5 481.9V502.7M722.5 473.7V490.3M723.5 479.6V526.9M724.5 479.6V502.7M725.5 481.9V526.9M726.5 487.2V516.2M727.5 484.4V516.2M728.5 481.9V516.2M729.5 475.5V497.9M730.5 484.4V502.7M731.5 484.4V516.2M732.5 487.2V502.7M733.5 473.7V502.7M734.5 484.4V502.7M735.5 487.2V516.2M736.5 484.4V497.9M737.5 484.4V508.6M738.5 484.4V502.7M739.5 477.4V502.7M740.5 477.4V526.9M741.5 479.6V508.6M742.5 477.4V508.6M743.5 481.9V516.2M744.5 484.4V508.6M745.5 481.9V545.2M746.5 484.4V545.2M747.5 487.2V502.7M748.5 484.4V526.9M749.5 479.6V526.9M750.5 484.4V508.6M751.5 487.2V508.6M752.5 484.4V508.6M753.5 479.6V516.2M754.5 477.4V516.2M755.5 484.4V497.9M756.5 481.9V502.7M757.5 484.4V497.9M758.5 481.9V526.9M759.5 490.3V502.7M760.5 484.4V497.9M761.5 490.3V502.7M762.5 481.9V508.6M763.5 477.4V497.9M764.5 477.4V508.6M765.5 487.2V508.6M766.5 477.4V526.9M767.5 477.4V526.9M768.5 490.3V502.7M769.5 490.3V508.6M770.5 487.2V516.2M771.5 487.2V508.6" stroke="#a0703c" stroke-width="1.7" fill="none"/>
<path d="M469.5 477.4V497.9M470.5 443.5V484.4M471.5 426.9V444.6M472.5 400.2V430.4M473.5 385.0V400.2M474.5 369.5V385.0M475.5 361.4V369.5M476.5 351.4V361.4M477.5 343.7V351.4M478.5 337.6V344.2M479.5 332.7V337.6M480.5 329.3V332.7M481.5 326.0V329.3M482.5 323.8V326.5M483.5 322.6V324.0M484.5 321.0V323.0M485.5 320.0V321.4M486.5 319.0V320.6M487.5 319.4V320.8M488.5 319.5V320.9M489.5 319.9V321.3M490.5 320.6V322.0M491.5 321.2V322.7M492.5 321.9V323.3M493.5 322.6V324.2M494.5 323.6V325.4M495.5 324.3V326.0M496.5 325.7V327.6M497.5 327.1V329.6M498.5 328.5V330.6M499.5 329.9V331.3M500.5 330.8V332.2M501.5 331.8V333.2M502.5 332.5V335.1M503.5 334.6V336.1M504.5 335.6V337.0M505.5 336.5V338.0M506.5 338.0V339.8M507.5 338.6V341.0M508.5 339.8V341.2M509.5 340.8V342.8M510.5 342.0V344.0M511.5 343.1V344.9M512.5 344.2V346.2M513.5 345.5V347.5M514.5 346.3V348.2M515.5 347.8V349.6M516.5 348.5V350.8M517.5 348.9V350.8M518.5 350.3V352.8M519.5 350.7V353.8M520.5 352.6V354.8M521.5 354.2V356.0M522.5 354.7V357.0M523.5 355.4V356.8M524.5 355.7V359.4M525.5 357.1V359.4M526.5 358.9V360.7M527.5 359.4V361.3M528.5 360.8V362.3M529.5 361.2V364.5M530.5 361.8V365.0M531.5 364.1V365.5M532.5 364.3V366.2M533.5 364.9V367.6M534.5 366.5V368.4M535.5 366.6V369.4M536.5 368.1V370.9M537.5 368.2V372.4M538.5 369.6V372.7M539.5 371.4V374.7M540.5 371.5V374.1M541.5 372.7V375.3M542.5 373.6V376.1M543.5 374.0V378.4M544.5 374.5V380.0M545.5 375.3V379.0M546.5 376.9V381.9M547.5 379.4V381.0M548.5 380.0V382.1M549.5 380.0V383.4M550.5 380.7V385.1M551.5 380.4V385.5M552.5 381.5V385.2M553.5 384.3V388.5M554.5 385.8V389.5M555.5 385.7V390.6M556.5 385.7V390.0M557.5 387.4V391.3M558.5 387.4V393.7M559.5 388.9V394.5M560.5 390.4V393.6M561.5 391.5V395.8M562.5 391.1V397.4M563.5 394.5V399.7M564.5 394.7V399.7M565.5 395.6V399.2M566.5 394.5V401.5M567.5 394.6V401.0M568.5 396.7V400.2M569.5 397.4V402.9M570.5 399.3V404.5M571.5 399.7V404.3M572.5 402.2V404.4M573.5 403.3V406.4M574.5 403.2V407.3M575.5 402.9V407.8M576.5 406.1V409.0M577.5 406.1V409.5M578.5 403.4V409.2M579.5 407.7V412.6M580.5 406.4V415.2M581.5 408.7V417.4M582.5 408.9V414.8M583.5 411.3V416.6M584.5 411.6V418.7M585.5 413.5V418.3M586.5 413.3V418.7M587.5 415.4V418.9M588.5 415.4V422.7M589.5 417.4V421.2M590.5 417.6V422.0M591.5 417.4V423.8M592.5 422.0V425.7M593.5 420.3V425.7M594.5 420.8V427.2M595.5 420.8V431.8M596.5 420.1V428.8M597.5 423.8V431.8M598.5 425.4V432.6M599.5 425.7V432.6M600.5 427.2V431.5M601.5 422.7V435.3M602.5 425.7V433.3M603.5 428.4V437.0M604.5 431.1V437.0M605.5 428.8V436.6M606.5 429.8V437.5M607.5 430.4V439.8M608.5 432.6V439.8M609.5 431.1V440.3M610.5 431.5V439.8M611.5 434.9V443.5M612.5 433.7V441.8M613.5 434.9V439.8M614.5 434.9V449.8M615.5 437.5V447.1M616.5 439.8V449.8M617.5 438.4V449.1M618.5 436.6V458.1M619.5 443.5V458.1M620.5 441.3V447.7M621.5 445.8V451.3M622.5 441.8V452.8M623.5 443.5V458.1M624.5 447.1V455.3M625.5 445.8V457.2M626.5 447.1V458.1M627.5 446.4V464.8M628.5 447.7V464.8M629.5 443.5V457.2M630.5 444.6V463.5M631.5 449.8V466.1M632.5 445.8V460.2M633.5 452.8V462.4M634.5 452.0V463.5M635.5 450.5V467.4M636.5 454.5V466.1M637.5 452.8V472.0M638.5 453.6V477.4M639.5 451.3V475.5M640.5 451.3V473.7M641.5 455.3V470.4M642.5 458.1V475.5M643.5 462.4V473.7M644.5 455.3V475.5M645.5 457.2V477.4M646.5 457.2V477.4M647.5 455.3V470.4M648.5 459.1V468.8M649.5 460.2V473.7M650.5 461.2V484.4M651.5 459.1V484.4M652.5 462.4V481.9M653.5 457.2V468.8M654.5 459.1V481.9M655.5 462.4V484.4M656.5 466.1V484.4M657.5 463.5V473.7M658.5 472.0V484.4M659.5 466.1V484.4M660.5 467.4V497.9M661.5 462.4V481.9M662.5 467.4V484.4M663.5 462.4V493.8M664.5 461.2V487.2M665.5 467.4V479.6M666.5 467.4V490.3M667.5 475.5V487.2M668.5 472.0V497.9M669.5 470.4V497.9M670.5 468.8V481.9M671.5 467.4V490.3M672.5 470.4V490.3M673.5 473.7V490.3M674.5 468.8V493.8M675.5 472.0V493.8M676.5 468.8V484.4M677.5 473.7V490.3M678.5 475.5V508.6M679.5 473.7V493.8M680.5 472.0V493.8M681.5 475.5V508.6M682.5 470.4V487.2M683.5 466.1V490.3M684.5 475.5V502.7M685.5 475.5V493.8M686.5 468.8V502.7M687.5 475.5V516.2M688.5 475.5V516.2M689.5 475.5V493.8M690.5 473.7V508.6M691.5 481.9V487.2M692.5 472.0V502.7M693.5 472.0V497.9M694.5 479.6V493.8M695.5 475.5V493.8M696.5 472.0V502.7M697.5 472.0V497.9M698.5 477.4V508.6M699.5 477.4V493.8M700.5 477.4V508.6M701.5 479.6V502.7M702.5 484.4V502.7M703.5 477.4V516.2M704.5 475.5V508.6M705.5 479.6V526.9M706.5 481.9V516.2M707.5 481.9V502.7M708.5 470.4V508.6M709.5 470.4V508.6M710.5 479.6V508.6M711.5 477.4V497.9M712.5 481.9V502.7M713.5 477.4V508.6M714.5 479.6V502.7M715.5 484.4V497.9M716.5 481.9V508.6M717.5 477.4V516.2M718.5 479.6V545.2M719.5 475.5V545.2M720.5 490.3V516.2M721.5 481.9V508.6M722.5 487.2V516.2M723.5 484.4V526.9M724.5 479.6V516.2M725.5 490.3V508.6M726.5 487.2V508.6M727.5 490.3V516.2M728.5 477.4V516.2M729.5 475.5V545.2M730.5 479.6V526.9M731.5 479.6V516.2M732.5 477.4V508.6M733.5 477.4V516.2M734.5 484.4V516.2M735.5 472.0V502.7M736.5 477.4V502.7M737.5 481.9V516.2M738.5 484.4V502.7M739.5 490.3V502.7M740.5 490.3V516.2M741.5 490.3V508.6M742.5 481.9V502.7M743.5 487.2V526.9M744.5 477.4V502.7M745.5 484.4V508.6M746.5 477.4V502.7M747.5 481.9V516.2M748.5 484.4V516.2M749.5 475.5V508.6M750.5 475.5V526.9M751.5 473.7V526.9M752.5 479.6V516.2M753.5 481.9V516.2M754.5 481.9V493.8M755.5 487.2V508.6M756.5 484.4V516.2M757.5 473.7V508.6M758.5 490.3V508.6M759.5 481.9V516.2M760.5 481.9V508.6M761.5 490.3V545.2M762.5 484.4V508.6M763.5 481.9V526.9M764.5 484.4V508.6M765.5 484.4V545.2M766.5 484.4V545.2M767.5 470.4V497.9M768.5 481.9V516.2M769.5 481.9V526.9M770.5 490.3V516.2M771.5 493.8V516.2" stroke="#000000" stroke-width="1.7" fill="none"/>
<path d="M469.5 479.6V502.7M470.5 450.5V487.2M471.5 421.7V450.5M472.5 398.2V423.5M473.5 384.9V400.1M474.5 371.7V384.9M475.5 360.2V371.7M476.5 350.1V360.2M477.5 344.2V350.1M478.5 337.5V344.2M479.5 333.5V337.5M480.5 329.0V333.5M481.5 325.7V329.4M482.5 323.3V325.9M483.5 322.1V324.3M484.5 320.7V322.7M485.5 320.0V321.4M486.5 319.5V320.9M487.5 319.4V320.8M488.5 319.2V320.6M489.5 320.0V321.5M490.5 321.0V322.8M491.5 322.4V323.9M492.5 322.8V326.0M493.5 324.4V327.2M494.5 326.3V328.3M495.5 327.6V329.6M496.5 328.6V331.3M497.5 331.3V333.0M498.5 332.7V334.4M499.5 334.1V336.2M500.5 335.7V337.4M501.5 336.7V339.3M502.5 338.7V340.1M503.5 339.8V341.8M504.5 341.2V343.3M505.5 341.6V344.8M506.5 343.6V345.0M507.5 344.5V346.9M508.5 346.8V348.2M509.5 347.8V350.5M510.5 349.0V351.6M511.5 349.7V352.5M512.5 351.6V353.3M513.5 352.0V354.9M514.5 353.9V357.3M515.5 355.9V357.3M516.5 356.1V358.1M517.5 357.4V359.5M518.5 358.7V360.2M519.5 358.9V361.6M520.5 361.4V363.3M521.5 362.0V363.9M522.5 363.1V365.4M523.5 364.3V366.0M524.5 364.4V366.5M525.5 365.6V368.6M526.5 367.8V369.2M527.5 368.0V369.4M528.5 368.1V370.8M529.5 369.4V372.4M530.5 371.6V374.3M531.5 371.6V374.7M532.5 371.6V377.3M533.5 374.0V377.8M534.5 374.8V378.1M535.5 376.0V378.8M536.5 377.3V379.7M537.5 378.6V380.8M538.5 378.2V382.1M539.5 380.6V383.2M540.5 381.1V382.8M541.5 381.9V385.3M542.5 381.6V385.7M543.5 384.0V386.4M544.5 383.9V387.8M545.5 385.1V390.5M546.5 386.5V390.5M547.5 386.8V392.4M548.5 386.9V393.4M549.5 389.4V393.4M550.5 389.3V394.0M551.5 390.7V394.9M552.5 391.6V395.2M553.5 392.7V395.9M554.5 393.6V398.0M555.5 394.9V399.6M556.5 394.0V398.7M557.5 397.1V400.6M558.5 398.5V402.9M559.5 398.5V402.2M560.5 398.6V403.5M561.5 400.5V406.0M562.5 399.6V406.0M563.5 401.3V406.7M564.5 402.0V408.7M565.5 404.2V408.7M566.5 404.9V409.7M567.5 406.1V411.3M568.5 404.7V411.3M569.5 405.5V414.8M570.5 406.4V414.3M571.5 409.7V414.3M572.5 408.9V415.8M573.5 409.0V415.2M574.5 412.1V417.4M575.5 411.6V418.0M576.5 413.3V417.8M577.5 414.8V420.8M578.5 414.6V420.8M579.5 414.8V421.7M580.5 417.8V423.0M581.5 418.0V422.5M582.5 417.4V427.5M583.5 420.3V427.5M584.5 421.5V429.1M585.5 421.5V425.2M586.5 421.5V426.9M587.5 421.2V429.4M588.5 425.2V429.4M589.5 424.1V434.1M590.5 426.9V434.1M591.5 429.1V437.9M592.5 430.4V437.9M593.5 423.3V430.8M594.5 428.4V440.3M595.5 428.1V438.4M596.5 428.1V439.8M597.5 432.6V438.4M598.5 432.9V438.8M599.5 432.9V443.5M600.5 435.3V442.9M601.5 430.8V442.4M602.5 437.9V441.3M603.5 439.3V445.2M604.5 435.3V448.4M605.5 439.3V447.1M606.5 441.8V452.8M607.5 437.5V453.6M608.5 444.0V451.3M609.5 440.8V453.6M610.5 440.8V453.6M611.5 441.3V456.2M612.5 442.4V451.3M613.5 438.8V449.8M614.5 442.4V455.3M615.5 443.5V457.2M616.5 441.8V456.2M617.5 449.8V466.1M618.5 442.4V458.1M619.5 443.5V461.2M620.5 450.5V461.2M621.5 449.1V460.2M622.5 452.0V462.4M623.5 451.3V462.4M624.5 448.4V477.4M625.5 454.5V463.5M626.5 454.5V466.1M627.5 446.4V468.8M628.5 452.0V468.8M629.5 453.6V472.0M630.5 456.2V463.5M631.5 455.3V467.4M632.5 458.1V479.6M633.5 456.2V472.0M634.5 456.2V468.8M635.5 460.2V475.5M636.5 459.1V472.0M637.5 457.2V475.5M638.5 462.4V473.7M639.5 459.1V493.8M640.5 455.3V470.4M641.5 455.3V490.3M642.5 462.4V477.4M643.5 459.1V475.5M644.5 462.4V490.3M645.5 456.2V479.6M646.5 456.2V487.2M647.5 463.5V481.9M648.5 463.5V481.9M649.5 463.5V493.8M650.5 467.4V484.4M651.5 470.4V490.3M652.5 466.1V484.4M653.5 459.1V493.8M654.5 464.8V493.8M655.5 470.4V487.2M656.5 470.4V487.2M657.5 473.7V508.6M658.5 464.8V481.9M659.5 472.0V516.2M660.5 466.1V487.2M661.5 472.0V497.9M662.5 466.1V493.8M663.5 472.0V493.8M664.5 473.7V493.8M665.5 473.7V493.8M666.5 479.6V502.7M667.5 467.4V490.3M668.5 467.4V493.8M669.5 475.5V516.2M670.5 473.7V516.2M671.5 481.9V490.3M672.5 473.7V493.8M673.5 473.7V502.7M674.5 477.4V497.9M675.5 477.4V508.6M676.5 472.0V508.6M677.5 484.4V508.6M678.5 481.9V516.2M679.5 484.4V497.9M680.5 477.4V516.2M681.5 477.4V497.9M682.5 479.6V508.6M683.5 472.0V497.9M684.5 477.4V508.6M685.5 490.3V508.6M686.5 475.5V497.9M687.5 479.6V490.3M688.5 487.2V497.9M689.5 479.6V516.2M690.5 481.9V508.6M691.5 479.6V502.7M692.5 477.4V490.3M693.5 477.4V516.2M694.5 473.7V516.2M695.5 479.6V508.6M696.5 477.4V497.9M697.5 479.6V508.6M698.5 477.4V502.7M699.5 477.4V502.7M700.5 484.4V508.6M701.5 484.4V508.6M702.5 479.6V497.9M703.5 481.9V508.6M704.5 479.6V508.6M705.5 484.4V508.6M706.5 484.4V502.7M707.5 477.4V516.2M708.5 479.6V502.7M709.5 487.2V526.9M710.5 479.6V526.9M711.5 479.6V502.7M712.5 484.4V516.2M713.5 481.9V526.9M714.5 481.9V526.9M715.5 484.4V526.9M716.5 490.3V508.6M717.5 481.9V508.6M718.5 493.8V526.9M719.5 493.8V516.2M720.5 484.4V516.2M721.5 487.2V516.2M722.5 487.2V508.6M723.5 493.8V516.2M724.5 481.9V508.6M725.5 490.3V545.2M726.5 490.3V508.6M727.5 484.4V545.2M728.5 490.3V508.6M729.5 490.3V526.9M730.5 481.9V516.2M731.5 481.9V516.2M732.5 481.9V516.2M733.5 481.9V516.2M734.5 493.8V526.9M735.5 490.3V516.2M736.5 481.9V516.2M737.5 487.2V516.2M738.5 479.6V508.6M739.5 479.6V526.9M740.5 487.2V516.2M741.5 490.3V508.6M742.5 487.2V526.9M743.5 487.2V526.9M744.5 490.3V502.7M745.5 493.8V508.6M746.5 481.9V508.6M747.5 493.8V502.7M748.5 493.8V526.9M749.5 487.2V526.9M750.5 487.2V526.9M751.5 487.2V508.6M752.5 484.4V516.2M753.5 487.2V502.7M754.5 484.4V508.6M755.5 473.7V516.2M756.5 497.9V516.2M757.5 493.8V508.6M758.5 487.2V508.6M759.5 490.3V526.9M760.5 490.3V516.2M761.5 493.8V502.7M762.5 490.3V526.9M763.5 493.8V508.6M764.5 487.2V508.6M765.5 484.4V545.2M766.5 484.4V497.9M767.5 490.3V526.9M768.5 487.2V516.2M769.5 487.2V502.7M770.5 484.4V545.2M771.5 497.9V502.7" stroke="#ff8000" stroke-width="1.7" fill="none"/>
<path d="M469.5 470.4V526.9M470.5 450.5V477.4M471.5 423.5V450.5M472.5 403.9V426.0M473.5 383.8V403.9M474.5 370.4V383.8M475.5 360.4V370.4M476.5 351.1V360.4M477.5 343.4V351.2M478.5 338.0V344.0M479.5 332.9V338.3M480.5 329.3V332.9M481.5 325.7V329.3M482.5 323.5V325.7M483.5 322.2V323.8M484.5 320.6V322.8M485.5 320.0V321.4M486.5 319.3V320.7M487.5 319.6V321.0M488.5 319.8V321.2M489.5 320.5V322.5M490.5 322.0V323.6M491.5 323.6V325.0M492.5 324.6V327.0M493.5 327.0V329.2M494.5 329.2V331.6M495.5 331.6V333.5M496.5 333.5V336.3M497.5 335.9V339.3M498.5 339.2V341.6M499.5 341.6V343.5M500.5 343.5V345.5M501.5 345.5V347.7M502.5 346.3V350.5M503.5 349.3V350.9M504.5 350.3V353.9M505.5 351.7V354.9M506.5 354.0V356.4M507.5 354.2V357.4M508.5 357.0V360.2M509.5 358.5V361.0M510.5 359.6V361.5M511.5 361.1V363.8M512.5 361.1V364.1M513.5 361.4V365.0M514.5 363.9V365.3M515.5 364.1V367.1M516.5 365.9V368.3M517.5 366.8V368.8M518.5 368.0V370.8M519.5 368.9V371.0M520.5 369.9V372.0M521.5 370.9V372.7M522.5 372.2V375.0M523.5 372.2V374.9M524.5 373.3V376.4M525.5 374.0V377.9M526.5 375.9V377.9M527.5 376.2V379.2M528.5 377.8V379.5M529.5 379.0V382.2M530.5 380.0V382.6M531.5 380.9V382.7M532.5 382.1V385.8M533.5 381.0V385.8M534.5 383.9V386.4M535.5 384.0V388.0M536.5 386.6V389.1M537.5 385.5V391.1M538.5 389.2V391.1M539.5 389.7V392.4M540.5 390.5V392.9M541.5 390.9V394.9M542.5 390.9V397.0M543.5 392.2V395.6M544.5 393.5V399.2M545.5 394.3V400.1M546.5 394.7V400.1M547.5 396.0V400.2M548.5 397.4V401.5M549.5 398.5V400.5M550.5 397.1V407.3M551.5 399.8V407.3M552.5 400.7V406.3M553.5 401.3V408.0M554.5 403.2V408.0M555.5 404.2V408.6M556.5 405.2V409.2M557.5 403.7V412.3M558.5 405.3V412.3M559.5 407.1V414.6M560.5 408.4V411.9M561.5 408.4V411.8M562.5 409.3V417.2M563.5 411.8V416.6M564.5 411.1V417.2M565.5 414.1V420.3M566.5 412.8V420.1M567.5 413.3V420.8M568.5 416.0V420.8M569.5 416.8V425.2M570.5 416.6V423.0M571.5 418.5V424.1M572.5 418.5V428.1M573.5 418.0V430.4M574.5 422.7V428.1M575.5 420.8V427.8M576.5 421.5V436.6M577.5 424.3V432.9M578.5 419.8V431.8M579.5 424.6V431.5M580.5 426.6V431.8M581.5 424.3V438.4M582.5 429.1V437.0M583.5 427.5V438.8M584.5 427.5V437.9M585.5 430.8V440.3M586.5 433.7V442.4M587.5 435.3V442.4M588.5 433.7V442.4M589.5 430.4V444.0M590.5 433.3V445.2M591.5 436.2V445.8M592.5 435.3V449.1M593.5 434.9V448.4M594.5 435.3V445.8M595.5 435.3V450.5M596.5 438.8V450.5M597.5 438.4V452.0M598.5 443.5V452.0M599.5 442.9V453.6M600.5 444.0V457.2M601.5 445.8V453.6M602.5 447.1V454.5M603.5 446.4V457.2M604.5 454.5V461.2M605.5 447.7V456.2M606.5 448.4V459.1M607.5 448.4V462.4M608.5 452.8V467.4M609.5 448.4V460.2M610.5 448.4V460.2M611.5 449.1V459.1M612.5 459.1V472.0M613.5 452.8V466.1M614.5 452.0V468.8M615.5 450.5V468.8M616.5 455.3V467.4M617.5 454.5V467.4M618.5 461.2V473.7M619.5 460.2V468.8M620.5 462.4V468.8M621.5 455.3V481.9M622.5 452.8V472.0M623.5 458.1V468.8M624.5 463.5V472.0M625.5 454.5V479.6M626.5 466.1V484.4M627.5 468.8V473.7M628.5 457.2V472.0M629.5 461.2V472.0M630.5 463.5V477.4M631.5 464.8V477.4M632.5 466.1V481.9M633.5 467.4V497.9M634.5 461.2V497.9M635.5 463.5V484.4M636.5 463.5V490.3M637.5 466.1V481.9M638.5 468.8V481.9M639.5 466.1V490.3M640.5 467.4V487.2M641.5 464.8V479.6M642.5 467.4V484.4M643.5 467.4V487.2M644.5 479.6V502.7M645.5 473.7V502.7M646.5 472.0V490.3M647.5 475.5V490.3M648.5 470.4V490.3M649.5 472.0V516.2M650.5 475.5V516.2M651.5 473.7V493.8M652.5 475.5V493.8M653.5 475.5V493.8M654.5 477.4V490.3M655.5 477.4V493.8M656.5 473.7V493.8M657.5 475.5V490.3M658.5 481.9V508.6M659.5 475.5V493.8M660.5 475.5V526.9M661.5 473.7V508.6M662.5 487.2V502.7M663.5 481.9V493.8M664.5 481.9V508.6M665.5 481.9V497.9M666.5 475.5V490.3M667.5 475.5V526.9M668.5 481.9V526.9M669.5 470.4V508.6M670.5 484.4V508.6M671.5 479.6V502.7M672.5 484.4V497.9M673.5 484.4V508.6M674.5 473.7V508.6M675.5 479.6V508.6M676.5 477.4V497.9M677.5 479.6V516.2M678.5 479.6V508.6M679.5 479.6V502.7M680.5 484.4V545.2M681.5 481.9V545.2M682.5 484.4V497.9M683.5 487.2V508.6M684.5 484.4V516.2M685.5 484.4V516.2M686.5 484.4V516.2M687.5 484.4V516.2M688.5 487.2V516.2M689.5 481.9V516.2M690.5 484.4V502.7M691.5 490.3V545.2M692.5 484.4V526.9M693.5 475.5V508.6M694.5 475.5V508.6M695.5 487.2V516.2M696.5 481.9V516.2M697.5 484.4V508.6M698.5 477.4V516.2M699.5 490.3V508.6M700.5 484.4V526.9M701.5 490.3V508.6M702.5 479.6V508.6M703.5 477.4V508.6M704.5 484.4V516.2M705.5 484.4V526.9M706.5 484.4V516.2M707.5 484.4V526.9M708.5 484.4V526.9M709.5 479.6V508.6M710.5 487.2V516.2M711.5 490.3V526.9M712.5 479.6V516.2M713.5 490.3V516.2M714.5 490.3V516.2M715.5 490.3V502.7M716.5 490.3V526.9M717.5 490.3V516.2M718.5 497.9V545.2M719.5 493.8V526.9M720.5 487.2V508.6M721.5 502.7V526.9M722.5 484.4V516.2M723.5 477.4V526.9M724.5 481.9V526.9M725.5 484.4V508.6M726.5 487.2V526.9M727.5 493.8V545.2M728.5 490.3V545.2M729.5 487.2V516.2M730.5 481.9V545.2M731.5 487.2V545.2M732.5 490.3V508.6M733.5 481.9V545.2M734.5 481.9V516.2M735.5 497.9V516.2M736.5 490.3V526.9M737.5 490.3V526.9M738.5 484.4V508.6M739.5 487.2V545.2M740.5 487.2V516.2M741.5 479.6V508.6M742.5 481.9V516.2M743.5 490.3V516.2M744.5 481.9V545.2M745.5 493.8V502.7M746.5 487.2V526.9M747.5 490.3V545.2M748.5 490.3V526.9M749.5 497.9V526.9M750.5 490.3V516.2M751.5 490.3V526.9M752.5 487.2V526.9M753.5 487.2V516.2M754.5 477.4V497.9M755.5 487.2V508.6M756.5 493.8V516.2M757.5 497.9V526.9M758.5 481.9V516.2M759.5 481.9V526.9M760.5 497.9V516.2M761.5 493.8V526.9M762.5 493.8V516.2M763.5 493.8V526.9M764.5 484.4V526.9M765.5 484.4V545.2M766.5 481.9V545.2M767.5 490.3V508.6M768.5 490.3V516.2M769.5 490.3V508.6M770.5 481.9V545.2M771.5 493.8V502.7" stroke="#c000ff" stroke-width="1.7" fill="none"/>
<path d="M469.5 479.6V497.9M470.5 442.9V497.9M471.5 426.9V445.8M472.5 401.9V426.9M473.5 385.5V401.9M474.5 371.4V385.5M475.5 359.3V371.4M476.5 351.5V359.3M477.5 343.6V352.2M478.5 338.1V343.6M479.5 333.6V338.1M480.5 329.0V333.6M481.5 326.5V329.0M482.5 323.5V326.7M483.5 322.0V323.5M484.5 320.2V322.7M485.5 319.8V321.2M486.5 319.8V321.2M487.5 319.3V320.7M488.5 319.8V321.9M489.5 321.0V323.9M490.5 323.6V326.5M491.5 326.5V329.8M492.5 329.8V334.8M493.5 334.8V338.7M494.5 338.4V344.4M495.5 344.1V347.4M496.5 346.9V351.7M497.5 351.7V356.3M498.5 354.8V358.8M499.5 358.0V360.7M500.5 360.7V363.8M501.5 363.2V367.1M502.5 365.3V367.7M503.5 367.5V369.4M504.5 369.0V372.6M505.5 371.5V373.8M506.5 371.8V373.8M507.5 373.5V375.6M508.5 373.4V376.6M509.5 375.8V378.8M510.5 376.2V378.5M511.5 377.7V380.4M512.5 379.4V381.7M513.5 379.9V382.7M514.5 380.2V383.7M515.5 383.0V385.0M516.5 381.7V387.8M517.5 384.2V387.6M518.5 384.5V387.5M519.5 386.0V389.5M520.5 387.1V390.2M521.5 388.0V392.3M522.5 390.0V392.0M523.5 390.3V392.9M524.5 391.3V396.3M525.5 392.9V395.4M526.5 393.2V397.0M527.5 394.5V398.3M528.5 394.9V399.2M529.5 393.9V401.5M530.5 397.4V401.9M531.5 398.1V401.9M532.5 398.1V403.0M533.5 400.1V403.4M534.5 400.9V406.3M535.5 402.3V406.8M536.5 402.3V408.4M537.5 404.5V409.5M538.5 404.8V409.7M539.5 407.8V409.8M540.5 405.7V410.3M541.5 405.7V413.5M542.5 408.9V414.1M543.5 409.0V413.9M544.5 411.1V417.0M545.5 414.1V417.4M546.5 412.5V418.0M547.5 412.5V421.7M548.5 415.2V422.5M549.5 415.2V421.5M550.5 416.4V421.5M551.5 416.4V423.5M552.5 417.2V424.6M553.5 421.0V428.1M554.5 419.1V427.5M555.5 421.7V428.1M556.5 420.5V427.5M557.5 423.8V429.8M558.5 424.3V430.8M559.5 426.6V437.0M560.5 427.2V434.1M561.5 427.2V435.7M562.5 428.1V438.4M563.5 427.2V437.0M564.5 430.4V437.5M565.5 431.1V438.8M566.5 434.9V439.3M567.5 433.3V438.8M568.5 434.9V445.8M569.5 437.0V444.0M570.5 437.5V441.8M571.5 439.8V442.4M572.5 432.9V450.5M573.5 439.3V450.5M574.5 440.3V449.8M575.5 441.8V449.8M576.5 444.0V451.3M577.5 442.4V449.8M578.5 444.6V457.2M579.5 444.6V456.2M580.5 445.2V456.2M581.5 447.7V456.2M582.5 447.7V459.1M583.5 445.8V459.1M584.5 442.4V462.4M585.5 450.5V467.4M586.5 444.0V460.2M587.5 451.3V458.1M588.5 451.3V461.2M589.5 447.7V467.4M590.5 455.3V464.8M591.5 445.8V464.8M592.5 445.8V467.4M593.5 450.5V467.4M594.5 457.2V477.4M595.5 459.1V468.8M596.5 452.8V470.4M597.5 455.3V484.4M598.5 457.2V472.0M599.5 459.1V475.5M600.5 460.2V479.6M601.5 462.4V473.7M602.5 462.4V479.6M603.5 458.1V490.3M604.5 466.1V475.5M605.5 462.4V484.4M606.5 461.2V475.5M607.5 466.1V481.9M608.5 468.8V490.3M609.5 464.8V479.6M610.5 466.1V487.2M611.5 463.5V487.2M612.5 468.8V479.6M613.5 472.0V484.4M614.5 466.1V493.8M615.5 470.4V493.8M616.5 468.8V502.7M617.5 472.0V487.2M618.5 473.7V487.2M619.5 472.0V490.3M620.5 472.0V490.3M621.5 470.4V490.3M622.5 470.4V508.6M623.5 473.7V497.9M624.5 475.5V497.9M625.5 473.7V502.7M626.5 473.7V516.2M627.5 473.7V526.9M628.5 473.7V490.3M629.5 477.4V497.9M630.5 475.5V493.8M631.5 475.5V502.7M632.5 481.9V502.7M633.5 481.9V497.9M634.5 477.4V497.9M635.5 479.6V497.9M636.5 475.5V508.6M637.5 481.9V502.7M638.5 479.6V493.8M639.5 467.4V508.6M640.5 481.9V493.8M641.5 484.4V508.6M642.5 484.4V516.2M643.5 487.2V508.6M644.5 490.3V516.2M645.5 484.4V508.6M646.5 487.2V508.6M647.5 484.4V526.9M648.5 479.6V502.7M649.5 479.6V526.9M650.5 481.9V502.7M651.5 479.6V508.6M652.5 484.4V497.9M653.5 487.2V545.2M654.5 479.6V502.7M655.5 487.2V508.6M656.5 479.6V508.6M657.5 479.6V508.6M658.5 479.6V526.9M659.5 487.2V545.2M660.5 484.4V502.7M661.5 479.6V526.9M662.5 497.9V526.9M663.5 484.4V545.2M664.5 487.2V508.6M665.5 484.4V516.2M666.5 493.8V516.2M667.5 484.4V526.9M668.5 484.4V516.2M669.5 487.2V516.2M670.5 490.3V526.9M671.5 497.9V516.2M672.5 490.3V508.6M673.5 497.9V526.9M674.5 481.9V502.7M675.5 484.4V516.2M676.5 475.5V516.2M677.5 484.4V526.9M678.5 481.9V526.9M679.5 487.2V526.9M680.5 490.3V526.9M681.5 487.2V526.9M682.5 487.2V516.2M683.5 490.3V516.2M684.5 493.8V526.9M685.5 493.8V516.2M686.5 497.9V526.9M687.5 493.8V508.6M688.5 497.9V526.9M689.5 487.2V526.9M690.5 490.3V526.9M691.5 481.9V526.9M692.5 487.2V508.6M693.5 490.3V526.9M694.5 497.9V516.2M695.5 497.9V545.2M696.5 484.4V545.2M697.5 493.8V526.9M698.5 490.3V526.9M699.5 497.9V545.2M700.5 487.2V516.2M701.5 487.2V516.2M702.5 487.2V545.2M703.5 490.3V516.2M704.5 493.8V526.9M705.5 493.8V545.2M706.5 493.8V516.2M707.5 481.9V516.2M708.5 481.9V516.2M709.5 490.3V526.9M710.5 487.2V545.2M711.5 487.2V526.9M712.5 493.8V545.2M713.5 487.2V526.9M714.5 490.3V526.9M715.5 490.3V526.9M716.5 493.8V526.9M717.5 490.3V526.9M718.5 481.9V526.9M719.5 490.3V516.2M720.5 490.3V526.9M721.5 490.3V508.6M722.5 481.9V545.2M723.5 484.4V526.9M724.5 490.3V516.2M725.5 484.4V508.6M726.5 487.2V526.9M727.5 493.8V526.9M728.5 493.8V526.9M729.5 497.9V516.2M730.5 493.8V526.9M731.5 493.8V526.9M732.5 487.2V526.9M733.5 493.8V526.9M734.5 490.3V508.6M735.5 487.2V516.2M736.5 487.2V526.9M737.5 493.8V545.2M738.5 490.3V545.2M739.5 493.8V516.2M740.5 487.2V508.6M741.5 490.3V545.2M742.5 497.9V526.9M743.5 484.4V516.2M744.5 490.3V516.2M745.5 490.3V545.2M746.5 477.4V516.2M747.5 493.8V516.2M748.5 497.9V508.6M749.5 484.4V516.2M750.5 487.2V526.9M751.5 481.9V526.9M752.5 493.8V545.2M753.5 493.8V526.9M754.5 484.4V526.9M755.5 493.8V526.9M756.5 487.2V526.9M757.5 490.3V526.9M758.5 487.2V516.2M759.5 497.9V526.9M760.5 490.3V526.9M761.5 490.3V545.2M762.5 477.4V526.9M763.5 487.2V545.2M764.5 479.6V545.2M765.5 487.2V526.9M766.5 487.2V508.6M767.5 487.2V526.9M768.5 493.8V526.9M769.5 487.2V545.2M770.5 493.8V545.2M771.5 497.9V526.9" stroke="#00c000" stroke-width="1.7" fill="none"/>
<path d="M469.5 470.4V516.2M470.5 445.8V475.5M471.5 423.8V452.0M472.5 399.8V423.8M473.5 385.3V404.7M474.5 372.4V385.3M475.5 361.9V372.4M476.5 349.8V361.9M477.5 344.3V350.1M478.5 337.5V344.3M479.5 333.1V337.5M480.5 328.8V333.1M481.5 325.5V328.8M482.5 324.0V326.2M483.5 322.3V324.0M484.5 321.1V322.5M485.5 320.2V321.7M486.5 319.6V321.0M487.5 319.1V320.5M488.5 320.0V321.4M489.5 321.3V325.9M490.5 325.7V329.0M491.5 329.0V333.6M492.5 333.6V339.1M493.5 339.1V344.4M494.5 344.4V350.0M495.5 349.5V357.0M496.5 355.9V360.5M497.5 360.5V366.7M498.5 366.7V371.7M499.5 371.7V376.6M500.5 376.0V381.9M501.5 381.9V384.2M502.5 384.2V389.7M503.5 386.6V393.8M504.5 391.7V395.1M505.5 393.4V397.2M506.5 393.6V399.0M507.5 396.3V400.7M508.5 398.6V403.0M509.5 400.1V407.7M510.5 402.0V407.7M511.5 401.5V409.2M512.5 403.4V409.2M513.5 403.7V411.1M514.5 406.3V412.3M515.5 407.4V413.5M516.5 407.0V413.5M517.5 409.8V413.5M518.5 411.4V417.0M519.5 413.0V415.4M520.5 411.6V419.1M521.5 416.6V421.0M522.5 414.6V421.0M523.5 411.8V421.2M524.5 415.2V422.2M525.5 417.6V424.1M526.5 417.0V424.6M527.5 418.7V426.0M528.5 420.8V423.0M529.5 420.5V428.8M530.5 422.5V426.0M531.5 422.7V431.8M532.5 421.2V431.8M533.5 423.3V427.5M534.5 424.1V435.7M535.5 424.3V435.7M536.5 427.5V435.3M537.5 424.9V435.3M538.5 427.2V439.8M539.5 431.1V437.9M540.5 430.1V439.8M541.5 431.1V441.8M542.5 435.7V444.0M543.5 435.3V444.0M544.5 437.0V442.4M545.5 437.5V449.1M546.5 434.9V445.8M547.5 437.9V446.4M548.5 436.2V448.4M549.5 442.4V448.4M550.5 440.8V454.5M551.5 438.8V454.5M552.5 445.2V452.0M553.5 442.4V452.8M554.5 442.9V453.6M555.5 440.8V473.7M556.5 447.1V462.4M557.5 447.1V462.4M558.5 444.6V466.1M559.5 448.4V457.2M560.5 450.5V458.1M561.5 452.0V461.2M562.5 451.3V462.4M563.5 445.8V459.1M564.5 457.2V463.5M565.5 454.5V464.8M566.5 450.5V475.5M567.5 452.8V470.4M568.5 457.2V472.0M569.5 455.3V472.0M570.5 451.3V466.1M571.5 452.8V477.4M572.5 459.1V462.4M573.5 459.1V475.5M574.5 461.2V475.5M575.5 466.1V481.9M576.5 457.2V481.9M577.5 463.5V479.6M578.5 464.8V484.4M579.5 464.8V475.5M580.5 464.8V484.4M581.5 466.1V484.4M582.5 466.1V481.9M583.5 467.4V481.9M584.5 467.4V487.2M585.5 464.8V484.4M586.5 463.5V490.3M587.5 460.2V497.9M588.5 466.1V487.2M589.5 468.8V493.8M590.5 472.0V487.2M591.5 472.0V484.4M592.5 467.4V484.4M593.5 472.0V487.2M594.5 477.4V497.9M595.5 473.7V490.3M596.5 472.0V493.8M597.5 477.4V493.8M598.5 467.4V502.7M599.5 470.4V508.6M600.5 470.4V497.9M601.5 473.7V497.9M602.5 468.8V508.6M603.5 479.6V497.9M604.5 479.6V497.9M605.5 484.4V493.8M606.5 473.7V497.9M607.5 481.9V508.6M608.5 477.4V497.9M609.5 477.4V502.7M610.5 477.4V502.7M611.5 481.9V516.2M612.5 487.2V508.6M613.5 473.7V502.7M614.5 484.4V508.6M615.5 481.9V502.7M616.5 481.9V502.7M617.5 481.9V508.6M618.5 481.9V508.6M619.5 484.4V526.9M620.5 484.4V497.9M621.5 487.2V516.2M622.5 484.4V516.2M623.5 487.2V508.6M624.5 490.3V545.2M625.5 481.9V545.2M626.5 490.3V516.2M627.5 487.2V516.2M628.5 475.5V526.9M629.5 479.6V526.9M630.5 484.4V526.9M631.5 481.9V526.9M632.5 490.3V508.6M633.5 487.2V508.6M634.5 484.4V508.6M635.5 487.2V516.2M636.5 487.2V516.2M637.5 487.2V545.2M638.5 487.2V545.2M639.5 479.6V516.2M640.5 487.2V516.2M641.5 487.2V502.7M642.5 490.3V508.6M643.5 487.2V526.9M644.5 481.9V526.9M645.5 493.8V526.9M646.5 490.3V508.6M647.5 490.3V526.9M648.5 502.7V545.2M649.5 493.8V508.6M650.5 479.6V545.2M651.5 493.8V516.2M652.5 481.9V545.2M653.5 490.3V516.2M654.5 490.3V526.9M655.5 484.4V516.2M656.5 502.7V545.2M657.5 490.3V516.2M658.5 497.9V545.2M659.5 479.6V516.2M660.5 490.3V516.2M661.5 493.8V526.9M662.5 493.8V526.9M663.5 502.7V526.9M664.5 487.2V516.2M665.5 484.4V526.9M666.5 490.3V545.2M667.5 487.2V545.2M668.5 490.3V526.9M669.5 493.8V545.2M670.5 484.4V516.2M671.5 502.7V526.9M672.5 479.6V526.9M673.5 479.6V516.2M674.5 490.3V516.2M675.5 490.3V545.2M676.5 490.3V526.9M677.5 490.3V526.9M678.5 490.3V508.6M679.5 490.3V516.2M680.5 502.7V545.2M681.5 487.2V545.2M682.5 487.2V545.2M683.5 484.4V545.2M684.5 481.9V526.9M685.5 493.8V526.9M686.5 490.3V516.2M687.5 490.3V545.2M688.5 490.3V545.2M689.5 490.3V516.2M690.5 493.8V516.2M691.5 484.4V526.9M692.5 484.4V526.9M693.5 490.3V526.9M694.5 484.4V526.9M695.5 497.9V516.2M696.5 493.8V526.9M697.5 493.8V526.9M698.5 487.2V545.2M699.5 487.2V526.9M700.5 484.4V516.2M701.5 493.8V526.9M702.5 490.3V516.2M703.5 497.9V516.2M704.5 497.9V516.2M705.5 502.7V516.2M706.5 484.4V545.2M707.5 484.4V526.9M708.5 490.3V516.2M709.5 493.8V526.9M710.5 490.3V545.2M711.5 481.9V516.2M712.5 487.2V545.2M713.5 487.2V545.2M714.5 487.2V545.2M715.5 497.9V516.2M716.5 487.2V526.9M717.5 493.8V526.9M718.5 493.8V526.9M719.5 484.4V516.2M720.5 484.4V516.2M721.5 497.9V545.2M722.5 493.8V545.2M723.5 484.4V526.9M724.5 487.2V508.6M725.5 493.8V508.6M726.5 481.9V516.2M727.5 481.9V526.9M728.5 493.8V526.9M729.5 493.8V516.2M730.5 497.9V516.2M731.5 490.3V516.2M732.5 490.3V526.9M733.5 487.2V545.2M734.5 493.8V526.9M735.5 484.4V516.2M736.5 497.9V516.2M737.5 487.2V526.9M738.5 487.2V526.9M739.5 497.9V526.9M740.5 490.3V508.6M741.5 490.3V526.9M742.5 487.2V526.9M743.5 493.8V526.9M744.5 497.9V526.9M745.5 493.8V526.9M746.5 490.3V545.2M747.5 490.3V526.9M748.5 487.2V526.9M749.5 490.3V526.9M750.5 502.7V526.9M751.5 487.2V516.2M752.5 493.8V516.2M753.5 493.8V516.2M754.5 487.2V516.2M755.5 487.2V516.2M756.5 497.9V545.2M757.5 502.7V545.2M758.5 493.8V526.9M759.5 493.8V516.2M760.5 497.9V516.2M761.5 490.3V545.2M762.5 490.3V545.2M763.5 487.2V545.2M764.5 493.8V516.2M765.5 481.9V526.9M766.5 508.6V545.2M767.5 479.6V526.9M768.5 497.9V516.2M769.5 490.3V526.9M770.5 490.3V545.2M771.5 508.6V516.2" stroke="#ff0000" stroke-width="1.7" fill="none"/>
<path d="M469.5 477.4V526.9M470.5 452.0V477.4M471.5 426.0V452.0M472.5 402.4V428.8M473.5 385.7V402.4M474.5 372.0V385.7M475.5 360.7V372.0M476.5 350.0V360.7M477.5 343.6V350.3M478.5 338.1V343.6M479.5 333.6V338.1M480.5 327.9V333.6M481.5 326.4V329.2M482.5 323.7V326.4M483.5 322.4V324.2M484.5 321.0V322.4M485.5 319.9V321.3M486.5 319.7V321.1M487.5 319.2V321.1M488.5 319.2V321.8M489.5 321.2V324.1M490.5 324.0V328.8M491.5 328.8V333.7M492.5 333.7V338.0M493.5 338.0V345.8M494.5 345.8V350.3M495.5 350.3V355.8M496.5 355.8V362.4M497.5 362.4V369.6M498.5 368.8V376.5M499.5 375.3V385.8M500.5 384.0V387.7M501.5 387.7V395.5M502.5 391.6V402.3M503.5 399.3V404.2M504.5 402.6V407.8M505.5 405.1V412.6M506.5 409.7V416.8M507.5 411.8V418.3M508.5 413.5V422.0M509.5 416.0V427.8M510.5 419.1V429.4M511.5 424.3V432.2M512.5 423.3V431.5M513.5 424.9V433.3M514.5 426.3V433.7M515.5 426.3V436.2M516.5 431.8V434.5M517.5 429.8V440.3M518.5 432.2V439.8M519.5 432.9V442.9M520.5 430.8V444.0M521.5 434.9V446.4M522.5 436.6V452.0M523.5 438.8V444.6M524.5 438.4V457.2M525.5 438.4V452.8M526.5 442.9V451.3M527.5 439.8V451.3M528.5 440.8V451.3M529.5 440.8V455.3M530.5 442.9V462.4M531.5 447.1V454.5M532.5 445.2V459.1M533.5 444.0V459.1M534.5 454.5V459.1M535.5 449.1V470.4M536.5 449.8V468.8M537.5 455.3V462.4M538.5 450.5V470.4M539.5 447.7V467.4M540.5 456.2V467.4M541.5 458.1V477.4M542.5 452.0V468.8M543.5 452.0V475.5M544.5 456.2V479.6M545.5 459.1V477.4M546.5 464.8V487.2M547.5 464.8V475.5M548.5 459.1V473.7M549.5 463.5V481.9M550.5 466.1V481.9M551.5 468.8V484.4M552.5 464.8V490.3M553.5 464.8V497.9M554.5 468.8V502.7M555.5 467.4V487.2M556.5 462.4V487.2M557.5 472.0V487.2M558.5 470.4V487.2M559.5 470.4V493.8M560.5 477.4V490.3M561.5 475.5V508.6M562.5 472.0V487.2M563.5 479.6V497.9M564.5 475.5V502.7M565.5 484.4V502.7M566.5 472.0V502.7M567.5 475.5V497.9M568.5 475.5V502.7M569.5 484.4V502.7M570.5 484.4V526.9M571.5 487.2V508.6M572.5 484.4V508.6M573.5 477.4V497.9M574.5 484.4V516.2M575.5 479.6V508.6M576.5 481.9V508.6M577.5 481.9V508.6M578.5 493.8V516.2M579.5 484.4V508.6M580.5 479.6V526.9M581.5 487.2V508.6M582.5 493.8V526.9M583.5 493.8V545.2M584.5 502.7V526.9M585.5 475.5V516.2M586.5 497.9V508.6M587.5 484.4V526.9M588.5 487.2V526.9M589.5 490.3V526.9M590.5 493.8V516.2M591.5 493.8V516.2M592.5 493.8V526.9M593.5 493.8V526.9M594.5 487.2V545.2M595.5 493.8V516.2M596.5 497.9V545.2M597.5 481.9V545.2M598.5 497.9V516.2M599.5 497.9V545.2M600.5 493.8V545.2M601.5 497.9V545.2M602.5 502.7V526.9M603.5 490.3V545.2M604.5 493.8V526.9M605.5 493.8V545.2M606.5 493.8V526.9M607.5 493.8V545.2M608.5 493.8V545.2M609.5 497.9V545.2M610.5 508.6V545.2M611.5 502.7V545.2M612.5 493.8V545.2M613.5 497.9V545.2M614.5 490.3V545.2M615.5 497.9V545.2M616.5 497.9V545.2M617.5 493.8V545.2M618.5 497.9V526.9M619.5 490.3V545.2M620.5 490.3V545.2M621.5 490.3V516.2M622.5 497.9V526.9M623.5 497.9V526.9M624.5 502.7V545.2M625.5 490.3V545.2M626.5 493.8V545.2M627.5 493.8V545.2M628.5 516.2V545.2M629.5 487.2V545.2M630.5 497.9V526.9M631.5 497.9V526.9M632.5 493.8V545.2M633.5 502.7V545.2M634.5 502.7V545.2M635.5 493.8V545.2M636.5 502.7V545.2M637.5 493.8V545.2M638.5 493.8V526.9M639.5 508.6V545.2M640.5 516.2V526.9M641.5 502.7V545.2M642.5 508.6V545.2M643.5 502.7V545.2M644.5 508.6V545.2M645.5 490.3V545.2M646.5 493.8V526.9M647.5 493.8V545.2M648.5 490.3V526.9M649.5 484.4V545.2M650.5 493.8V545.2M651.5 502.7V545.2M652.5 493.8V545.2M653.5 502.7V545.2M654.5 497.9V526.9M655.5 502.7V545.2M656.5 493.8V545.2M657.5 493.8V545.2M658.5 493.8V516.2M659.5 497.9V526.9M660.5 487.2V545.2M661.5 502.7V545.2M662.5 493.8V545.2M663.5 493.8V545.2M664.5 490.3V545.2M665.5 516.2V526.9M666.5 502.7V545.2M667.5 502.7V545.2M668.5 493.8V545.2M669.5 502.7V545.2M670.5 516.2V545.2M671.5 508.6V545.2M672.5 490.3V545.2M673.5 490.3V545.2M674.5 508.6V545.2M675.5 516.2V545.2M676.5 497.9V526.9M677.5 497.9V526.9M678.5 497.9V545.2M679.5 497.9V526.9M680.5 493.8V526.9M681.5 493.8V526.9M682.5 490.3V526.9M683.5 502.7V545.2M684.5 508.6V545.2M685.5 508.6V526.9M686.5 502.7V545.2M687.5 490.3V526.9M688.5 508.6V545.2M689.5 490.3V545.2M690.5 490.3V545.2M691.5 497.9V545.2M692.5 497.9V526.9M693.5 502.7V545.2M694.5 490.3V526.9M695.5 502.7V545.2M696.5 516.2V545.2M697.5 493.8V526.9M698.5 508.6V545.2M699.5 502.7V545.2M700.5 493.8V526.9M701.5 493.8V545.2M702.5 493.8V526.9M703.5 493.8V545.2M704.5 493.8V526.9M705.5 502.7V545.2M706.5 493.8V545.2M707.5 502.7V545.2M708.5 502.7V545.2M709.5 493.8V516.2M710.5 497.9V545.2M711.5 497.9V545.2M712.5 497.9V545.2M713.5 502.7V545.2M714.5 502.7V545.2M715.5 502.7V526.9M716.5 502.7V545.2M717.5 502.7V526.9M718.5 493.8V545.2M719.5 490.3V545.2M720.5 490.3V545.2M721.5 497.9V545.2M722.5 508.6V545.2M723.5 502.7V545.2M724.5 502.7V516.2M725.5 493.8V545.2M726.5 493.8V526.9M727.5 502.7V545.2M728.5 508.6V545.2M729.5 502.7V526.9M730.5 508.6V545.2M731.5 502.7V545.2M732.5 493.8V545.2M733.5 497.9V545.2M734.5 508.6V526.9M735.5 493.8V545.2M736.5 508.6V545.2M737.5 497.9V545.2M738.5 497.9V526.9M739.5 508.6V545.2M740.5 493.8V545.2M741.5 502.7V545.2M742.5 497.9V545.2M743.5 497.9V545.2M744.5 502.7V545.2M745.5 502.7V545.2M746.5 497.9V526.9M747.5 493.8V545.2M748.5 493.8V526.9M749.5 484.4V526.9M750.5 502.7V526.9M751.5 493.8V545.2M752.5 497.9V516.2M753.5 508.6V545.2M754.5 502.7V545.2M755.5 493.8V545.2M756.5 497.9V526.9M757.5 490.3V526.9M758.5 508.6V545.2M759.5 508.6V545.2M760.5 508.6V545.2M761.5 502.7V545.2M762.5 497.9V545.2M763.5 493.8V526.9M764.5 508.6V526.9M765.5 493.8V545.2M766.5 493.8V545.2M767.5 508.6V526.9M768.5 497.9V526.9M769.5 497.9V545.2M770.5 502.7V526.9M771.5 502.7V516.2" stroke="#0000ff" stroke-width="1.7" fill="none"/>
</g>
<line x1="469.6" y1="301.8" x2="771.3" y2="301.8" stroke="#000" stroke-width="1.3"/>
<line x1="771.3" y1="301.8" x2="771.3" y2="503" stroke="#000" stroke-width="1.3"/>
<line x1="469.6" y1="301.2" x2="469.6" y2="503" stroke="#000" stroke-width="1.3"/>
<line x1="469.6" y1="503" x2="771.3" y2="503" stroke="#000" stroke-width="1.3"/>
<line x1="466.4" y1="497.9" x2="469.6" y2="497.9" stroke="#000" stroke-width="1.1"/>
<line x1="466.4" y1="493.8" x2="469.6" y2="493.8" stroke="#000" stroke-width="1.1"/>
<line x1="466.4" y1="490.3" x2="469.6" y2="490.3" stroke="#000" stroke-width="1.1"/>
<line x1="466.4" y1="487.2" x2="469.6" y2="487.2" stroke="#000" stroke-width="1.1"/>
<line x1="466.4" y1="466.1" x2="469.6" y2="466.1" stroke="#000" stroke-width="1.1"/>
<line x1="466.4" y1="455.3" x2="469.6" y2="455.3" stroke="#000" stroke-width="1.1"/>
<line x1="466.4" y1="447.7" x2="469.6" y2="447.7" stroke="#000" stroke-width="1.1"/>
<line x1="466.4" y1="441.8" x2="469.6" y2="441.8" stroke="#000" stroke-width="1.1"/>
<line x1="466.4" y1="437" x2="469.6" y2="437" stroke="#000" stroke-width="1.1"/>
<line x1="466.4" y1="432.9" x2="469.6" y2="432.9" stroke="#000" stroke-width="1.1"/>
<line x1="466.4" y1="429.4" x2="469.6" y2="429.4" stroke="#000" stroke-width="1.1"/>
<line x1="466.4" y1="426.3" x2="469.6" y2="426.3" stroke="#000" stroke-width="1.1"/>
<line x1="466.4" y1="405.2" x2="469.6" y2="405.2" stroke="#000" stroke-width="1.1"/>
<line x1="466.4" y1="394.5" x2="469.6" y2="394.5" stroke="#000" stroke-width="1.1"/>
<line x1="466.4" y1="386.9" x2="469.6" y2="386.9" stroke="#000" stroke-width="1.1"/>
<line x1="466.4" y1="381" x2="469.6" y2="381" stroke="#000" stroke-width="1.1"/>
<line x1="466.4" y1="376.2" x2="469.6" y2="376.2" stroke="#000" stroke-width="1.1"/>
<line x1="466.4" y1="372.1" x2="469.6" y2="372.1" stroke="#000" stroke-width="1.1"/>
<line x1="466.4" y1="368.6" x2="469.6" y2="368.6" stroke="#000" stroke-width="1.1"/>
<line x1="466.4" y1="365.4" x2="469.6" y2="365.4" stroke="#000" stroke-width="1.1"/>
<line x1="466.4" y1="344.3" x2="469.6" y2="344.3" stroke="#000" stroke-width="1.1"/>
<line x1="466.4" y1="333.6" x2="469.6" y2="333.6" stroke="#000" stroke-width="1.1"/>
<line x1="466.4" y1="326" x2="469.6" y2="326" stroke="#000" stroke-width="1.1"/>
<line x1="466.4" y1="320.1" x2="469.6" y2="320.1" stroke="#000" stroke-width="1.1"/>
<line x1="466.4" y1="315.3" x2="469.6" y2="315.3" stroke="#000" stroke-width="1.1"/>
<line x1="466.4" y1="311.2" x2="469.6" y2="311.2" stroke="#000" stroke-width="1.1"/>
<line x1="466.4" y1="307.7" x2="469.6" y2="307.7" stroke="#000" stroke-width="1.1"/>
<line x1="466.4" y1="304.6" x2="469.6" y2="304.6" stroke="#000" stroke-width="1.1"/>
<line x1="464.1" y1="484.4" x2="469.6" y2="484.4" stroke="#000" stroke-width="1.3"/>
<text id="dy1" x="438.50" y="489.98" font-size="15">10<tspan x="455.40" dy="-4.6" font-size="9.5">1</tspan></text>
<line x1="464.1" y1="423.5" x2="469.6" y2="423.5" stroke="#000" stroke-width="1.3"/>
<text id="dy2" x="438.50" y="428.82" font-size="15">10<tspan x="455.40" dy="-4.6" font-size="9.5">2</tspan></text>
<line x1="464.1" y1="362.7" x2="469.6" y2="362.7" stroke="#000" stroke-width="1.3"/>
<text id="dy3" x="438.50" y="368.66" font-size="15">10<tspan x="455.40" dy="-4.6" font-size="9.5">3</tspan></text>
<line x1="464.1" y1="301.8" x2="469.6" y2="301.8" stroke="#000" stroke-width="1.3"/>
<text id="dy4" x="438.50" y="307.50" font-size="15">10<tspan x="455.40" dy="-4.6" font-size="9.5">4</tspan></text>
<line x1="509" y1="503" x2="509" y2="508.5" stroke="#000" stroke-width="1.3"/>
<text id="dx1" x="508.95" y="525.00" font-size="15" text-anchor="middle" >5</text>
<line x1="574.5" y1="503" x2="574.5" y2="508.5" stroke="#000" stroke-width="1.3"/>
<text id="dx2" x="574.54" y="525.00" font-size="15" text-anchor="middle" >10</text>
<line x1="640.1" y1="503" x2="640.1" y2="508.5" stroke="#000" stroke-width="1.3"/>
<text id="dx3" x="640.12" y="525.00" font-size="15" text-anchor="middle" >15</text>
<line x1="705.7" y1="503" x2="705.7" y2="508.5" stroke="#000" stroke-width="1.3"/>
<text id="dx4" x="705.71" y="525.00" font-size="15" text-anchor="middle" >20</text>
<line x1="771.3" y1="503" x2="771.3" y2="508.5" stroke="#000" stroke-width="1.3"/>
<text id="dx5" x="771.29" y="525.00" font-size="15" text-anchor="middle" >25</text>
<text id="Dlab" x="411.00" y="300.80" font-size="19" letter-spacing="1.00" >D)</text>
<text id="Dytitle" transform="translate(429.00,428.20) rotate(-90)" font-size="16" letter-spacing="0.30" >Counts</text>
<text id="Dxtitle" x="574.50" y="548.80" font-size="16" letter-spacing="0.37" >Lifetime (ns)</text>
<line x1="551.6" y1="318" x2="551.6" y2="381" stroke="#000" stroke-width="1.3"/>
<path d="M546 318.6 L557.5 318.6 L551.7 304.2 Z" fill="#000"/>
<text id="Dt1" x="553.50" y="338.80" font-size="16" letter-spacing="0.37" >2.10 ns (+0.10 eq. ds26DNA)</text>
<text id="Dt2" x="560.50" y="380.20" font-size="16" letter-spacing="0.42" >0.63 ns (<tspan font-weight="bold">CQPP</tspan>)</text>
</svg></body></html>
